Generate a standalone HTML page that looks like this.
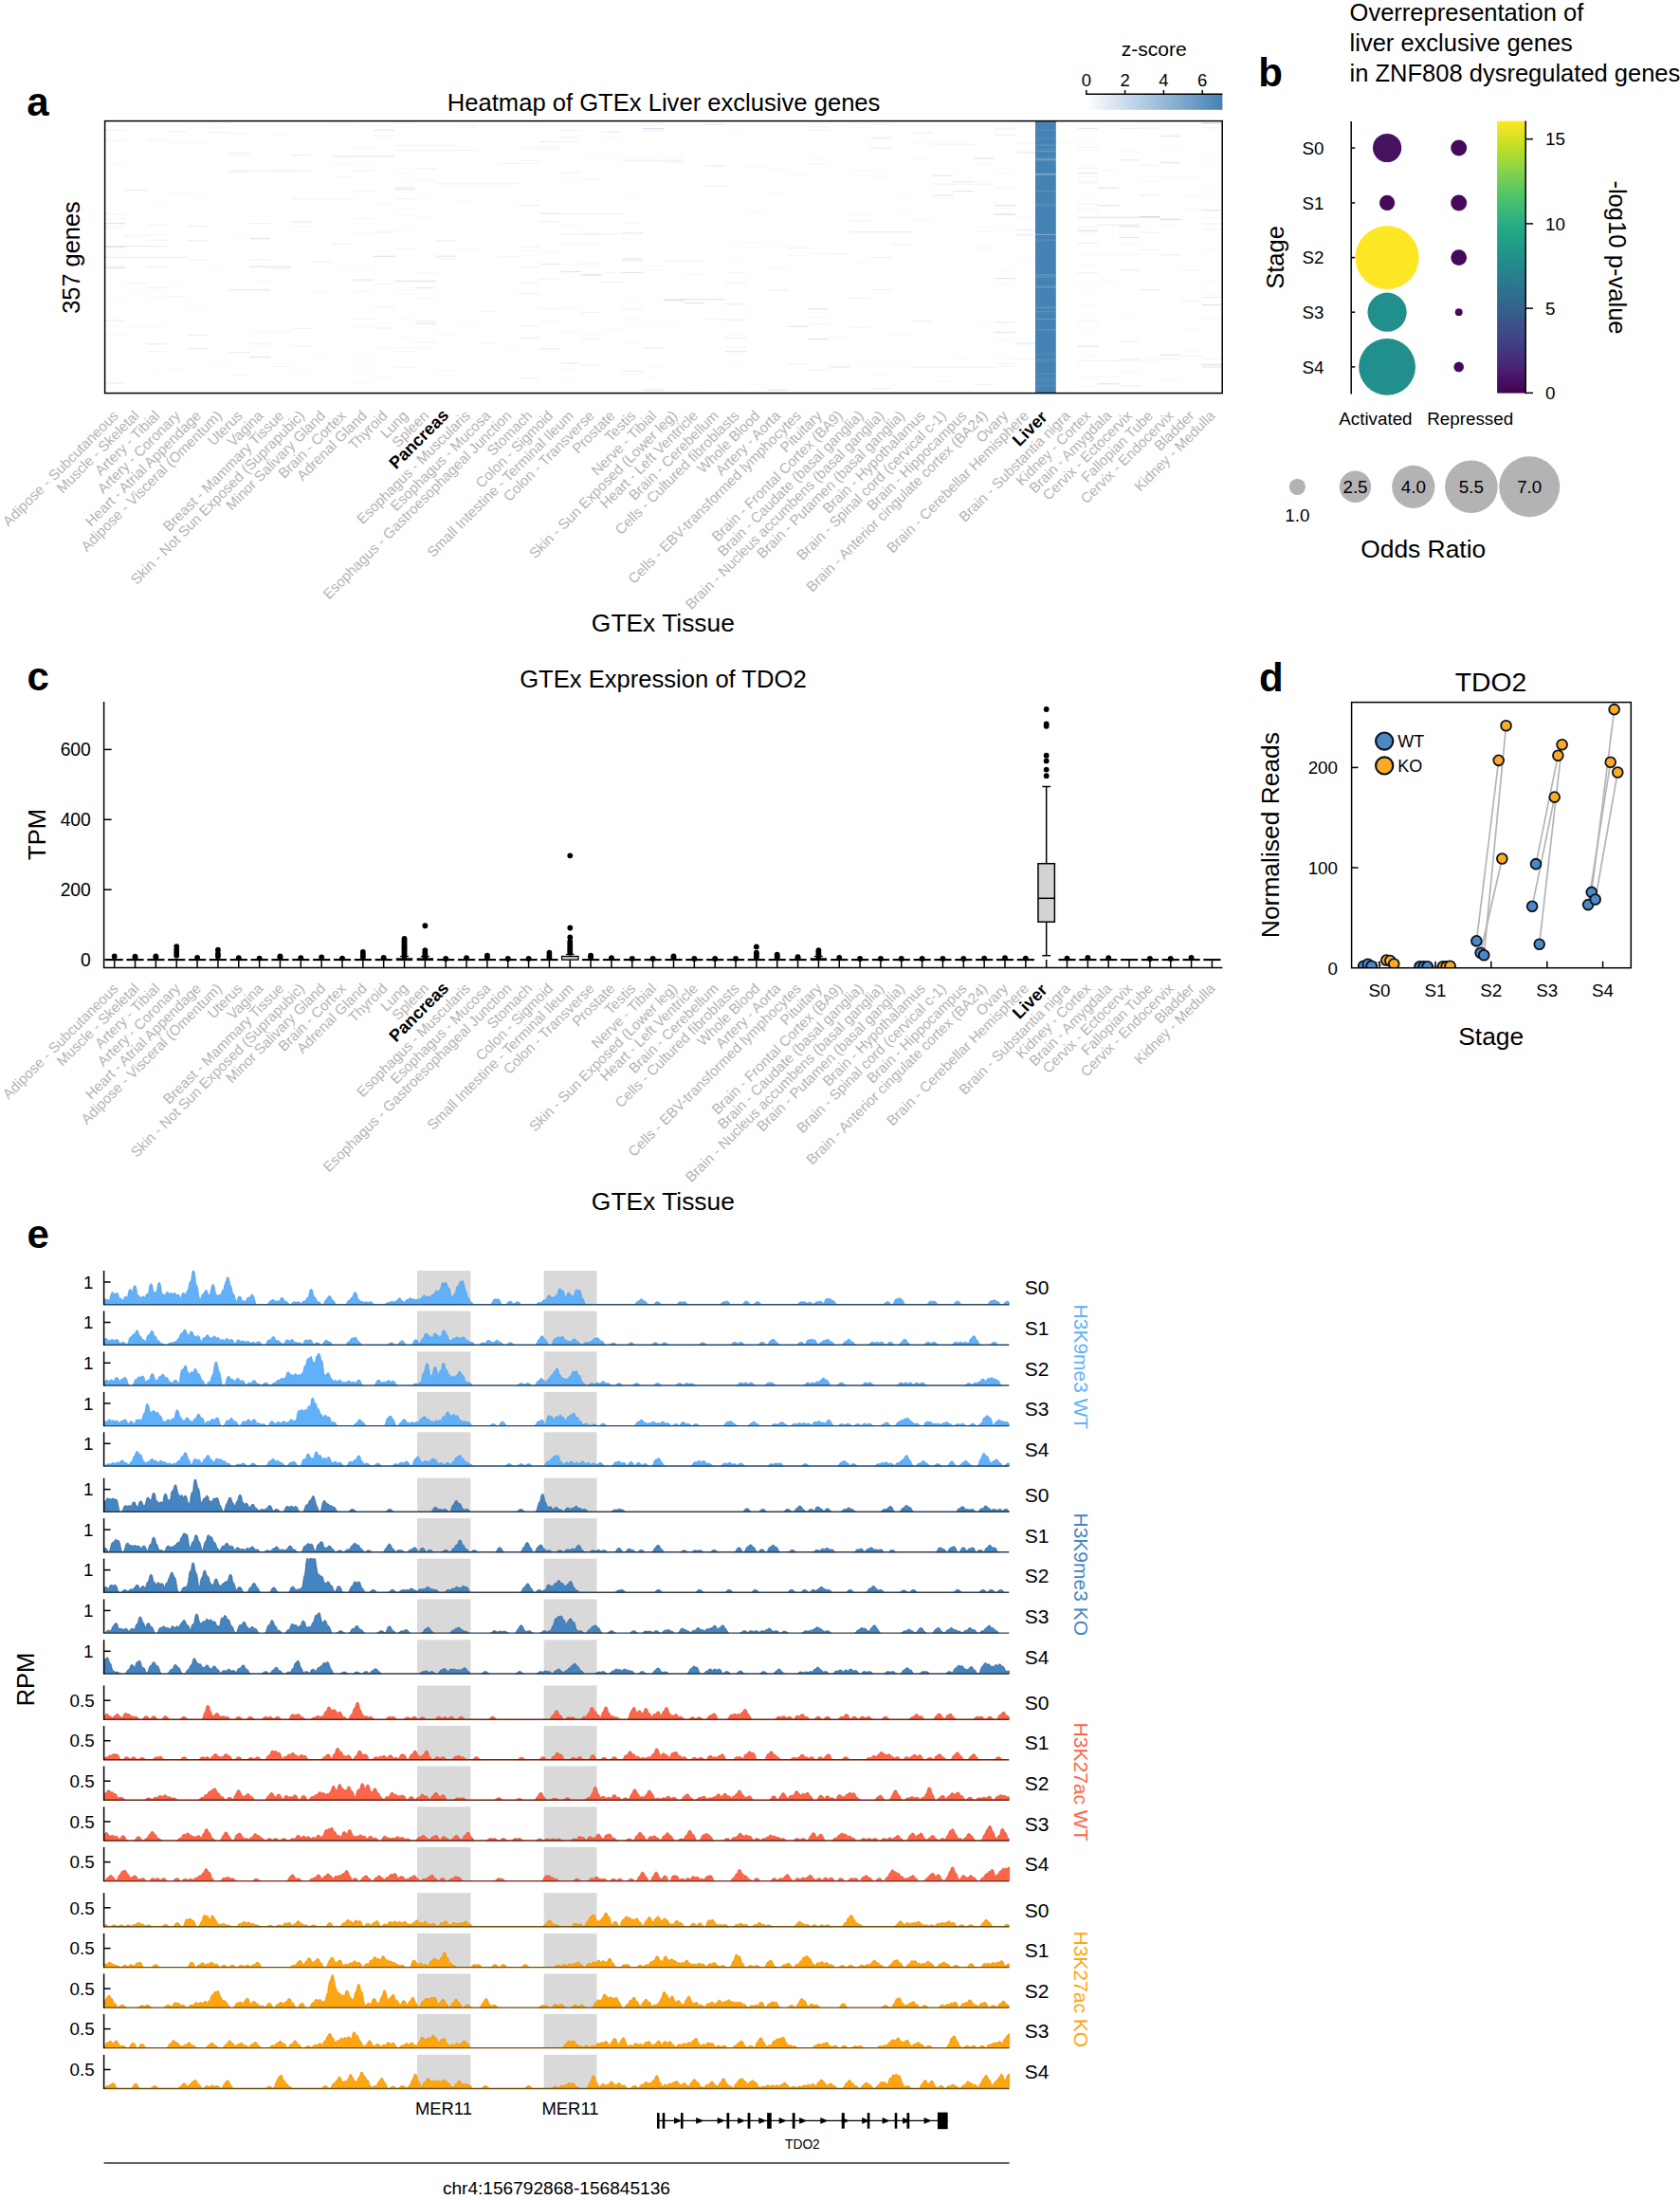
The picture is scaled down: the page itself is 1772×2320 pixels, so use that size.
<!DOCTYPE html>
<html><head><meta charset="utf-8"><title>Figure</title>
<style>html,body{margin:0;padding:0;background:#fff}svg{display:block}text{font-family:"Liberation Sans",Arial,sans-serif}</style>
</head><body>
<svg width="1772" height="2320" viewBox="0 0 1772 2320">
<rect width="1772" height="2320" fill="#fff"/>
<text x="28.20" y="121.60" font-size="42" text-anchor="start" fill="#000" font-weight="bold" >a</text>
<text x="700.10" y="117.30" font-size="25.6" text-anchor="middle" fill="#000" >Heatmap of GTEx Liver exclusive genes</text>
<text x="0" y="0" transform="translate(84.40,271.50) rotate(-90)" font-size="25.4" text-anchor="middle" fill="#000" >357 genes</text>
<path d="M656.2 287.6h21.8M1136.4 182.5h21.8M394.3 137.1h21.8M699.9 316.7h21.8M110.6 260.6h21.8M1005.5 201.6h21.8M1201.9 228.5h21.8M1049.1 293.6h21.8M1049.1 225.9h21.8M721.7 319.5h21.8M983.6 185.2h21.8M1180.1 238.8h21.8M1267.4 384.4h21.8M263.4 251.8h21.8M394.3 270.3h21.8M678.1 135.5h21.8M809.0 411.2h21.8M1180.1 250.6h21.8M241.6 305.9h43.7M612.6 289.9h21.8M852.7 326.0h21.8M1136.4 365.4h21.8M656.2 273.0h21.8M590.8 286.6h21.8M110.6 235.7h21.8M1223.7 231.2h21.8M1136.4 243.1h21.8M1158.2 198.0h21.8M1158.2 404.8h21.8M263.4 281.3h43.7M459.8 270.2h21.8M1136.4 229.2h87.3M1027.3 166.9h21.8M765.4 370.7h21.8M852.7 357.6h21.8M1049.1 350.3h21.8M699.9 315.8h65.5M830.9 344.3h21.8M1267.4 321.5h21.8M983.6 206.1h21.8M1267.4 129.6h21.8M438.0 341.3h21.8M1158.2 216.7h21.8M110.6 282.7h21.8M1223.7 374.1h21.8M1049.1 216.6h21.8M416.2 198.2h21.8M1223.7 171.7h21.8M350.7 165.0h65.5M416.2 296.4h43.7M263.4 376.7h21.8M1267.4 221.8h21.8M1267.4 386.9h21.8" stroke="#6c93bb" stroke-opacity="0.26" stroke-width="1" fill="none"/>
<path d="M1136.4 155.3h21.8M459.8 193.8h87.3M1070.9 242.3h21.8M416.2 153.3h65.5M612.6 189.1h21.8M372.5 202.0h21.8M394.3 299.4h21.8M219.7 139.6h21.8M1201.9 263.4h21.8M1267.4 378.5h21.8M852.7 390.0h21.8M394.3 243.6h21.8M568.9 294.2h21.8M590.8 182.5h21.8M896.3 314.6h21.8M918.2 271.4h21.8M1180.1 407.1h21.8M1136.4 287.6h21.8M285.2 283.3h21.8M394.3 323.7h21.8M263.4 273.6h21.8M961.8 387.4h87.3M350.7 257.5h21.8M372.5 294.6h21.8M590.8 383.2h21.8M1245.5 317.8h21.8M918.2 131.7h21.8M612.6 278.2h21.8M438.0 314.7h21.8M1049.1 142.8h21.8M525.3 172.5h21.8M940.0 258.0h21.8M459.8 272.7h21.8M918.2 409.5h21.8M547.1 156.2h43.7M634.4 297.5h21.8M1136.4 215.2h21.8M1136.4 338.4h21.8M1070.9 378.8h21.8M416.2 158.5h87.3M394.3 346.0h21.8M568.9 224.5h21.8M1201.9 245.2h21.8M568.9 278.9h21.8M438.0 177.6h21.8M1245.5 284.9h21.8M568.9 278.4h21.8M983.6 152.1h43.7M307.0 364.9h21.8M547.1 281.9h21.8M372.5 336.3h21.8M416.2 262.0h21.8M852.7 133.9h21.8M307.0 346.3h21.8M656.2 247.2h21.8M765.4 287.8h21.8M1049.1 383.3h21.8M263.4 362.8h21.8M547.1 344.0h21.8M328.9 276.2h21.8M241.6 161.2h21.8M612.6 385.4h21.8M852.7 342.1h21.8M743.6 196.5h21.8M1223.7 378.4h21.8M983.6 194.1h65.5M438.0 360.8h21.8M132.4 298.9h21.8M1049.1 198.4h21.8M154.3 146.8h21.8M678.1 137.7h21.8M132.4 249.4h21.8M1136.4 177.3h21.8M1223.7 232.0h21.8M918.2 145.2h21.8M568.9 149.3h21.8M547.1 172.2h21.8M852.7 137.6h21.8M656.2 325.7h21.8M1136.4 192.8h21.8M678.1 131.8h21.8M154.3 370.8h21.8M154.3 237.5h21.8M416.2 370.8h21.8M110.6 239.7h21.8M830.9 261.8h21.8M176.1 138.6h21.8M568.9 225.6h87.3M590.8 246.6h65.5M1070.9 151.0h21.8M874.5 267.9h21.8M896.3 233.0h21.8M612.6 329.4h21.8M263.4 235.7h21.8M241.6 140.6h21.8M154.3 253.2h21.8M568.9 325.7h21.8M590.8 137.7h21.8M590.8 145.0h21.8M765.4 320.3h21.8M568.9 233.5h21.8M547.1 309.8h21.8M1136.4 380.7h65.5M154.3 303.7h21.8M110.6 225.8h21.8M1267.4 236.0h21.8M241.6 395.9h21.8M176.1 204.1h21.8M241.6 163.6h21.8M154.3 247.6h21.8M1136.4 238.8h21.8M110.6 137.2h21.8M547.1 260.6h21.8M918.2 305.5h21.8M307.0 233.9h21.8M1180.1 135.5h21.8M197.9 274.1h21.8M438.0 338.6h21.8M743.6 336.8h21.8M1267.4 130.6h21.8M547.1 298.4h21.8M699.9 275.2h43.7M1136.4 221.8h21.8M307.0 209.7h65.5M699.9 171.3h21.8M1267.4 229.9h21.8M830.9 384.0h21.8M547.1 398.7h21.8M110.6 281.2h21.8M438.0 287.9h21.8M416.2 209.6h21.8M765.4 337.0h21.8" stroke="#6c93bb" stroke-opacity="0.12" stroke-width="1" fill="none"/>
<path d="M765.4 381.5h21.8M1136.4 146.5h21.8M590.8 285.2h21.8M1245.5 369.2h21.8M1267.4 296.9h21.8M568.9 371.2h43.7M568.9 265.6h21.8M328.9 333.2h21.8M656.2 314.2h21.8M1201.9 186.5h65.5M743.6 405.0h21.8M1267.4 134.6h21.8M1049.1 219.2h21.8M1136.4 247.1h21.8M110.6 149.1h21.8M765.4 275.9h21.8M197.9 134.9h21.8M263.4 228.2h21.8M1136.4 207.6h21.8M438.0 229.2h21.8M285.2 141.9h21.8M1027.3 343.0h21.8M1136.4 386.0h21.8M918.2 186.8h21.8M1136.4 219.6h21.8M678.1 136.7h21.8M678.1 398.2h21.8M372.5 280.8h21.8M1267.4 163.2h21.8M241.6 247.7h21.8M263.4 349.9h43.7M1005.5 378.2h21.8M874.5 355.5h21.8M1223.7 155.6h21.8M961.8 150.6h21.8M547.1 308.7h21.8M372.5 175.5h21.8M503.5 261.8h21.8M1267.4 385.0h21.8M590.8 180.3h21.8M1267.4 311.0h21.8M1267.4 135.1h21.8M416.2 242.6h21.8M176.1 298.3h21.8M1049.1 141.5h21.8M1049.1 196.3h21.8M918.2 184.3h21.8M110.6 202.3h21.8M219.7 282.4h21.8M699.9 166.5h21.8M940.0 221.5h21.8M765.4 352.4h21.8M678.1 281.2h21.8M896.3 277.4h21.8M154.3 216.2h21.8M307.0 389.8h21.8M110.6 265.2h21.8M590.8 400.0h21.8M154.3 391.1h21.8M1267.4 204.3h21.8M197.9 205.3h21.8M590.8 389.0h21.8M961.8 340.6h21.8M809.0 258.7h21.8M1049.1 286.4h21.8M568.9 157.5h21.8M1136.4 296.9h43.7M481.6 211.9h21.8M110.6 315.9h21.8M350.7 284.2h21.8M1223.7 143.8h21.8M612.6 163.4h43.7M372.5 372.6h21.8M394.3 398.2h21.8M328.9 373.3h21.8M438.0 206.2h21.8M416.2 310.3h21.8M176.1 389.1h21.8M372.5 404.3h21.8M1136.4 137.4h21.8M656.2 327.0h21.8M656.2 340.2h65.5M656.2 394.3h21.8M394.3 367.0h65.5M1070.9 276.1h21.8M852.7 168.4h21.8M416.2 355.7h21.8M1245.5 347.7h21.8M416.2 191.1h21.8M1049.1 377.8h21.8M285.2 178.3h21.8M590.8 220.1h21.8M547.1 202.3h21.8M110.6 344.6h65.5M1223.7 141.9h21.8M372.5 401.0h21.8M1136.4 363.7h21.8M154.3 314.1h21.8M372.5 179.7h21.8M1136.4 344.9h21.8M481.6 342.8h21.8M1136.4 307.1h21.8M765.4 140.7h21.8M656.2 209.3h21.8M918.2 394.9h21.8M721.7 410.8h21.8M1267.4 196.3h21.8M1136.4 347.5h21.8M307.0 232.5h21.8M874.5 384.7h87.3M590.8 258.3h21.8M940.0 204.6h21.8M1136.4 370.1h21.8M219.7 383.2h21.8M1005.5 411.9h21.8M219.7 354.3h21.8M1267.4 263.1h21.8M787.2 405.3h21.8M830.9 176.9h21.8M809.0 177.9h21.8M110.6 172.3h21.8M1027.3 173.1h21.8M678.1 387.6h21.8M438.0 189.6h21.8M1158.2 397.4h21.8M612.6 256.6h21.8M590.8 191.8h21.8M372.5 345.2h21.8M547.1 154.1h43.7M874.5 388.0h21.8M656.2 252.7h21.8M1180.1 335.3h21.8M525.3 364.8h21.8M590.8 324.8h21.8M416.2 336.0h21.8M372.5 386.5h21.8M241.6 181.5h21.8M1136.4 407.5h21.8" stroke="#6c93bb" stroke-opacity="0.05" stroke-width="1" fill="none"/>
<path d="M590.8 257.3h21.8M830.9 184.1h21.8M590.8 149.3h21.8M1070.9 162.1h21.8M787.2 255.7h21.8M568.9 149.7h21.8M263.4 295.4h21.8M350.7 172.4h21.8M416.2 182.5h21.8M634.4 145.8h21.8M1180.1 407.1h21.8M765.4 337.9h21.8M547.1 169.3h21.8M612.6 357.5h21.8M1245.5 207.2h21.8M416.2 226.8h21.8M110.6 280.0h21.8M634.4 287.3h21.8M1245.5 375.7h21.8M1136.4 243.4h21.8M590.8 278.9h21.8M1136.4 280.3h21.8M1136.4 302.3h21.8M1049.1 358.8h21.8M459.8 390.7h21.8M372.5 156.1h21.8M612.6 352.9h21.8M896.3 226.2h21.8M350.7 186.5h21.8M416.2 387.4h21.8M1070.9 243.8h21.8M1223.7 238.2h21.8M1049.1 136.2h21.8M1027.3 261.6h21.8M961.8 232.0h21.8M852.7 334.5h21.8M1049.1 182.5h21.8M1201.9 174.3h21.8M547.1 264.5h21.8M656.2 362.1h21.8M1049.1 239.4h21.8M1070.9 363.2h21.8M1114.6 150.2h21.8M983.6 208.9h21.8M1267.4 335.9h21.8M765.4 366.1h21.8M394.3 145.0h21.8M612.6 248.0h21.8M328.9 309.0h21.8M372.5 230.6h21.8M394.3 142.7h21.8M1180.1 256.4h21.8M852.7 173.3h21.8M285.2 386.5h21.8M1070.9 129.0h21.8M154.3 149.7h65.5M1136.4 332.9h21.8M896.3 179.5h21.8M503.5 362.4h21.8M459.8 352.6h21.8M525.3 270.7h21.8M372.5 393.7h21.8M656.2 335.9h21.8M590.8 350.9h21.8M896.3 345.4h21.8M612.6 357.3h21.8M1049.1 135.4h21.8M1158.2 411.3h21.8M372.5 180.0h21.8M394.3 214.1h21.8M612.6 290.1h21.8M110.6 353.1h21.8M1136.4 322.9h21.8M634.4 348.1h21.8M1158.2 179.7h21.8M809.0 282.9h21.8M1049.1 299.2h21.8M1027.3 405.8h21.8M1201.9 190.6h21.8M1201.9 379.8h21.8M132.4 247.4h21.8M787.2 175.1h21.8M416.2 133.9h21.8M721.7 289.7h21.8M852.7 267.3h21.8M656.2 235.7h21.8M765.4 256.2h21.8M1245.5 375.2h21.8M1070.9 228.2h21.8M1049.1 386.3h21.8M809.0 203.0h21.8M1267.4 171.2h21.8M219.7 134.1h21.8M983.6 402.4h21.8M416.2 220.9h21.8M1136.4 186.8h21.8M350.7 132.5h21.8M961.8 168.0h21.8M1027.3 244.5h21.8M481.6 134.1h21.8M678.1 411.8h21.8M1201.9 135.3h21.8M765.4 321.8h21.8M307.0 234.5h21.8M481.6 263.0h21.8M1245.5 220.1h21.8M590.8 237.8h21.8M416.2 305.5h21.8M1267.4 242.8h21.8M1180.1 160.1h21.8M765.4 374.4h21.8M1136.4 268.0h65.5M1223.7 399.9h21.8M372.5 307.3h21.8M1136.4 397.2h21.8M110.6 148.2h21.8M503.5 328.4h21.8M176.1 312.7h21.8M568.9 339.7h21.8M394.3 245.5h21.8M1136.4 376.6h21.8M918.2 145.9h21.8M1267.4 240.8h21.8M940.0 353.0h21.8M830.9 269.8h21.8M699.9 164.0h21.8M1136.4 158.2h21.8M590.8 383.0h21.8M110.6 230.7h21.8M132.4 306.0h21.8M896.3 134.9h21.8M197.9 323.2h21.8M372.5 246.4h21.8M1180.1 392.9h21.8M678.1 284.7h21.8M481.6 132.8h21.8M830.9 259.9h21.8M787.2 223.2h21.8M1136.4 190.7h21.8M1049.1 226.3h21.8M307.0 239.3h21.8M612.6 350.1h21.8" stroke="#6c93bb" stroke-opacity="0.08" stroke-width="1" fill="none"/>
<path d="M1223.7 143.5h21.8M1070.9 247.7h21.8M809.0 306.1h21.8M656.2 391.5h21.8M874.5 387.0h21.8M197.9 253.8h21.8M110.6 403.9h21.8M154.3 281.6h21.8M197.9 238.8h21.8M656.2 274.9h21.8M197.9 367.7h21.8M1180.1 284.8h21.8M765.4 298.0h21.8M896.3 244.7h65.5M1136.4 135.4h21.8M1267.4 313.5h21.8M918.2 156.3h21.8M634.4 139.2h21.8M307.0 163.8h21.8M1070.9 361.8h21.8M1201.9 305.5h21.8M459.8 253.9h21.8M961.8 338.1h21.8M656.2 169.2h65.5M656.2 245.4h21.8M678.1 411.1h21.8M438.0 303.6h21.8M1180.1 360.2h21.8M110.6 259.7h65.5M1070.9 160.4h21.8M1180.1 168.8h21.8M241.6 371.5h21.8M568.9 368.0h21.8M1136.4 256.4h21.8M1005.5 191.5h21.8M1201.9 205.8h21.8M1158.2 237.1h43.7M961.8 140.1h21.8M132.4 200.7h21.8M416.2 200.2h21.8M765.4 356.3h21.8M1180.1 378.7h21.8M678.1 367.1h21.8M110.6 271.3h87.3M743.6 131.5h21.8M1049.1 339.9h21.8M241.6 180.2h87.3M547.1 216.7h21.8M197.9 353.4h21.8M743.6 175.0h21.8M372.5 296.0h21.8M110.6 337.9h21.8M1223.7 268.8h21.8M547.1 356.6h21.8M154.3 362.9h21.8" stroke="#6c93bb" stroke-opacity="0.18" stroke-width="1" fill="none"/>
<rect x="1091.97" y="127.60" width="21.83" height="287.00" fill="#4682b4" />
<path d="M1092.0 324.2h21.8" stroke="#fff" stroke-opacity="0.2" stroke-width="1"/>
<path d="M1092.0 336.4h21.8" stroke="#fff" stroke-opacity="0.2" stroke-width="1"/>
<path d="M1092.0 289.9h21.8" stroke="#fff" stroke-opacity="0.2" stroke-width="1"/>
<path d="M1092.0 381.0h21.8" stroke="#fff" stroke-opacity="0.1" stroke-width="1"/>
<path d="M1092.0 399.3h21.8" stroke="#fff" stroke-opacity="0.1" stroke-width="1"/>
<path d="M1092.0 292.4h21.8" stroke="#fff" stroke-opacity="0.1" stroke-width="1"/>
<path d="M1092.0 214.8h21.8" stroke="#fff" stroke-opacity="0.1" stroke-width="1"/>
<path d="M1092.0 157.7h21.8" stroke="#fff" stroke-opacity="0.1" stroke-width="1"/>
<path d="M1092.0 184.3h21.8" stroke="#fff" stroke-opacity="0.2" stroke-width="1"/>
<path d="M1092.0 216.8h21.8" stroke="#fff" stroke-opacity="0.15" stroke-width="1"/>
<path d="M1092.0 146.1h21.8" stroke="#fff" stroke-opacity="0.1" stroke-width="1"/>
<path d="M1092.0 168.7h21.8" stroke="#fff" stroke-opacity="0.35" stroke-width="1"/>
<path d="M1092.0 291.3h21.8" stroke="#fff" stroke-opacity="0.1" stroke-width="1"/>
<path d="M1092.0 253.1h21.8" stroke="#fff" stroke-opacity="0.15" stroke-width="1"/>
<path d="M1092.0 153.1h21.8" stroke="#fff" stroke-opacity="0.2" stroke-width="1"/>
<path d="M1092.0 303.2h21.8" stroke="#fff" stroke-opacity="0.15" stroke-width="1"/>
<path d="M1092.0 379.3h21.8" stroke="#fff" stroke-opacity="0.1" stroke-width="1"/>
<path d="M1092.0 247.5h21.8" stroke="#fff" stroke-opacity="0.35" stroke-width="1"/>
<path d="M1092.0 183.6h21.8" stroke="#fff" stroke-opacity="0.35" stroke-width="1"/>
<path d="M1092.0 137.0h21.8" stroke="#fff" stroke-opacity="0.1" stroke-width="1"/>
<path d="M1092.0 167.0h21.8" stroke="#fff" stroke-opacity="0.2" stroke-width="1"/>
<path d="M1092.0 201.6h21.8" stroke="#fff" stroke-opacity="0.15" stroke-width="1"/>
<path d="M1092.0 328.7h21.8" stroke="#fff" stroke-opacity="0.15" stroke-width="1"/>
<path d="M1092.0 406.8h21.8" stroke="#fff" stroke-opacity="0.15" stroke-width="1"/>
<path d="M1092.0 373.3h21.8" stroke="#fff" stroke-opacity="0.1" stroke-width="1"/>
<path d="M1092.0 302.1h21.8" stroke="#fff" stroke-opacity="0.2" stroke-width="1"/>
<path d="M1092.0 394.6h21.8" stroke="#fff" stroke-opacity="0.1" stroke-width="1"/>
<path d="M1092.0 347.8h21.8" stroke="#fff" stroke-opacity="0.15" stroke-width="1"/>
<path d="M1092.0 402.1h21.8" stroke="#fff" stroke-opacity="0.1" stroke-width="1"/>
<path d="M1092.0 159.7h21.8" stroke="#fff" stroke-opacity="0.2" stroke-width="1"/>
<rect x="110.6" y="127.6" width="1178.60" height="287.00" fill="none" stroke="#000" stroke-width="1.5"/>
<text x="0" y="0" transform="translate(125.71,439.30) rotate(-45)" font-size="15.15" text-anchor="end" fill="#b4b4b4" >Adipose - Subcutaneous</text>
<text x="0" y="0" transform="translate(147.54,439.30) rotate(-45)" font-size="15.15" text-anchor="end" fill="#b4b4b4" >Muscle - Skeletal</text>
<text x="0" y="0" transform="translate(169.36,439.30) rotate(-45)" font-size="15.15" text-anchor="end" fill="#b4b4b4" >Artery - Tibial</text>
<text x="0" y="0" transform="translate(191.19,439.30) rotate(-45)" font-size="15.15" text-anchor="end" fill="#b4b4b4" >Artery - Coronary</text>
<text x="0" y="0" transform="translate(213.02,439.30) rotate(-45)" font-size="15.15" text-anchor="end" fill="#b4b4b4" >Heart - Atrial Appendage</text>
<text x="0" y="0" transform="translate(234.84,439.30) rotate(-45)" font-size="15.15" text-anchor="end" fill="#b4b4b4" >Adipose - Visceral (Omentum)</text>
<text x="0" y="0" transform="translate(256.67,439.30) rotate(-45)" font-size="15.15" text-anchor="end" fill="#b4b4b4" >Uterus</text>
<text x="0" y="0" transform="translate(278.49,439.30) rotate(-45)" font-size="15.15" text-anchor="end" fill="#b4b4b4" >Vagina</text>
<text x="0" y="0" transform="translate(300.32,439.30) rotate(-45)" font-size="15.15" text-anchor="end" fill="#b4b4b4" >Breast - Mammary Tissue</text>
<text x="0" y="0" transform="translate(322.15,439.30) rotate(-45)" font-size="15.15" text-anchor="end" fill="#b4b4b4" >Skin - Not Sun Exposed (Suprapubic)</text>
<text x="0" y="0" transform="translate(343.97,439.30) rotate(-45)" font-size="15.15" text-anchor="end" fill="#b4b4b4" >Minor Salivary Gland</text>
<text x="0" y="0" transform="translate(365.80,439.30) rotate(-45)" font-size="15.15" text-anchor="end" fill="#b4b4b4" >Brain - Cortex</text>
<text x="0" y="0" transform="translate(387.62,439.30) rotate(-45)" font-size="15.15" text-anchor="end" fill="#b4b4b4" >Adrenal Gland</text>
<text x="0" y="0" transform="translate(409.45,439.30) rotate(-45)" font-size="15.15" text-anchor="end" fill="#b4b4b4" >Thyroid</text>
<text x="0" y="0" transform="translate(431.28,439.30) rotate(-45)" font-size="15.15" text-anchor="end" fill="#b4b4b4" >Lung</text>
<text x="0" y="0" transform="translate(453.10,439.30) rotate(-45)" font-size="15.15" text-anchor="end" fill="#b4b4b4" >Spleen</text>
<text x="0" y="0" transform="translate(474.33,439.00) rotate(-45)" font-size="18.0" text-anchor="end" fill="#000" font-weight="bold" >Pancreas</text>
<text x="0" y="0" transform="translate(496.75,439.30) rotate(-45)" font-size="15.15" text-anchor="end" fill="#b4b4b4" >Esophagus - Muscularis</text>
<text x="0" y="0" transform="translate(518.58,439.30) rotate(-45)" font-size="15.15" text-anchor="end" fill="#b4b4b4" >Esophagus - Mucosa</text>
<text x="0" y="0" transform="translate(540.41,439.30) rotate(-45)" font-size="15.15" text-anchor="end" fill="#b4b4b4" >Esophagus - Gastroesophageal Junction</text>
<text x="0" y="0" transform="translate(562.23,439.30) rotate(-45)" font-size="15.15" text-anchor="end" fill="#b4b4b4" >Stomach</text>
<text x="0" y="0" transform="translate(584.06,439.30) rotate(-45)" font-size="15.15" text-anchor="end" fill="#b4b4b4" >Colon - Sigmoid</text>
<text x="0" y="0" transform="translate(605.88,439.30) rotate(-45)" font-size="15.15" text-anchor="end" fill="#b4b4b4" >Small Intestine - Terminal Ileum</text>
<text x="0" y="0" transform="translate(627.71,439.30) rotate(-45)" font-size="15.15" text-anchor="end" fill="#b4b4b4" >Colon - Transverse</text>
<text x="0" y="0" transform="translate(649.54,439.30) rotate(-45)" font-size="15.15" text-anchor="end" fill="#b4b4b4" >Prostate</text>
<text x="0" y="0" transform="translate(671.36,439.30) rotate(-45)" font-size="15.15" text-anchor="end" fill="#b4b4b4" >Testis</text>
<text x="0" y="0" transform="translate(693.19,439.30) rotate(-45)" font-size="15.15" text-anchor="end" fill="#b4b4b4" >Nerve - Tibial</text>
<text x="0" y="0" transform="translate(715.01,439.30) rotate(-45)" font-size="15.15" text-anchor="end" fill="#b4b4b4" >Skin - Sun Exposed (Lower leg)</text>
<text x="0" y="0" transform="translate(736.84,439.30) rotate(-45)" font-size="15.15" text-anchor="end" fill="#b4b4b4" >Heart - Left Ventricle</text>
<text x="0" y="0" transform="translate(758.66,439.30) rotate(-45)" font-size="15.15" text-anchor="end" fill="#b4b4b4" >Brain - Cerebellum</text>
<text x="0" y="0" transform="translate(780.49,439.30) rotate(-45)" font-size="15.15" text-anchor="end" fill="#b4b4b4" >Cells - Cultured fibroblasts</text>
<text x="0" y="0" transform="translate(802.32,439.30) rotate(-45)" font-size="15.15" text-anchor="end" fill="#b4b4b4" >Whole Blood</text>
<text x="0" y="0" transform="translate(824.14,439.30) rotate(-45)" font-size="15.15" text-anchor="end" fill="#b4b4b4" >Artery - Aorta</text>
<text x="0" y="0" transform="translate(845.97,439.30) rotate(-45)" font-size="15.15" text-anchor="end" fill="#b4b4b4" >Cells - EBV-transformed lymphocytes</text>
<text x="0" y="0" transform="translate(867.79,439.30) rotate(-45)" font-size="15.15" text-anchor="end" fill="#b4b4b4" >Pituitary</text>
<text x="0" y="0" transform="translate(889.62,439.30) rotate(-45)" font-size="15.15" text-anchor="end" fill="#b4b4b4" >Brain - Frontal Cortex (BA9)</text>
<text x="0" y="0" transform="translate(911.45,439.30) rotate(-45)" font-size="15.15" text-anchor="end" fill="#b4b4b4" >Brain - Caudate (basal ganglia)</text>
<text x="0" y="0" transform="translate(933.27,439.30) rotate(-45)" font-size="15.15" text-anchor="end" fill="#b4b4b4" >Brain - Nucleus accumbens (basal ganglia)</text>
<text x="0" y="0" transform="translate(955.10,439.30) rotate(-45)" font-size="15.15" text-anchor="end" fill="#b4b4b4" >Brain - Putamen (basal ganglia)</text>
<text x="0" y="0" transform="translate(976.92,439.30) rotate(-45)" font-size="15.15" text-anchor="end" fill="#b4b4b4" >Brain - Hypothalamus</text>
<text x="0" y="0" transform="translate(998.75,439.30) rotate(-45)" font-size="15.15" text-anchor="end" fill="#b4b4b4" >Brain - Spinal cord (cervical c-1)</text>
<text x="0" y="0" transform="translate(1020.58,439.30) rotate(-45)" font-size="15.15" text-anchor="end" fill="#b4b4b4" >Brain - Hippocampus</text>
<text x="0" y="0" transform="translate(1042.40,439.30) rotate(-45)" font-size="15.15" text-anchor="end" fill="#b4b4b4" >Brain - Anterior cingulate cortex (BA24)</text>
<text x="0" y="0" transform="translate(1064.23,439.30) rotate(-45)" font-size="15.15" text-anchor="end" fill="#b4b4b4" >Ovary</text>
<text x="0" y="0" transform="translate(1086.05,439.30) rotate(-45)" font-size="15.15" text-anchor="end" fill="#b4b4b4" >Brain - Cerebellar Hemisphere</text>
<text x="0" y="0" transform="translate(1105.68,441.00) rotate(-45)" font-size="18.0" text-anchor="end" fill="#000" font-weight="bold" >Liver</text>
<text x="0" y="0" transform="translate(1129.71,439.30) rotate(-45)" font-size="15.15" text-anchor="end" fill="#b4b4b4" >Brain - Substantia nigra</text>
<text x="0" y="0" transform="translate(1151.53,439.30) rotate(-45)" font-size="15.15" text-anchor="end" fill="#b4b4b4" >Kidney - Cortex</text>
<text x="0" y="0" transform="translate(1173.36,439.30) rotate(-45)" font-size="15.15" text-anchor="end" fill="#b4b4b4" >Brain - Amygdala</text>
<text x="0" y="0" transform="translate(1195.18,439.30) rotate(-45)" font-size="15.15" text-anchor="end" fill="#b4b4b4" >Cervix - Ectocervix</text>
<text x="0" y="0" transform="translate(1217.01,439.30) rotate(-45)" font-size="15.15" text-anchor="end" fill="#b4b4b4" >Fallopian Tube</text>
<text x="0" y="0" transform="translate(1238.84,439.30) rotate(-45)" font-size="15.15" text-anchor="end" fill="#b4b4b4" >Cervix - Endocervix</text>
<text x="0" y="0" transform="translate(1260.66,439.30) rotate(-45)" font-size="15.15" text-anchor="end" fill="#b4b4b4" >Bladder</text>
<text x="0" y="0" transform="translate(1282.49,439.30) rotate(-45)" font-size="15.15" text-anchor="end" fill="#b4b4b4" >Kidney - Medulla</text>
<text x="699.40" y="666.30" font-size="26.4" text-anchor="middle" fill="#000" >GTEx Tissue</text>
<defs><linearGradient id="gb" x1="0" x2="1" y1="0" y2="0"><stop offset="0" stop-color="#ffffff"/><stop offset="0.5" stop-color="#a3c1dd"/><stop offset="1" stop-color="#4682b4"/></linearGradient></defs>
<rect x="1145.80" y="99.20" width="143.60" height="16.60" fill="url(#gb)" />
<line x1="1145.10" y1="99.20" x2="1289.40" y2="99.20" stroke="#000" stroke-width="1.5" />
<line x1="1145.80" y1="99.20" x2="1145.80" y2="95.00" stroke="#000" stroke-width="1.5" />
<text x="1145.80" y="91.00" font-size="18.5" text-anchor="middle" fill="#000" >0</text>
<line x1="1186.60" y1="99.20" x2="1186.60" y2="95.00" stroke="#000" stroke-width="1.5" />
<text x="1186.60" y="91.00" font-size="18.5" text-anchor="middle" fill="#000" >2</text>
<line x1="1227.40" y1="99.20" x2="1227.40" y2="95.00" stroke="#000" stroke-width="1.5" />
<text x="1227.40" y="91.00" font-size="18.5" text-anchor="middle" fill="#000" >4</text>
<line x1="1268.20" y1="99.20" x2="1268.20" y2="95.00" stroke="#000" stroke-width="1.5" />
<text x="1268.20" y="91.00" font-size="18.5" text-anchor="middle" fill="#000" >6</text>
<text x="1217.30" y="59.00" font-size="21" text-anchor="middle" fill="#000" >z-score</text>
<text x="1327.20" y="90.60" font-size="42" text-anchor="start" fill="#000" font-weight="bold" >b</text>
<text x="1423.60" y="21.50" font-size="25.5" text-anchor="start" fill="#000" >Overrepresentation of</text>
<text x="1423.60" y="53.50" font-size="25.5" text-anchor="start" fill="#000" >liver exclusive genes</text>
<text x="1423.60" y="85.50" font-size="25.5" text-anchor="start" fill="#000" >in ZNF808 dysregulated genes</text>
<line x1="1425.20" y1="128.00" x2="1425.20" y2="415.40" stroke="#000" stroke-width="1.5" />
<line x1="1425.20" y1="156.00" x2="1429.20" y2="156.00" stroke="#000" stroke-width="1.5" />
<text x="1396.50" y="162.70" font-size="18.8" text-anchor="end" fill="#000" >S0</text>
<line x1="1425.20" y1="213.90" x2="1429.20" y2="213.90" stroke="#000" stroke-width="1.5" />
<text x="1396.50" y="220.60" font-size="18.8" text-anchor="end" fill="#000" >S1</text>
<line x1="1425.20" y1="271.60" x2="1429.20" y2="271.60" stroke="#000" stroke-width="1.5" />
<text x="1396.50" y="278.30" font-size="18.8" text-anchor="end" fill="#000" >S2</text>
<line x1="1425.20" y1="329.20" x2="1429.20" y2="329.20" stroke="#000" stroke-width="1.5" />
<text x="1396.50" y="335.90" font-size="18.8" text-anchor="end" fill="#000" >S3</text>
<line x1="1425.20" y1="386.90" x2="1429.20" y2="386.90" stroke="#000" stroke-width="1.5" />
<text x="1396.50" y="393.60" font-size="18.8" text-anchor="end" fill="#000" >S4</text>
<text x="0" y="0" transform="translate(1354.00,271.50) rotate(-90)" font-size="25.5" text-anchor="middle" fill="#000" >Stage</text>
<defs><linearGradient id="gv" x1="0" x2="0" y1="1" y2="0"><stop offset="0.0" stop-color="#440154"/><stop offset="0.1" stop-color="#482475"/><stop offset="0.2" stop-color="#414487"/><stop offset="0.3" stop-color="#355f8d"/><stop offset="0.4" stop-color="#2a788e"/><stop offset="0.5" stop-color="#21918c"/><stop offset="0.6" stop-color="#22a884"/><stop offset="0.7" stop-color="#44bf70"/><stop offset="0.8" stop-color="#7ad151"/><stop offset="0.9" stop-color="#bddf26"/><stop offset="1.0" stop-color="#fde725"/></linearGradient></defs>
<rect x="1579.10" y="127.60" width="30.10" height="287.00" fill="url(#gv)" />
<line x1="1609.20" y1="127.60" x2="1609.20" y2="415.20" stroke="#000" stroke-width="1.5" />
<line x1="1609.20" y1="414.40" x2="1617.00" y2="414.40" stroke="#000" stroke-width="1.5" />
<text x="1630.00" y="421.10" font-size="18.8" text-anchor="start" fill="#000" >0</text>
<line x1="1609.20" y1="325.15" x2="1617.00" y2="325.15" stroke="#000" stroke-width="1.5" />
<text x="1630.00" y="331.85" font-size="18.8" text-anchor="start" fill="#000" >5</text>
<line x1="1609.20" y1="235.90" x2="1617.00" y2="235.90" stroke="#000" stroke-width="1.5" />
<text x="1630.00" y="242.60" font-size="18.8" text-anchor="start" fill="#000" >10</text>
<line x1="1609.20" y1="146.65" x2="1617.00" y2="146.65" stroke="#000" stroke-width="1.5" />
<text x="1630.00" y="153.35" font-size="18.8" text-anchor="start" fill="#000" >15</text>
<text x="0" y="0" transform="translate(1697.30,271.50) rotate(90)" font-size="25.6" text-anchor="middle" fill="#000" >-log10 p-value</text>
<circle cx="1463.10" cy="156.00" r="15.10" fill="#46125f" />
<circle cx="1463.10" cy="213.90" r="8.10" fill="#450a5b" />
<circle cx="1463.10" cy="271.60" r="33.50" fill="#fde725" />
<circle cx="1463.10" cy="329.20" r="20.60" fill="#21908c" />
<circle cx="1463.10" cy="386.90" r="29.90" fill="#21908c" />
<circle cx="1538.70" cy="156.00" r="8.50" fill="#450a5b" />
<circle cx="1538.70" cy="213.90" r="8.50" fill="#450a5b" />
<circle cx="1538.70" cy="271.60" r="8.40" fill="#450a5b" />
<circle cx="1538.70" cy="329.20" r="3.90" fill="#450a5b" />
<circle cx="1538.70" cy="386.90" r="5.30" fill="#450a5b" />
<text x="1450.90" y="448.20" font-size="18.8" text-anchor="middle" fill="#000" >Activated</text>
<text x="1550.70" y="448.20" font-size="18.8" text-anchor="middle" fill="#000" >Repressed</text>
<circle cx="1368.40" cy="513.30" r="8.60" fill="#b3b3b3" />
<text x="1368.40" y="549.60" font-size="18.8" text-anchor="middle" fill="#000" >1.0</text>
<circle cx="1429.50" cy="513.30" r="16.70" fill="#b3b3b3" />
<text x="1429.50" y="520.00" font-size="18.8" text-anchor="middle" fill="#000" >2.5</text>
<circle cx="1490.80" cy="513.30" r="22.60" fill="#b3b3b3" />
<text x="1490.80" y="520.00" font-size="18.8" text-anchor="middle" fill="#000" >4.0</text>
<circle cx="1551.90" cy="513.30" r="27.80" fill="#b3b3b3" />
<text x="1551.90" y="520.00" font-size="18.8" text-anchor="middle" fill="#000" >5.5</text>
<circle cx="1613.20" cy="513.30" r="32.00" fill="#b3b3b3" />
<text x="1613.20" y="520.00" font-size="18.8" text-anchor="middle" fill="#000" >7.0</text>
<text x="1501.20" y="588.40" font-size="26.4" text-anchor="middle" fill="#000" >Odds Ratio</text>
<text x="28.60" y="728.40" font-size="42" text-anchor="start" fill="#000" font-weight="bold" >c</text>
<text x="699.40" y="724.80" font-size="25.6" text-anchor="middle" fill="#000" >GTEx Expression of TDO2</text>
<line x1="109.60" y1="740.00" x2="109.60" y2="1021.10" stroke="#000" stroke-width="1.5" />
<line x1="108.90" y1="1020.40" x2="1289.40" y2="1020.40" stroke="#000" stroke-width="1.5" />
<line x1="109.60" y1="1012.10" x2="117.70" y2="1012.10" stroke="#000" stroke-width="1.5" />
<text x="95.80" y="1019.00" font-size="19.3" text-anchor="end" fill="#000" >0</text>
<line x1="109.60" y1="938.20" x2="117.70" y2="938.20" stroke="#000" stroke-width="1.5" />
<text x="95.80" y="945.10" font-size="19.3" text-anchor="end" fill="#000" >200</text>
<line x1="109.60" y1="864.30" x2="117.70" y2="864.30" stroke="#000" stroke-width="1.5" />
<text x="95.80" y="871.20" font-size="19.3" text-anchor="end" fill="#000" >400</text>
<line x1="109.60" y1="790.40" x2="117.70" y2="790.40" stroke="#000" stroke-width="1.5" />
<text x="95.80" y="797.30" font-size="19.3" text-anchor="end" fill="#000" >600</text>
<text x="0" y="0" transform="translate(48.40,880.00) rotate(-90)" font-size="25.5" text-anchor="middle" fill="#000" >TPM</text>
<line x1="120.70" y1="1020.40" x2="120.70" y2="1012.00" stroke="#000" stroke-width="1.5" />
<line x1="111.60" y1="1012.10" x2="129.80" y2="1012.10" stroke="#000" stroke-width="2.1" />
<circle cx="120.70" cy="1008.40" r="2.90" fill="#000" />
<line x1="142.54" y1="1020.40" x2="142.54" y2="1012.00" stroke="#000" stroke-width="1.5" />
<line x1="133.44" y1="1012.10" x2="151.64" y2="1012.10" stroke="#000" stroke-width="2.1" />
<circle cx="142.54" cy="1009.88" r="2.90" fill="#000" />
<circle cx="142.54" cy="1008.77" r="2.90" fill="#000" />
<line x1="164.39" y1="1020.40" x2="164.39" y2="1012.00" stroke="#000" stroke-width="1.5" />
<line x1="155.29" y1="1012.10" x2="173.49" y2="1012.10" stroke="#000" stroke-width="2.1" />
<circle cx="164.39" cy="1009.51" r="2.90" fill="#000" />
<circle cx="164.39" cy="1008.40" r="2.90" fill="#000" />
<line x1="186.23" y1="1020.40" x2="186.23" y2="1012.00" stroke="#000" stroke-width="1.5" />
<line x1="177.13" y1="1012.10" x2="195.33" y2="1012.10" stroke="#000" stroke-width="2.1" />
<circle cx="186.23" cy="1007.67" r="2.90" fill="#000" />
<circle cx="186.23" cy="1004.71" r="2.90" fill="#000" />
<circle cx="186.23" cy="1001.75" r="2.90" fill="#000" />
<circle cx="186.23" cy="998.06" r="2.90" fill="#000" />
<line x1="208.08" y1="1020.40" x2="208.08" y2="1012.00" stroke="#000" stroke-width="1.5" />
<line x1="198.98" y1="1012.10" x2="217.18" y2="1012.10" stroke="#000" stroke-width="2.1" />
<circle cx="208.08" cy="1009.88" r="2.90" fill="#000" />
<line x1="229.92" y1="1020.40" x2="229.92" y2="1012.00" stroke="#000" stroke-width="1.5" />
<line x1="220.82" y1="1012.10" x2="239.02" y2="1012.10" stroke="#000" stroke-width="2.1" />
<circle cx="229.92" cy="1008.40" r="2.90" fill="#000" />
<circle cx="229.92" cy="1005.82" r="2.90" fill="#000" />
<circle cx="229.92" cy="1001.75" r="2.90" fill="#000" />
<line x1="251.76" y1="1020.40" x2="251.76" y2="1012.00" stroke="#000" stroke-width="1.5" />
<line x1="242.66" y1="1012.10" x2="260.86" y2="1012.10" stroke="#000" stroke-width="2.1" />
<circle cx="251.76" cy="1010.25" r="2.90" fill="#000" />
<line x1="273.61" y1="1020.40" x2="273.61" y2="1012.00" stroke="#000" stroke-width="1.5" />
<line x1="264.51" y1="1012.10" x2="282.71" y2="1012.10" stroke="#000" stroke-width="2.1" />
<circle cx="273.61" cy="1010.62" r="2.90" fill="#000" />
<line x1="295.45" y1="1020.40" x2="295.45" y2="1012.00" stroke="#000" stroke-width="1.5" />
<line x1="286.35" y1="1012.10" x2="304.55" y2="1012.10" stroke="#000" stroke-width="2.1" />
<circle cx="295.45" cy="1009.51" r="2.90" fill="#000" />
<circle cx="295.45" cy="1008.40" r="2.90" fill="#000" />
<line x1="317.30" y1="1020.40" x2="317.30" y2="1012.00" stroke="#000" stroke-width="1.5" />
<line x1="308.20" y1="1012.10" x2="326.40" y2="1012.10" stroke="#000" stroke-width="2.1" />
<circle cx="317.30" cy="1010.25" r="2.90" fill="#000" />
<line x1="339.14" y1="1020.40" x2="339.14" y2="1012.00" stroke="#000" stroke-width="1.5" />
<line x1="330.04" y1="1012.10" x2="348.24" y2="1012.10" stroke="#000" stroke-width="2.1" />
<circle cx="339.14" cy="1009.51" r="2.90" fill="#000" />
<line x1="360.98" y1="1020.40" x2="360.98" y2="1012.00" stroke="#000" stroke-width="1.5" />
<line x1="351.88" y1="1012.10" x2="370.08" y2="1012.10" stroke="#000" stroke-width="2.1" />
<circle cx="360.98" cy="1010.62" r="2.90" fill="#000" />
<line x1="382.83" y1="1020.40" x2="382.83" y2="1012.00" stroke="#000" stroke-width="1.5" />
<line x1="373.73" y1="1012.10" x2="391.93" y2="1012.10" stroke="#000" stroke-width="2.1" />
<circle cx="382.83" cy="1009.14" r="2.90" fill="#000" />
<circle cx="382.83" cy="1006.93" r="2.90" fill="#000" />
<circle cx="382.83" cy="1003.97" r="2.90" fill="#000" />
<line x1="404.67" y1="1020.40" x2="404.67" y2="1012.00" stroke="#000" stroke-width="1.5" />
<line x1="395.57" y1="1012.10" x2="413.77" y2="1012.10" stroke="#000" stroke-width="2.1" />
<circle cx="404.67" cy="1009.88" r="2.90" fill="#000" />
<line x1="426.52" y1="1020.40" x2="426.52" y2="1012.00" stroke="#000" stroke-width="1.5" />
<line x1="417.82" y1="1011.70" x2="435.22" y2="1011.70" stroke="#000" stroke-width="2.8" />
<line x1="422.12" y1="1008.50" x2="430.92" y2="1008.50" stroke="#000" stroke-width="1.3" />
<circle cx="426.52" cy="1008.40" r="2.90" fill="#000" />
<circle cx="426.52" cy="1006.56" r="2.90" fill="#000" />
<circle cx="426.52" cy="1004.71" r="2.90" fill="#000" />
<circle cx="426.52" cy="1002.86" r="2.90" fill="#000" />
<circle cx="426.52" cy="1001.01" r="2.90" fill="#000" />
<circle cx="426.52" cy="999.17" r="2.90" fill="#000" />
<circle cx="426.52" cy="997.32" r="2.90" fill="#000" />
<circle cx="426.52" cy="995.47" r="2.90" fill="#000" />
<circle cx="426.52" cy="993.62" r="2.90" fill="#000" />
<circle cx="426.52" cy="991.78" r="2.90" fill="#000" />
<circle cx="426.52" cy="989.93" r="2.90" fill="#000" />
<line x1="448.36" y1="1020.40" x2="448.36" y2="1012.00" stroke="#000" stroke-width="1.5" />
<line x1="439.66" y1="1011.70" x2="457.06" y2="1011.70" stroke="#000" stroke-width="2.8" />
<line x1="443.96" y1="1008.50" x2="452.76" y2="1008.50" stroke="#000" stroke-width="1.3" />
<circle cx="448.36" cy="1009.14" r="2.90" fill="#000" />
<circle cx="448.36" cy="1006.93" r="2.90" fill="#000" />
<circle cx="448.36" cy="1004.71" r="2.90" fill="#000" />
<circle cx="448.36" cy="1002.12" r="2.90" fill="#000" />
<circle cx="448.36" cy="976.26" r="2.90" fill="#000" />
<line x1="470.20" y1="1020.40" x2="470.20" y2="1012.00" stroke="#000" stroke-width="1.5" />
<line x1="461.10" y1="1012.10" x2="479.30" y2="1012.10" stroke="#000" stroke-width="2.1" />
<circle cx="470.20" cy="1010.99" r="2.90" fill="#000" />
<line x1="492.05" y1="1020.40" x2="492.05" y2="1012.00" stroke="#000" stroke-width="1.5" />
<line x1="482.95" y1="1012.10" x2="501.15" y2="1012.10" stroke="#000" stroke-width="2.1" />
<circle cx="492.05" cy="1010.25" r="2.90" fill="#000" />
<line x1="513.89" y1="1020.40" x2="513.89" y2="1012.00" stroke="#000" stroke-width="1.5" />
<line x1="504.79" y1="1012.10" x2="522.99" y2="1012.10" stroke="#000" stroke-width="2.1" />
<circle cx="513.89" cy="1009.88" r="2.90" fill="#000" />
<circle cx="513.89" cy="1007.67" r="2.90" fill="#000" />
<line x1="535.74" y1="1020.40" x2="535.74" y2="1012.00" stroke="#000" stroke-width="1.5" />
<line x1="526.64" y1="1012.10" x2="544.84" y2="1012.10" stroke="#000" stroke-width="2.1" />
<circle cx="535.74" cy="1010.99" r="2.90" fill="#000" />
<line x1="557.58" y1="1020.40" x2="557.58" y2="1012.00" stroke="#000" stroke-width="1.5" />
<line x1="548.48" y1="1012.10" x2="566.68" y2="1012.10" stroke="#000" stroke-width="2.1" />
<circle cx="557.58" cy="1010.99" r="2.90" fill="#000" />
<line x1="579.42" y1="1020.40" x2="579.42" y2="1012.00" stroke="#000" stroke-width="1.5" />
<line x1="570.32" y1="1012.10" x2="588.52" y2="1012.10" stroke="#000" stroke-width="2.1" />
<circle cx="579.42" cy="1009.88" r="2.90" fill="#000" />
<circle cx="579.42" cy="1007.67" r="2.90" fill="#000" />
<circle cx="579.42" cy="1004.71" r="2.90" fill="#000" />
<line x1="601.27" y1="1020.40" x2="601.27" y2="1012.00" stroke="#000" stroke-width="1.5" />
<rect x="592.57" y="1008.50" width="17.40" height="3.60" fill="#d3d3d3" stroke="#000" stroke-width="1.3"/>
<line x1="596.87" y1="1006.50" x2="605.67" y2="1006.50" stroke="#000" stroke-width="1.3" />
<circle cx="601.27" cy="1004.71" r="2.90" fill="#000" />
<circle cx="601.27" cy="1002.49" r="2.90" fill="#000" />
<circle cx="601.27" cy="1000.28" r="2.90" fill="#000" />
<circle cx="601.27" cy="998.06" r="2.90" fill="#000" />
<circle cx="601.27" cy="995.47" r="2.90" fill="#000" />
<circle cx="601.27" cy="992.89" r="2.90" fill="#000" />
<circle cx="601.27" cy="988.45" r="2.90" fill="#000" />
<circle cx="601.27" cy="978.48" r="2.90" fill="#000" />
<circle cx="601.27" cy="902.36" r="2.90" fill="#000" />
<line x1="623.11" y1="1020.40" x2="623.11" y2="1012.00" stroke="#000" stroke-width="1.5" />
<line x1="614.01" y1="1012.10" x2="632.21" y2="1012.10" stroke="#000" stroke-width="2.1" />
<circle cx="623.11" cy="1009.14" r="2.90" fill="#000" />
<circle cx="623.11" cy="1007.67" r="2.90" fill="#000" />
<line x1="644.96" y1="1020.40" x2="644.96" y2="1012.00" stroke="#000" stroke-width="1.5" />
<line x1="635.86" y1="1012.10" x2="654.06" y2="1012.10" stroke="#000" stroke-width="2.1" />
<circle cx="644.96" cy="1010.25" r="2.90" fill="#000" />
<line x1="666.80" y1="1020.40" x2="666.80" y2="1012.00" stroke="#000" stroke-width="1.5" />
<line x1="657.70" y1="1012.10" x2="675.90" y2="1012.10" stroke="#000" stroke-width="2.1" />
<circle cx="666.80" cy="1010.99" r="2.90" fill="#000" />
<line x1="688.64" y1="1020.40" x2="688.64" y2="1012.00" stroke="#000" stroke-width="1.5" />
<line x1="679.54" y1="1012.10" x2="697.74" y2="1012.10" stroke="#000" stroke-width="2.1" />
<circle cx="688.64" cy="1010.99" r="2.90" fill="#000" />
<line x1="710.49" y1="1020.40" x2="710.49" y2="1012.00" stroke="#000" stroke-width="1.5" />
<line x1="701.39" y1="1012.10" x2="719.59" y2="1012.10" stroke="#000" stroke-width="2.1" />
<circle cx="710.49" cy="1009.88" r="2.90" fill="#000" />
<circle cx="710.49" cy="1008.40" r="2.90" fill="#000" />
<line x1="732.33" y1="1020.40" x2="732.33" y2="1012.00" stroke="#000" stroke-width="1.5" />
<line x1="723.23" y1="1012.10" x2="741.43" y2="1012.10" stroke="#000" stroke-width="2.1" />
<circle cx="732.33" cy="1010.99" r="2.90" fill="#000" />
<line x1="754.18" y1="1020.40" x2="754.18" y2="1012.00" stroke="#000" stroke-width="1.5" />
<line x1="745.08" y1="1012.10" x2="763.28" y2="1012.10" stroke="#000" stroke-width="2.1" />
<circle cx="754.18" cy="1010.99" r="2.90" fill="#000" />
<line x1="776.02" y1="1020.40" x2="776.02" y2="1012.00" stroke="#000" stroke-width="1.5" />
<line x1="766.92" y1="1012.10" x2="785.12" y2="1012.10" stroke="#000" stroke-width="2.1" />
<circle cx="776.02" cy="1010.99" r="2.90" fill="#000" />
<line x1="797.86" y1="1020.40" x2="797.86" y2="1012.00" stroke="#000" stroke-width="1.5" />
<line x1="788.76" y1="1012.10" x2="806.96" y2="1012.10" stroke="#000" stroke-width="2.1" />
<circle cx="797.86" cy="1009.14" r="2.90" fill="#000" />
<circle cx="797.86" cy="1006.93" r="2.90" fill="#000" />
<circle cx="797.86" cy="1004.71" r="2.90" fill="#000" />
<circle cx="797.86" cy="998.43" r="2.90" fill="#000" />
<line x1="819.71" y1="1020.40" x2="819.71" y2="1012.00" stroke="#000" stroke-width="1.5" />
<line x1="810.61" y1="1012.10" x2="828.81" y2="1012.10" stroke="#000" stroke-width="2.1" />
<circle cx="819.71" cy="1009.88" r="2.90" fill="#000" />
<circle cx="819.71" cy="1008.40" r="2.90" fill="#000" />
<circle cx="819.71" cy="1006.56" r="2.90" fill="#000" />
<line x1="841.55" y1="1020.40" x2="841.55" y2="1012.00" stroke="#000" stroke-width="1.5" />
<line x1="832.45" y1="1012.10" x2="850.65" y2="1012.10" stroke="#000" stroke-width="2.1" />
<circle cx="841.55" cy="1010.25" r="2.90" fill="#000" />
<circle cx="841.55" cy="1009.14" r="2.90" fill="#000" />
<line x1="863.40" y1="1020.40" x2="863.40" y2="1012.00" stroke="#000" stroke-width="1.5" />
<line x1="854.70" y1="1011.70" x2="872.10" y2="1011.70" stroke="#000" stroke-width="2.8" />
<line x1="859.00" y1="1008.50" x2="867.80" y2="1008.50" stroke="#000" stroke-width="1.3" />
<circle cx="863.40" cy="1008.40" r="2.90" fill="#000" />
<circle cx="863.40" cy="1006.19" r="2.90" fill="#000" />
<circle cx="863.40" cy="1003.97" r="2.90" fill="#000" />
<circle cx="863.40" cy="1002.12" r="2.90" fill="#000" />
<line x1="885.24" y1="1020.40" x2="885.24" y2="1012.00" stroke="#000" stroke-width="1.5" />
<line x1="876.14" y1="1012.10" x2="894.34" y2="1012.10" stroke="#000" stroke-width="2.1" />
<circle cx="885.24" cy="1009.88" r="2.90" fill="#000" />
<line x1="907.08" y1="1020.40" x2="907.08" y2="1012.00" stroke="#000" stroke-width="1.5" />
<line x1="897.98" y1="1012.10" x2="916.18" y2="1012.10" stroke="#000" stroke-width="2.1" />
<circle cx="907.08" cy="1010.99" r="2.90" fill="#000" />
<line x1="928.93" y1="1020.40" x2="928.93" y2="1012.00" stroke="#000" stroke-width="1.5" />
<line x1="919.83" y1="1012.10" x2="938.03" y2="1012.10" stroke="#000" stroke-width="2.1" />
<circle cx="928.93" cy="1010.99" r="2.90" fill="#000" />
<line x1="950.77" y1="1020.40" x2="950.77" y2="1012.00" stroke="#000" stroke-width="1.5" />
<line x1="941.67" y1="1012.10" x2="959.87" y2="1012.10" stroke="#000" stroke-width="2.1" />
<circle cx="950.77" cy="1010.99" r="2.90" fill="#000" />
<line x1="972.62" y1="1020.40" x2="972.62" y2="1012.00" stroke="#000" stroke-width="1.5" />
<line x1="963.52" y1="1012.10" x2="981.72" y2="1012.10" stroke="#000" stroke-width="2.1" />
<circle cx="972.62" cy="1010.99" r="2.90" fill="#000" />
<line x1="994.46" y1="1020.40" x2="994.46" y2="1012.00" stroke="#000" stroke-width="1.5" />
<line x1="985.36" y1="1012.10" x2="1003.56" y2="1012.10" stroke="#000" stroke-width="2.1" />
<circle cx="994.46" cy="1010.99" r="2.90" fill="#000" />
<line x1="1016.30" y1="1020.40" x2="1016.30" y2="1012.00" stroke="#000" stroke-width="1.5" />
<line x1="1007.20" y1="1012.10" x2="1025.40" y2="1012.10" stroke="#000" stroke-width="2.1" />
<circle cx="1016.30" cy="1010.99" r="2.90" fill="#000" />
<line x1="1038.15" y1="1020.40" x2="1038.15" y2="1012.00" stroke="#000" stroke-width="1.5" />
<line x1="1029.05" y1="1012.10" x2="1047.25" y2="1012.10" stroke="#000" stroke-width="2.1" />
<circle cx="1038.15" cy="1010.62" r="2.90" fill="#000" />
<line x1="1059.99" y1="1020.40" x2="1059.99" y2="1012.00" stroke="#000" stroke-width="1.5" />
<line x1="1050.89" y1="1012.10" x2="1069.09" y2="1012.10" stroke="#000" stroke-width="2.1" />
<circle cx="1059.99" cy="1010.25" r="2.90" fill="#000" />
<line x1="1081.84" y1="1020.40" x2="1081.84" y2="1012.00" stroke="#000" stroke-width="1.5" />
<line x1="1072.74" y1="1012.10" x2="1090.94" y2="1012.10" stroke="#000" stroke-width="2.1" />
<circle cx="1081.84" cy="1010.62" r="2.90" fill="#000" />
<line x1="1103.68" y1="1020.40" x2="1103.68" y2="1012.00" stroke="#000" stroke-width="1.5" />
<line x1="1125.52" y1="1020.40" x2="1125.52" y2="1012.00" stroke="#000" stroke-width="1.5" />
<line x1="1116.42" y1="1012.10" x2="1134.62" y2="1012.10" stroke="#000" stroke-width="2.1" />
<circle cx="1125.52" cy="1010.62" r="2.90" fill="#000" />
<line x1="1147.37" y1="1020.40" x2="1147.37" y2="1012.00" stroke="#000" stroke-width="1.5" />
<line x1="1138.27" y1="1012.10" x2="1156.47" y2="1012.10" stroke="#000" stroke-width="2.1" />
<circle cx="1147.37" cy="1009.88" r="2.90" fill="#000" />
<line x1="1169.21" y1="1020.40" x2="1169.21" y2="1012.00" stroke="#000" stroke-width="1.5" />
<line x1="1160.11" y1="1012.10" x2="1178.31" y2="1012.10" stroke="#000" stroke-width="2.1" />
<circle cx="1169.21" cy="1010.25" r="2.90" fill="#000" />
<line x1="1191.06" y1="1020.40" x2="1191.06" y2="1012.00" stroke="#000" stroke-width="1.5" />
<line x1="1181.96" y1="1012.10" x2="1200.16" y2="1012.10" stroke="#000" stroke-width="2.1" />
<line x1="1212.90" y1="1020.40" x2="1212.90" y2="1012.00" stroke="#000" stroke-width="1.5" />
<line x1="1203.80" y1="1012.10" x2="1222.00" y2="1012.10" stroke="#000" stroke-width="2.1" />
<circle cx="1212.90" cy="1010.99" r="2.90" fill="#000" />
<line x1="1234.74" y1="1020.40" x2="1234.74" y2="1012.00" stroke="#000" stroke-width="1.5" />
<line x1="1225.64" y1="1012.10" x2="1243.84" y2="1012.10" stroke="#000" stroke-width="2.1" />
<circle cx="1234.74" cy="1010.99" r="2.90" fill="#000" />
<line x1="1256.59" y1="1020.40" x2="1256.59" y2="1012.00" stroke="#000" stroke-width="1.5" />
<line x1="1247.49" y1="1012.10" x2="1265.69" y2="1012.10" stroke="#000" stroke-width="2.1" />
<circle cx="1256.59" cy="1009.88" r="2.90" fill="#000" />
<line x1="1278.43" y1="1020.40" x2="1278.43" y2="1012.00" stroke="#000" stroke-width="1.5" />
<line x1="1269.33" y1="1012.10" x2="1287.53" y2="1012.10" stroke="#000" stroke-width="2.1" />
<line x1="1103.68" y1="829.50" x2="1103.68" y2="910.70" stroke="#000" stroke-width="1.5" />
<line x1="1103.68" y1="972.20" x2="1103.68" y2="1007.70" stroke="#000" stroke-width="1.5" />
<line x1="1099.28" y1="829.50" x2="1108.08" y2="829.50" stroke="#000" stroke-width="1.5" />
<line x1="1099.28" y1="1007.70" x2="1108.08" y2="1007.70" stroke="#000" stroke-width="1.5" />
<rect x="1094.98" y="910.70" width="17.40" height="61.50" fill="#d3d3d3" stroke="#000" stroke-width="1.5"/>
<line x1="1094.98" y1="947.30" x2="1112.38" y2="947.30" stroke="#000" stroke-width="1.5" />
<circle cx="1103.68" cy="748.00" r="2.90" fill="#000" />
<circle cx="1103.68" cy="763.40" r="2.90" fill="#000" />
<circle cx="1103.68" cy="765.80" r="2.90" fill="#000" />
<circle cx="1103.68" cy="796.70" r="2.90" fill="#000" />
<circle cx="1103.68" cy="802.40" r="2.90" fill="#000" />
<circle cx="1103.68" cy="811.60" r="2.90" fill="#000" />
<circle cx="1103.68" cy="818.20" r="2.90" fill="#000" />
<text x="0" y="0" transform="translate(125.71,1043.40) rotate(-45)" font-size="15.15" text-anchor="end" fill="#b4b4b4" >Adipose - Subcutaneous</text>
<text x="0" y="0" transform="translate(147.54,1043.40) rotate(-45)" font-size="15.15" text-anchor="end" fill="#b4b4b4" >Muscle - Skeletal</text>
<text x="0" y="0" transform="translate(169.36,1043.40) rotate(-45)" font-size="15.15" text-anchor="end" fill="#b4b4b4" >Artery - Tibial</text>
<text x="0" y="0" transform="translate(191.19,1043.40) rotate(-45)" font-size="15.15" text-anchor="end" fill="#b4b4b4" >Artery - Coronary</text>
<text x="0" y="0" transform="translate(213.02,1043.40) rotate(-45)" font-size="15.15" text-anchor="end" fill="#b4b4b4" >Heart - Atrial Appendage</text>
<text x="0" y="0" transform="translate(234.84,1043.40) rotate(-45)" font-size="15.15" text-anchor="end" fill="#b4b4b4" >Adipose - Visceral (Omentum)</text>
<text x="0" y="0" transform="translate(256.67,1043.40) rotate(-45)" font-size="15.15" text-anchor="end" fill="#b4b4b4" >Uterus</text>
<text x="0" y="0" transform="translate(278.49,1043.40) rotate(-45)" font-size="15.15" text-anchor="end" fill="#b4b4b4" >Vagina</text>
<text x="0" y="0" transform="translate(300.32,1043.40) rotate(-45)" font-size="15.15" text-anchor="end" fill="#b4b4b4" >Breast - Mammary Tissue</text>
<text x="0" y="0" transform="translate(322.15,1043.40) rotate(-45)" font-size="15.15" text-anchor="end" fill="#b4b4b4" >Skin - Not Sun Exposed (Suprapubic)</text>
<text x="0" y="0" transform="translate(343.97,1043.40) rotate(-45)" font-size="15.15" text-anchor="end" fill="#b4b4b4" >Minor Salivary Gland</text>
<text x="0" y="0" transform="translate(365.80,1043.40) rotate(-45)" font-size="15.15" text-anchor="end" fill="#b4b4b4" >Brain - Cortex</text>
<text x="0" y="0" transform="translate(387.62,1043.40) rotate(-45)" font-size="15.15" text-anchor="end" fill="#b4b4b4" >Adrenal Gland</text>
<text x="0" y="0" transform="translate(409.45,1043.40) rotate(-45)" font-size="15.15" text-anchor="end" fill="#b4b4b4" >Thyroid</text>
<text x="0" y="0" transform="translate(431.28,1043.40) rotate(-45)" font-size="15.15" text-anchor="end" fill="#b4b4b4" >Lung</text>
<text x="0" y="0" transform="translate(453.10,1043.40) rotate(-45)" font-size="15.15" text-anchor="end" fill="#b4b4b4" >Spleen</text>
<text x="0" y="0" transform="translate(474.33,1043.10) rotate(-45)" font-size="18.0" text-anchor="end" fill="#000" font-weight="bold" >Pancreas</text>
<text x="0" y="0" transform="translate(496.75,1043.40) rotate(-45)" font-size="15.15" text-anchor="end" fill="#b4b4b4" >Esophagus - Muscularis</text>
<text x="0" y="0" transform="translate(518.58,1043.40) rotate(-45)" font-size="15.15" text-anchor="end" fill="#b4b4b4" >Esophagus - Mucosa</text>
<text x="0" y="0" transform="translate(540.41,1043.40) rotate(-45)" font-size="15.15" text-anchor="end" fill="#b4b4b4" >Esophagus - Gastroesophageal Junction</text>
<text x="0" y="0" transform="translate(562.23,1043.40) rotate(-45)" font-size="15.15" text-anchor="end" fill="#b4b4b4" >Stomach</text>
<text x="0" y="0" transform="translate(584.06,1043.40) rotate(-45)" font-size="15.15" text-anchor="end" fill="#b4b4b4" >Colon - Sigmoid</text>
<text x="0" y="0" transform="translate(605.88,1043.40) rotate(-45)" font-size="15.15" text-anchor="end" fill="#b4b4b4" >Small Intestine - Terminal Ileum</text>
<text x="0" y="0" transform="translate(627.71,1043.40) rotate(-45)" font-size="15.15" text-anchor="end" fill="#b4b4b4" >Colon - Transverse</text>
<text x="0" y="0" transform="translate(649.54,1043.40) rotate(-45)" font-size="15.15" text-anchor="end" fill="#b4b4b4" >Prostate</text>
<text x="0" y="0" transform="translate(671.36,1043.40) rotate(-45)" font-size="15.15" text-anchor="end" fill="#b4b4b4" >Testis</text>
<text x="0" y="0" transform="translate(693.19,1043.40) rotate(-45)" font-size="15.15" text-anchor="end" fill="#b4b4b4" >Nerve - Tibial</text>
<text x="0" y="0" transform="translate(715.01,1043.40) rotate(-45)" font-size="15.15" text-anchor="end" fill="#b4b4b4" >Skin - Sun Exposed (Lower leg)</text>
<text x="0" y="0" transform="translate(736.84,1043.40) rotate(-45)" font-size="15.15" text-anchor="end" fill="#b4b4b4" >Heart - Left Ventricle</text>
<text x="0" y="0" transform="translate(758.66,1043.40) rotate(-45)" font-size="15.15" text-anchor="end" fill="#b4b4b4" >Brain - Cerebellum</text>
<text x="0" y="0" transform="translate(780.49,1043.40) rotate(-45)" font-size="15.15" text-anchor="end" fill="#b4b4b4" >Cells - Cultured fibroblasts</text>
<text x="0" y="0" transform="translate(802.32,1043.40) rotate(-45)" font-size="15.15" text-anchor="end" fill="#b4b4b4" >Whole Blood</text>
<text x="0" y="0" transform="translate(824.14,1043.40) rotate(-45)" font-size="15.15" text-anchor="end" fill="#b4b4b4" >Artery - Aorta</text>
<text x="0" y="0" transform="translate(845.97,1043.40) rotate(-45)" font-size="15.15" text-anchor="end" fill="#b4b4b4" >Cells - EBV-transformed lymphocytes</text>
<text x="0" y="0" transform="translate(867.79,1043.40) rotate(-45)" font-size="15.15" text-anchor="end" fill="#b4b4b4" >Pituitary</text>
<text x="0" y="0" transform="translate(889.62,1043.40) rotate(-45)" font-size="15.15" text-anchor="end" fill="#b4b4b4" >Brain - Frontal Cortex (BA9)</text>
<text x="0" y="0" transform="translate(911.45,1043.40) rotate(-45)" font-size="15.15" text-anchor="end" fill="#b4b4b4" >Brain - Caudate (basal ganglia)</text>
<text x="0" y="0" transform="translate(933.27,1043.40) rotate(-45)" font-size="15.15" text-anchor="end" fill="#b4b4b4" >Brain - Nucleus accumbens (basal ganglia)</text>
<text x="0" y="0" transform="translate(955.10,1043.40) rotate(-45)" font-size="15.15" text-anchor="end" fill="#b4b4b4" >Brain - Putamen (basal ganglia)</text>
<text x="0" y="0" transform="translate(976.92,1043.40) rotate(-45)" font-size="15.15" text-anchor="end" fill="#b4b4b4" >Brain - Hypothalamus</text>
<text x="0" y="0" transform="translate(998.75,1043.40) rotate(-45)" font-size="15.15" text-anchor="end" fill="#b4b4b4" >Brain - Spinal cord (cervical c-1)</text>
<text x="0" y="0" transform="translate(1020.58,1043.40) rotate(-45)" font-size="15.15" text-anchor="end" fill="#b4b4b4" >Brain - Hippocampus</text>
<text x="0" y="0" transform="translate(1042.40,1043.40) rotate(-45)" font-size="15.15" text-anchor="end" fill="#b4b4b4" >Brain - Anterior cingulate cortex (BA24)</text>
<text x="0" y="0" transform="translate(1064.23,1043.40) rotate(-45)" font-size="15.15" text-anchor="end" fill="#b4b4b4" >Ovary</text>
<text x="0" y="0" transform="translate(1086.05,1043.40) rotate(-45)" font-size="15.15" text-anchor="end" fill="#b4b4b4" >Brain - Cerebellar Hemisphere</text>
<text x="0" y="0" transform="translate(1105.68,1045.10) rotate(-45)" font-size="18.0" text-anchor="end" fill="#000" font-weight="bold" >Liver</text>
<text x="0" y="0" transform="translate(1129.71,1043.40) rotate(-45)" font-size="15.15" text-anchor="end" fill="#b4b4b4" >Brain - Substantia nigra</text>
<text x="0" y="0" transform="translate(1151.53,1043.40) rotate(-45)" font-size="15.15" text-anchor="end" fill="#b4b4b4" >Kidney - Cortex</text>
<text x="0" y="0" transform="translate(1173.36,1043.40) rotate(-45)" font-size="15.15" text-anchor="end" fill="#b4b4b4" >Brain - Amygdala</text>
<text x="0" y="0" transform="translate(1195.18,1043.40) rotate(-45)" font-size="15.15" text-anchor="end" fill="#b4b4b4" >Cervix - Ectocervix</text>
<text x="0" y="0" transform="translate(1217.01,1043.40) rotate(-45)" font-size="15.15" text-anchor="end" fill="#b4b4b4" >Fallopian Tube</text>
<text x="0" y="0" transform="translate(1238.84,1043.40) rotate(-45)" font-size="15.15" text-anchor="end" fill="#b4b4b4" >Cervix - Endocervix</text>
<text x="0" y="0" transform="translate(1260.66,1043.40) rotate(-45)" font-size="15.15" text-anchor="end" fill="#b4b4b4" >Bladder</text>
<text x="0" y="0" transform="translate(1282.49,1043.40) rotate(-45)" font-size="15.15" text-anchor="end" fill="#b4b4b4" >Kidney - Medulla</text>
<text x="699.40" y="1276.40" font-size="26.4" text-anchor="middle" fill="#000" >GTEx Tissue</text>
<text x="1328.00" y="728.50" font-size="42" text-anchor="start" fill="#000" font-weight="bold" >d</text>
<text x="1572.40" y="728.90" font-size="28.3" text-anchor="middle" fill="#000" >TDO2</text>
<clipPath id="cd"><rect x="1425.6" y="740.6" width="294.70" height="280.10"/></clipPath>
<g clip-path="url(#cd)">
<line x1="1438.24" y1="1018.74" x2="1462.41" y2="1012.56" stroke="#b4b4b4" stroke-width="1.7" />
<line x1="1442.74" y1="1016.78" x2="1466.34" y2="1013.12" stroke="#b4b4b4" stroke-width="1.7" />
<line x1="1446.67" y1="1018.74" x2="1470.27" y2="1016.50" stroke="#b4b4b4" stroke-width="1.7" />
<line x1="1497.53" y1="1019.31" x2="1521.97" y2="1019.31" stroke="#b4b4b4" stroke-width="1.7" />
<line x1="1501.74" y1="1019.31" x2="1525.63" y2="1019.31" stroke="#b4b4b4" stroke-width="1.7" />
<line x1="1505.68" y1="1019.31" x2="1529.56" y2="1018.74" stroke="#b4b4b4" stroke-width="1.7" />
<line x1="1557.38" y1="992.33" x2="1580.70" y2="801.83" stroke="#b4b4b4" stroke-width="1.7" />
<line x1="1561.59" y1="1004.70" x2="1584.35" y2="905.51" stroke="#b4b4b4" stroke-width="1.7" />
<line x1="1565.24" y1="1007.22" x2="1588.56" y2="765.30" stroke="#b4b4b4" stroke-width="1.7" />
<line x1="1620.03" y1="911.13" x2="1643.35" y2="796.77" stroke="#b4b4b4" stroke-width="1.7" />
<line x1="1616.10" y1="955.81" x2="1639.70" y2="840.60" stroke="#b4b4b4" stroke-width="1.7" />
<line x1="1623.69" y1="995.70" x2="1647.57" y2="785.25" stroke="#b4b4b4" stroke-width="1.7" />
<line x1="1678.76" y1="940.91" x2="1702.64" y2="748.16" stroke="#b4b4b4" stroke-width="1.7" />
<line x1="1675.11" y1="954.12" x2="1698.71" y2="803.80" stroke="#b4b4b4" stroke-width="1.7" />
<line x1="1682.69" y1="948.50" x2="1706.29" y2="814.47" stroke="#b4b4b4" stroke-width="1.7" />
<circle cx="1438.24" cy="1018.74" r="5.40" fill="#4c88c2" stroke="#0a1220" stroke-width="1.8"/>
<circle cx="1442.74" cy="1016.78" r="5.40" fill="#4c88c2" stroke="#0a1220" stroke-width="1.8"/>
<circle cx="1446.67" cy="1018.74" r="5.40" fill="#4c88c2" stroke="#0a1220" stroke-width="1.8"/>
<circle cx="1497.53" cy="1019.31" r="5.40" fill="#4c88c2" stroke="#0a1220" stroke-width="1.8"/>
<circle cx="1501.74" cy="1019.31" r="5.40" fill="#4c88c2" stroke="#0a1220" stroke-width="1.8"/>
<circle cx="1505.68" cy="1019.31" r="5.40" fill="#4c88c2" stroke="#0a1220" stroke-width="1.8"/>
<circle cx="1557.38" cy="992.33" r="5.40" fill="#4c88c2" stroke="#0a1220" stroke-width="1.8"/>
<circle cx="1561.59" cy="1004.70" r="5.40" fill="#4c88c2" stroke="#0a1220" stroke-width="1.8"/>
<circle cx="1565.24" cy="1007.22" r="5.40" fill="#4c88c2" stroke="#0a1220" stroke-width="1.8"/>
<circle cx="1620.03" cy="911.13" r="5.40" fill="#4c88c2" stroke="#0a1220" stroke-width="1.8"/>
<circle cx="1616.10" cy="955.81" r="5.40" fill="#4c88c2" stroke="#0a1220" stroke-width="1.8"/>
<circle cx="1623.69" cy="995.70" r="5.40" fill="#4c88c2" stroke="#0a1220" stroke-width="1.8"/>
<circle cx="1678.76" cy="940.91" r="5.40" fill="#4c88c2" stroke="#0a1220" stroke-width="1.8"/>
<circle cx="1675.11" cy="954.12" r="5.40" fill="#4c88c2" stroke="#0a1220" stroke-width="1.8"/>
<circle cx="1682.69" cy="948.50" r="5.40" fill="#4c88c2" stroke="#0a1220" stroke-width="1.8"/>
<circle cx="1462.41" cy="1012.56" r="5.40" fill="#fcaa25" stroke="#0a1220" stroke-width="1.8"/>
<circle cx="1466.34" cy="1013.12" r="5.40" fill="#fcaa25" stroke="#0a1220" stroke-width="1.8"/>
<circle cx="1470.27" cy="1016.50" r="5.40" fill="#fcaa25" stroke="#0a1220" stroke-width="1.8"/>
<circle cx="1521.97" cy="1019.31" r="5.40" fill="#fcaa25" stroke="#0a1220" stroke-width="1.8"/>
<circle cx="1525.63" cy="1019.31" r="5.40" fill="#fcaa25" stroke="#0a1220" stroke-width="1.8"/>
<circle cx="1529.56" cy="1018.74" r="5.40" fill="#fcaa25" stroke="#0a1220" stroke-width="1.8"/>
<circle cx="1580.70" cy="801.83" r="5.40" fill="#fcaa25" stroke="#0a1220" stroke-width="1.8"/>
<circle cx="1584.35" cy="905.51" r="5.40" fill="#fcaa25" stroke="#0a1220" stroke-width="1.8"/>
<circle cx="1588.56" cy="765.30" r="5.40" fill="#fcaa25" stroke="#0a1220" stroke-width="1.8"/>
<circle cx="1643.35" cy="796.77" r="5.40" fill="#fcaa25" stroke="#0a1220" stroke-width="1.8"/>
<circle cx="1639.70" cy="840.60" r="5.40" fill="#fcaa25" stroke="#0a1220" stroke-width="1.8"/>
<circle cx="1647.57" cy="785.25" r="5.40" fill="#fcaa25" stroke="#0a1220" stroke-width="1.8"/>
<circle cx="1702.64" cy="748.16" r="5.40" fill="#fcaa25" stroke="#0a1220" stroke-width="1.8"/>
<circle cx="1698.71" cy="803.80" r="5.40" fill="#fcaa25" stroke="#0a1220" stroke-width="1.8"/>
<circle cx="1706.29" cy="814.47" r="5.40" fill="#fcaa25" stroke="#0a1220" stroke-width="1.8"/>
</g>
<rect x="1425.6" y="740.6" width="294.70" height="280.10" fill="none" stroke="#000" stroke-width="1.5"/>
<line x1="1455.10" y1="1020.70" x2="1455.10" y2="1013.70" stroke="#000" stroke-width="1.5" />
<text x="1455.10" y="1050.50" font-size="18.8" text-anchor="middle" fill="#000" >S0</text>
<line x1="1514.10" y1="1020.70" x2="1514.10" y2="1013.70" stroke="#000" stroke-width="1.5" />
<text x="1514.10" y="1050.50" font-size="18.8" text-anchor="middle" fill="#000" >S1</text>
<line x1="1572.80" y1="1020.70" x2="1572.80" y2="1013.70" stroke="#000" stroke-width="1.5" />
<text x="1572.80" y="1050.50" font-size="18.8" text-anchor="middle" fill="#000" >S2</text>
<line x1="1631.80" y1="1020.70" x2="1631.80" y2="1013.70" stroke="#000" stroke-width="1.5" />
<text x="1631.80" y="1050.50" font-size="18.8" text-anchor="middle" fill="#000" >S3</text>
<line x1="1690.60" y1="1020.70" x2="1690.60" y2="1013.70" stroke="#000" stroke-width="1.5" />
<text x="1690.60" y="1050.50" font-size="18.8" text-anchor="middle" fill="#000" >S4</text>
<text x="1411.00" y="1027.60" font-size="18.8" text-anchor="end" fill="#000" >0</text>
<line x1="1425.60" y1="915.00" x2="1432.60" y2="915.00" stroke="#000" stroke-width="1.5" />
<text x="1411.00" y="921.90" font-size="18.8" text-anchor="end" fill="#000" >100</text>
<line x1="1425.60" y1="809.40" x2="1432.60" y2="809.40" stroke="#000" stroke-width="1.5" />
<text x="1411.00" y="816.30" font-size="18.8" text-anchor="end" fill="#000" >200</text>
<text x="1572.70" y="1102.00" font-size="26.4" text-anchor="middle" fill="#000" >Stage</text>
<text x="0" y="0" transform="translate(1349.00,880.60) rotate(-90)" font-size="26.4" text-anchor="middle" fill="#000" >Normalised Reads</text>
<circle cx="1460.20" cy="781.60" r="9.10" fill="#4c88c2" stroke="#0a1220" stroke-width="2.2"/>
<circle cx="1460.20" cy="807.40" r="9.10" fill="#fcaa25" stroke="#0a1220" stroke-width="2.2"/>
<text x="1474.20" y="787.90" font-size="18" text-anchor="start" fill="#000" >WT</text>
<text x="1474.20" y="813.80" font-size="18" text-anchor="start" fill="#000" >KO</text>
<text x="28.60" y="1315.90" font-size="42" text-anchor="start" fill="#000" font-weight="bold" >e</text>
<rect x="440.00" y="1340.00" width="56.40" height="35.70" fill="#d9d9d9" />
<rect x="573.60" y="1340.00" width="55.90" height="35.70" fill="#d9d9d9" />
<rect x="440.00" y="1382.50" width="56.40" height="35.70" fill="#d9d9d9" />
<rect x="573.60" y="1382.50" width="55.90" height="35.70" fill="#d9d9d9" />
<rect x="440.00" y="1425.30" width="56.40" height="35.70" fill="#d9d9d9" />
<rect x="573.60" y="1425.30" width="55.90" height="35.70" fill="#d9d9d9" />
<rect x="440.00" y="1467.90" width="56.40" height="35.70" fill="#d9d9d9" />
<rect x="573.60" y="1467.90" width="55.90" height="35.70" fill="#d9d9d9" />
<rect x="440.00" y="1510.30" width="56.40" height="35.70" fill="#d9d9d9" />
<rect x="573.60" y="1510.30" width="55.90" height="35.70" fill="#d9d9d9" />
<rect x="440.00" y="1558.60" width="56.40" height="35.70" fill="#d9d9d9" />
<rect x="573.60" y="1558.60" width="55.90" height="35.70" fill="#d9d9d9" />
<rect x="440.00" y="1601.10" width="56.40" height="35.70" fill="#d9d9d9" />
<rect x="573.60" y="1601.10" width="55.90" height="35.70" fill="#d9d9d9" />
<rect x="440.00" y="1643.60" width="56.40" height="35.70" fill="#d9d9d9" />
<rect x="573.60" y="1643.60" width="55.90" height="35.70" fill="#d9d9d9" />
<rect x="440.00" y="1686.40" width="56.40" height="35.70" fill="#d9d9d9" />
<rect x="573.60" y="1686.40" width="55.90" height="35.70" fill="#d9d9d9" />
<rect x="440.00" y="1729.30" width="56.40" height="35.70" fill="#d9d9d9" />
<rect x="573.60" y="1729.30" width="55.90" height="35.70" fill="#d9d9d9" />
<rect x="440.00" y="1777.50" width="56.40" height="35.70" fill="#d9d9d9" />
<rect x="573.60" y="1777.50" width="55.90" height="35.70" fill="#d9d9d9" />
<rect x="440.00" y="1820.00" width="56.40" height="35.70" fill="#d9d9d9" />
<rect x="573.60" y="1820.00" width="55.90" height="35.70" fill="#d9d9d9" />
<rect x="440.00" y="1862.50" width="56.40" height="35.70" fill="#d9d9d9" />
<rect x="573.60" y="1862.50" width="55.90" height="35.70" fill="#d9d9d9" />
<rect x="440.00" y="1905.30" width="56.40" height="35.70" fill="#d9d9d9" />
<rect x="573.60" y="1905.30" width="55.90" height="35.70" fill="#d9d9d9" />
<rect x="440.00" y="1947.90" width="56.40" height="35.70" fill="#d9d9d9" />
<rect x="573.60" y="1947.90" width="55.90" height="35.70" fill="#d9d9d9" />
<rect x="440.00" y="1996.10" width="56.40" height="35.70" fill="#d9d9d9" />
<rect x="573.60" y="1996.10" width="55.90" height="35.70" fill="#d9d9d9" />
<rect x="440.00" y="2038.90" width="56.40" height="35.70" fill="#d9d9d9" />
<rect x="573.60" y="2038.90" width="55.90" height="35.70" fill="#d9d9d9" />
<rect x="440.00" y="2081.40" width="56.40" height="35.70" fill="#d9d9d9" />
<rect x="573.60" y="2081.40" width="55.90" height="35.70" fill="#d9d9d9" />
<rect x="440.00" y="2123.90" width="56.40" height="35.70" fill="#d9d9d9" />
<rect x="573.60" y="2123.90" width="55.90" height="35.70" fill="#d9d9d9" />
<rect x="440.00" y="2166.80" width="56.40" height="35.70" fill="#d9d9d9" />
<rect x="573.60" y="2166.80" width="55.90" height="35.70" fill="#d9d9d9" />
<path transform="translate(109.6,1375.7)" d="M0 0L0 -5.5L1 -5.7L2 -5.6L3 -5.2L4 -5.3L5 -5.2L6 -4.0L7 -9.4L8 -12.5L9 -13.0L10 -12.7L11 -10.4L12 -11.2L13 -12.4L14 -12.4L15 -11.2L16 -7.0L17 -6.7L18 -6.6L19 -5.7L20 -3.2L21 -6.5L22 -8.3L23 -8.6L24 -8.4L25 -7.1L26 -13.5L27 -16.0L28 -16.2L29 -15.4L30 -11.1L31 -17.9L32 -19.9L33 -20.0L34 -18.3L35 -11.7L36 -9.5L37 -9.5L38 -8.3L39 -6.2L40 -8.3L41 -8.6L42 -8.4L43 -6.9L44 -9.2L45 -11.2L46 -11.4L47 -11.0L48 -18.9L49 -21.8L50 -21.9L51 -20.5L52 -14.1L53 -13.3L54 -13.3L55 -12.0L56 -15.5L57 -22.0L58 -23.2L59 -23.0L60 -19.7L61 -11.1L62 -11.4L63 -11.2L64 -9.0L65 -11.0L66 -13.2L67 -13.3L68 -12.8L69 -10.8L70 -12.3L71 -12.4L72 -11.5L73 -11.3L74 -12.4L75 -12.3L76 -11.1L77 -9.9L78 -10.5L79 -10.4L80 -8.9L81 -4.8L82 -9.6L83 -12.1L84 -12.4L85 -12.0L86 -9.4L87 -12.9L88 -15.1L89 -15.2L90 -21.9L91 -24.7L92 -24.7L93 -33.1L94 -35.7L95 -35.7L96 -32.3L97 -20.9L98 -20.8L99 -18.0L100 -10.0L101 -5.5L102 -5.7L103 -9.0L104 -11.2L105 -11.4L106 -12.7L107 -15.1L108 -15.2L109 -14.5L110 -10.4L111 -10.4L112 -10.5L113 -16.2L114 -20.8L115 -21.3L116 -20.8L117 -16.5L118 -10.5L119 -10.4L120 -8.9L121 -10.2L122 -10.5L123 -10.3L124 -12.3L125 -15.0L126 -15.2L127 -19.4L128 -22.7L129 -25.3L130 -28.8L131 -28.9L132 -26.9L133 -21.0L134 -20.3L135 -15.5L136 -11.4L137 -11.1L138 -8.6L139 -3.8L140 -2.9L141 -6.5L142 -8.3L143 -8.6L144 -8.4L145 -6.6L146 -3.2L147 -3.8L148 -3.8L149 -3.6L150 -4.2L151 -6.8L152 -7.6L153 -7.6L154 -7.0L155 -9.8L156 -10.5L157 -10.4L158 -9.1L159 -5.2L160 -1.3L161 0ZM172 0L173 -0.8L174 -2.4L175 -3.6L176 -3.8L177 -5.0L178 -5.3L179 -5.3L180 -4.5L181 -2.9L182 -3.7L183 -3.8L184 -3.7L185 -3.2L186 -6.0L187 -7.2L188 -7.2L189 -6.9L190 -5.0L191 -3.4L192 -3.4L193 -3.2L194 -2.1L195 -0.7L196 0ZM197 0L198 -0.9L199 -2.1L200 -2.8L201 -2.9L202 -2.8L203 -2.3L204 -2.8L205 -2.9L206 -2.8L207 -2.1L208 -0.9L209 -2.0L210 -3.4L211 -3.8L212 -3.8L213 -4.6L214 -7.0L215 -7.6L216 -8.2L217 -14.1L218 -16.1L219 -16.2L220 -15.1L221 -10.1L222 -7.6L223 -7.5L224 -6.0L225 -2.9L226 -2.9L227 -2.8L228 -2.1L229 -0.8L230 0ZM231 0L232 -1.1L233 -3.5L234 -5.3L235 -5.7L236 -7.4L237 -9.0L238 -9.1L239 -8.8L240 -6.6L241 -4.8L242 -4.5L243 -3.2L244 -1.2L245 0ZM255 0L256 -1.3L257 -3.3L258 -4.5L259 -4.8L260 -5.7L261 -7.4L262 -7.6L263 -10.3L264 -12.7L265 -13.0L266 -12.5L267 -9.6L268 -5.7L269 -5.4L270 -3.9L271 -3.4L272 -3.4L273 -3.2L274 -2.1L275 -2.7L276 -2.9L277 -2.8L278 -2.5L279 -2.1L280 -2.8L281 -2.9L282 -2.8L283 -2.3L284 -1.1L285 0ZM296 0L297 -0.6L298 -1.6L299 -2.2L300 -2.3L301 -2.3L302 -2.7L303 -3.4L304 -3.4L305 -3.3L306 -2.6L307 -3.2L308 -3.8L309 -3.8L310 -5.9L311 -6.6L312 -6.7L313 -6.1L314 -4.0L315 -3.8L316 -3.4L317 -2.1L318 -3.8L319 -5.2L320 -5.5L321 -5.4L322 -6.6L323 -6.9L324 -6.8L325 -5.6L326 -5.7L327 -5.9L328 -5.8L329 -4.7L330 -5.4L331 -5.5L332 -5.4L333 -5.4L334 -6.7L335 -6.9L336 -7.8L337 -9.6L338 -9.8L339 -9.5L340 -7.2L341 -8.7L342 -8.8L343 -8.5L344 -6.2L345 -9.1L346 -10.7L347 -10.8L348 -10.2L349 -12.7L350 -14.6L351 -14.7L352 -13.8L353 -13.9L354 -15.6L355 -15.7L356 -20.7L357 -23.1L358 -23.1L359 -21.2L360 -23.1L361 -23.1L362 -21.0L363 -17.7L364 -17.6L365 -15.8L366 -9.6L367 -7.9L368 -7.8L369 -11.0L370 -11.8L371 -13.0L372 -18.6L373 -19.6L374 -19.5L375 -23.4L376 -24.6L377 -24.3L378 -25.1L379 -24.8L380 -20.7L381 -15.7L382 -14.9L383 -10.5L384 -7.8L385 -7.1L386 -4.4L387 -2.9L388 -2.3L389 -1.1L390 0ZM408 0L409 -0.9L410 -3.2L411 -5.3L412 -5.9L413 -5.9L414 -5.4L415 -5.9L416 -5.9L417 -5.3L418 -3.4L419 -1.0L420 0ZM424 0L425 -0.8L426 -2.3L427 -3.3L428 -3.5L429 -3.5L430 -3.0L431 -1.7L432 -0.4L433 -0.9L434 -2.1L435 -2.8L436 -2.9L437 -2.9L438 -2.4L439 -1.2L440 0ZM455 0L456 -0.3L457 -1.1L458 -2.0L459 -2.3L460 -2.4L461 -2.2L462 -2.5L463 -4.3L464 -4.9L465 -4.9L466 -4.6L467 -5.4L468 -8.8L469 -9.8L470 -9.8L471 -9.0L472 -7.2L473 -7.8L474 -7.8L475 -7.1L476 -9.1L477 -9.8L478 -9.8L479 -13.2L480 -16.4L481 -16.7L482 -16.2L483 -14.6L484 -14.7L485 -13.8L486 -9.5L487 -7.9L488 -9.0L489 -12.2L490 -12.8L491 -12.6L492 -10.5L493 -9.8L494 -9.7L495 -8.6L496 -8.8L497 -13.8L498 -15.6L499 -15.7L500 -14.6L501 -15.3L502 -15.2L503 -13.4L504 -7.7L505 -6.7L506 -5.1L507 -2.2L508 -0.3L509 0ZM559 0L560 -0.3L561 -1.5L562 -2.9L563 -3.5L564 -3.5L565 -4.9L566 -5.8L567 -5.9L568 -5.6L569 -4.0L570 -3.9L571 -3.7L572 -2.6L573 -1.0L574 0ZM580 0L581 -1.2L582 -2.4L583 -2.9L584 -2.9L585 -2.8L586 -2.1L587 -0.9L588 0ZM604 0L605 -1.0L606 -2.2L607 -2.9L608 -2.9L609 -2.9L610 -2.3L611 -2.9L612 -2.9L613 -2.9L614 -2.2L615 -1.0L616 0ZM650 0L651 -0.9L652 -2.2L653 -2.9L654 -2.9L655 -2.9L656 -3.4L657 -3.5L658 -3.5L659 -2.7L660 -1.2L661 0ZM673 0L674 -0.5L675 -1.8L676 -3.1L677 -3.5L678 -3.5L679 -3.3L680 -2.2L681 -0.7L682 0ZM685 0L686 -0.6L687 -1.8L688 -2.7L689 -2.9L690 -2.9L691 -2.6L692 -1.6L693 -0.4L694 0ZM731 0L732 -0.4L733 -1.5L734 -2.6L735 -2.9L736 -2.9L737 -2.7L738 -2.9L739 -2.9L740 -2.7L741 -1.7L742 -1.4L743 -2.2L744 -2.4L745 -2.3L746 -2.1L747 -1.3L748 -0.4L749 -0.7L750 -1.9L751 -2.8L752 -2.9L753 -2.9L754 -3.4L755 -3.5L756 -3.5L757 -3.0L758 -1.6L759 -0.7L760 -3.0L761 -5.4L762 -6.2L763 -6.3L764 -5.9L765 -6.3L766 -6.3L767 -5.6L768 -4.3L769 -4.3L770 -4.0L771 -2.6L772 -0.9L773 0ZM822 0L823 -0.6L824 -1.8L825 -2.7L826 -2.9L827 -2.9L828 -2.6L829 -1.5L830 -0.4L831 0ZM832 0L833 -1.6L834 -4.1L835 -5.6L836 -5.9L837 -5.8L838 -6.8L839 -6.9L840 -6.5L841 -5.9L842 -5.5L843 -3.8L844 -1.4L845 0ZM868 0L869 -1.0L870 -2.5L871 -3.4L872 -3.5L873 -3.5L874 -3.2L875 -3.5L876 -3.5L877 -3.2L878 -2.0L879 -0.6L880 0ZM896 0L897 -0.9L898 -2.4L899 -3.4L900 -3.5L901 -3.5L902 -3.0L903 -1.6L904 -0.4L905 0ZM932 0L933 -1.4L934 -3.0L935 -3.8L936 -3.9L937 -3.9L938 -4.8L939 -4.9L940 -4.8L941 -3.7L942 -3.5L943 -3.4L944 -2.6L945 -1.1L946 0ZM948 0L949 -0.4L950 -1.7L951 -3.0L952 -3.5L953 -3.5L954 -3.3L955 -2.3L955 0Z" fill="#60b1fa" stroke="#4d9de6" stroke-width="0.7" stroke-linejoin="round"/>
<line x1="109.60" y1="1375.70" x2="1064.30" y2="1375.70" stroke="#274a6b" stroke-width="1.4" />
<line x1="109.60" y1="1340.00" x2="109.60" y2="1376.30" stroke="#000" stroke-width="1.5" />
<line x1="109.60" y1="1352.00" x2="116.60" y2="1352.00" stroke="#000" stroke-width="1.5" />
<text x="98.40" y="1358.70" font-size="18.8" text-anchor="end" fill="#000" >1</text>
<text x="1080.70" y="1365.40" font-size="21" text-anchor="start" fill="#000" >S0</text>
<path transform="translate(109.6,1418.2)" d="M0 0L0 -4.9L1 -6.5L2 -6.7L3 -6.5L4 -5.3L5 -4.8L6 -4.6L7 -4.9L8 -5.7L9 -5.7L10 -5.4L11 -3.8L12 -5.2L13 -5.7L14 -5.7L15 -5.2L16 -3.2L17 -0.9L18 -2.0L19 -2.7L20 -2.9L21 -2.8L22 -2.3L23 -1.2L24 0ZM24 0L25 -0.9L26 -4.0L27 -7.3L28 -8.5L29 -8.6L30 -10.1L31 -11.4L32 -11.4L33 -12.5L34 -15.0L35 -15.2L36 -14.6L37 -10.7L38 -9.5L39 -8.9L40 -6.1L41 -5.7L42 -5.6L43 -4.6L44 -2.8L45 -7.2L46 -10.0L47 -10.5L48 -10.4L49 -13.0L50 -14.8L51 -14.8L52 -13.8L53 -9.5L54 -9.5L55 -8.6L56 -5.4L57 -4.8L58 -4.5L59 -3.2L60 -1.5L61 -1.5L62 -1.2L63 -0.6L64 0ZM66 0L67 -0.3L68 -1.2L69 -2.0L70 -2.3L71 -2.3L72 -2.1L73 -2.1L74 -3.2L75 -3.4L76 -3.4L77 -4.6L78 -6.4L79 -6.7L80 -9.2L81 -12.0L82 -12.4L83 -12.1L84 -15.2L85 -16.2L86 -16.1L87 -13.9L88 -10.4L89 -10.5L90 -10.1L91 -13.7L92 -14.3L93 -14.1L94 -11.7L95 -9.5L96 -9.5L97 -8.4L98 -9.1L99 -9.5L100 -9.4L101 -7.9L102 -4.2L103 -3.0L104 -6.1L105 -7.5L106 -7.6L107 -7.6L108 -10.1L109 -10.5L110 -10.3L111 -8.4L112 -7.6L113 -7.6L114 -7.0L115 -8.5L116 -9.1L117 -9.1L118 -8.0L119 -7.3L120 -7.6L121 -7.5L122 -6.2L123 -4.5L124 -5.6L125 -5.7L126 -5.5L127 -4.2L128 -5.7L129 -6.6L130 -6.7L131 -6.3L132 -4.3L133 -5.2L134 -5.7L135 -5.7L136 -5.1L137 -3.1L138 -0.9L139 -1.7L140 -4.0L141 -5.2L142 -5.3L143 -5.2L144 -4.2L145 -3.4L146 -4.1L147 -4.2L148 -4.0L149 -2.9L150 -3.4L151 -3.8L152 -3.8L153 -3.5L154 -2.3L155 -1.9L156 -2.7L157 -2.9L158 -2.8L159 -2.5L160 -1.4L161 -2.6L162 -3.3L163 -3.4L164 -3.3L165 -2.6L166 -1.2L167 0ZM170 0L171 -1.0L172 -3.1L173 -4.9L174 -5.3L175 -5.3L176 -4.8L177 -7.5L178 -8.5L179 -8.6L180 -8.0L181 -5.4L182 -4.6L183 -4.8L184 -4.7L185 -3.7L186 -2.3L187 -2.2L188 -1.6L189 -0.7L190 -0.9L191 -3.0L192 -4.8L193 -5.3L194 -5.3L195 -4.8L196 -3.8L197 -5.4L198 -5.7L199 -5.7L200 -4.8L201 -2.8L202 -2.9L203 -2.8L204 -2.3L205 -2.2L206 -2.3L207 -2.2L208 -1.6L209 -0.7L210 -0.9L211 -3.0L212 -4.8L213 -5.3L214 -5.3L215 -4.8L216 -5.0L217 -5.3L218 -5.3L219 -4.6L220 -2.6L221 -0.6L222 -0.9L223 -1.8L224 -2.2L225 -2.3L226 -2.2L227 -1.7L228 -0.7L229 0ZM230 0L231 -0.9L232 -2.8L233 -4.4L234 -4.8L235 -4.7L236 -4.3L237 -3.4L238 -3.4L239 -2.9L240 -1.6L241 -0.4L242 0ZM255 0L256 -1.0L257 -2.6L258 -3.6L259 -3.8L260 -5.4L261 -7.0L262 -7.2L263 -7.1L264 -7.8L265 -8.0L266 -7.7L267 -5.9L268 -3.8L269 -3.6L270 -2.6L271 -1.0L272 0ZM299 0L300 -0.8L301 -1.7L302 -2.2L303 -2.3L304 -2.2L305 -1.8L306 -0.8L307 0ZM309 0L310 -0.5L311 -1.6L312 -2.8L313 -4.0L314 -4.3L315 -4.3L316 -3.7L317 -2.1L318 -0.5L319 0ZM324 0L325 -0.3L326 -1.8L327 -4.1L328 -5.3L329 -5.5L330 -5.4L331 -4.3L332 -2.1L333 -0.5L334 -2.6L335 -5.4L336 -6.7L337 -6.9L338 -9.9L339 -12.0L340 -12.2L341 -11.7L342 -9.7L343 -9.8L344 -9.4L345 -7.8L346 -7.9L347 -7.9L348 -11.5L349 -12.2L350 -12.1L351 -10.4L352 -9.8L353 -9.6L354 -7.8L355 -8.8L356 -8.8L357 -13.8L358 -15.3L359 -15.3L360 -14.0L361 -10.8L362 -10.6L363 -8.6L364 -4.9L365 -4.9L366 -4.4L367 -4.4L368 -6.4L369 -6.9L370 -6.8L371 -7.8L372 -8.2L373 -8.2L374 -7.0L375 -7.1L376 -7.5L377 -7.4L378 -7.9L379 -8.3L380 -8.1L381 -6.8L382 -4.7L383 -4.9L384 -4.8L385 -3.9L386 -2.7L387 -2.9L388 -2.9L389 -2.6L390 -1.6L391 -0.4L392 0ZM396 0L397 -1.0L398 -2.0L399 -2.3L400 -2.4L401 -2.2L402 -1.6L403 -2.4L404 -4.2L405 -4.9L406 -4.9L407 -4.6L408 -3.2L409 -2.9L410 -2.9L411 -2.7L412 -2.7L413 -4.4L414 -4.9L415 -4.9L416 -4.5L417 -2.9L418 -2.9L419 -2.6L420 -1.6L421 -0.5L422 0ZM424 0L425 -0.3L426 -1.2L427 -2.0L428 -2.3L429 -2.4L430 -2.2L431 -1.5L432 -0.5L433 0ZM455 0L456 -0.7L457 -2.8L458 -5.0L459 -5.8L460 -7.0L461 -9.1L462 -9.4L463 -9.2L464 -7.4L465 -5.9L466 -5.5L467 -3.7L468 -1.2L469 0ZM472 0L473 -1.3L474 -4.2L475 -6.3L476 -6.9L477 -6.8L478 -7.7L479 -8.2L480 -8.2L481 -7.2L482 -8.3L483 -8.8L484 -8.8L485 -7.6L486 -4.7L487 -4.9L488 -4.9L489 -4.1L490 -3.8L491 -3.9L492 -3.9L493 -3.2L494 -4.7L495 -6.1L496 -6.3L497 -6.2L498 -4.9L499 -3.9L500 -3.8L501 -3.0L502 -1.4L503 0ZM504 0L505 -0.3L506 -1.2L507 -2.4L508 -2.9L509 -2.9L510 -2.8L511 -2.1L512 -3.3L513 -3.9L514 -3.9L515 -3.7L516 -6.0L517 -6.8L518 -6.9L519 -6.6L520 -7.4L521 -7.5L522 -6.9L523 -4.6L524 -4.3L525 -4.3L526 -3.9L527 -2.5L528 -0.8L529 0ZM533 0L534 -0.4L535 -1.3L536 -1.8L537 -2.0L538 -2.0L539 -1.7L540 -1.0L541 0ZM552 0L553 -0.8L554 -1.8L555 -2.3L556 -2.4L557 -2.3L558 -1.8L559 -0.8L560 0ZM577 0L578 -0.4L579 -1.3L580 -2.1L581 -2.4L582 -2.4L583 -2.1L584 -1.4L585 -0.4L586 0ZM587 0L588 -0.5L589 -1.5L590 -2.2L591 -2.4L592 -2.3L593 -2.0L594 -1.2L595 -0.3L596 0ZM627 0L628 -0.3L629 -1.2L630 -2.1L631 -2.3L632 -2.4L633 -2.2L634 -1.5L635 -0.5L636 0ZM661 0L662 -0.7L663 -2.0L664 -2.8L665 -2.9L666 -2.9L667 -2.5L668 -1.4L669 -1.3L670 -2.5L671 -2.9L672 -2.9L673 -2.8L674 -2.0L675 -0.7L676 0ZM690 0L691 -0.6L692 -1.9L693 -2.8L694 -2.9L695 -2.9L696 -2.6L697 -1.5L698 -0.4L699 0ZM700 0L701 -1.4L702 -3.5L703 -4.7L704 -4.9L705 -5.7L706 -5.9L707 -5.8L708 -4.8L709 -2.9L710 -2.7L711 -1.6L712 -0.5L713 0ZM731 0L732 -0.8L733 -2.0L734 -2.8L735 -2.9L736 -2.9L737 -2.4L738 -1.3L739 -0.3L740 -1.0L741 -3.2L742 -5.0L743 -5.5L744 -5.5L745 -5.4L746 -5.9L747 -5.9L748 -5.4L749 -5.5L750 -5.3L751 -4.1L752 -1.8L753 -0.3L754 -0.8L755 -2.0L756 -2.8L757 -2.9L758 -3.5L759 -4.7L760 -4.9L761 -4.8L762 -5.3L763 -5.9L764 -5.9L765 -5.3L766 -3.5L767 -3.5L768 -3.3L769 -2.2L770 -0.7L771 0ZM778 0L779 -0.4L780 -1.8L781 -3.3L782 -3.9L783 -3.9L784 -5.1L785 -5.9L786 -5.9L787 -5.5L788 -3.8L789 -3.5L790 -3.3L791 -2.2L792 -0.7L793 0ZM806 0L807 -0.4L808 -1.5L809 -2.6L810 -2.9L811 -2.9L812 -2.7L813 -2.1L814 -2.8L815 -2.9L816 -2.9L817 -2.4L818 -2.2L819 -2.9L820 -2.9L821 -2.9L822 -2.3L823 -1.1L824 0ZM825 0L826 -0.5L827 -1.7L828 -2.7L829 -2.9L830 -2.9L831 -2.7L832 -1.7L833 -0.5L834 0ZM838 0L839 -0.4L840 -1.7L841 -3.1L842 -3.5L843 -5.2L844 -5.9L845 -5.9L846 -5.5L847 -3.7L848 -2.7L849 -1.8L850 -0.6L851 0ZM865 0L866 -0.8L867 -2.0L868 -2.8L869 -2.9L870 -2.9L871 -2.4L872 -1.3L873 -1.7L874 -2.7L875 -2.9L876 -2.9L877 -2.7L878 -1.6L879 -0.5L880 0ZM894 0L895 -0.4L896 -1.5L897 -2.6L898 -2.9L899 -2.9L900 -2.8L901 -1.9L902 -2.6L903 -2.9L904 -2.9L905 -2.7L906 -1.8L907 -2.7L908 -2.9L909 -2.9L910 -2.7L911 -1.6L912 -1.4L913 -4.3L914 -6.4L915 -6.9L916 -8.5L917 -9.4L918 -9.4L919 -8.6L920 -5.5L921 -5.3L922 -4.0L923 -1.6L924 0ZM935 0L936 -1.1L937 -2.3L938 -2.9L939 -2.9L940 -2.9L941 -2.2L942 -0.9L943 0Z" fill="#60b1fa" stroke="#4d9de6" stroke-width="0.7" stroke-linejoin="round"/>
<line x1="109.60" y1="1418.20" x2="1064.30" y2="1418.20" stroke="#274a6b" stroke-width="1.4" />
<line x1="109.60" y1="1382.50" x2="109.60" y2="1418.80" stroke="#000" stroke-width="1.5" />
<line x1="109.60" y1="1394.50" x2="116.60" y2="1394.50" stroke="#000" stroke-width="1.5" />
<text x="98.40" y="1401.20" font-size="18.8" text-anchor="end" fill="#000" >1</text>
<text x="1080.70" y="1407.90" font-size="21" text-anchor="start" fill="#000" >S1</text>
<path transform="translate(109.6,1461.0)" d="M0 0L0 -1.9L1 -4.3L2 -5.6L3 -5.7L4 -5.6L5 -4.4L6 -5.1L7 -6.0L8 -6.1L9 -5.8L10 -4.2L11 -4.9L12 -7.8L13 -8.6L14 -8.6L15 -7.7L16 -4.8L17 -4.6L18 -6.4L19 -6.7L20 -6.6L21 -8.3L22 -8.6L23 -8.4L24 -6.8L25 -3.2L26 -0.6L27 0ZM30 0L31 -1.2L32 -3.9L33 -6.1L34 -6.7L35 -6.6L36 -8.6L37 -9.1L38 -9.1L39 -8.4L40 -9.8L41 -9.9L42 -9.4L43 -6.6L44 -2.4L45 -4.7L46 -5.6L47 -5.7L48 -5.5L49 -9.4L50 -12.1L51 -12.4L52 -12.1L53 -9.6L54 -5.7L55 -5.7L56 -5.1L57 -6.6L58 -9.1L59 -9.5L60 -9.4L61 -11.4L62 -11.8L63 -11.6L64 -9.3L65 -8.4L66 -8.6L67 -8.3L68 -6.2L69 -3.8L70 -3.8L71 -3.6L72 -2.5L73 -3.5L74 -5.3L75 -5.7L76 -5.7L77 -5.0L78 -3.0L79 -1.0L80 -5.8L81 -13.0L82 -16.7L83 -17.1L84 -16.9L85 -20.6L86 -21.0L87 -20.2L88 -15.1L89 -13.3L90 -12.6L91 -12.8L92 -14.2L93 -14.3L94 -13.0L95 -16.3L96 -17.5L97 -17.4L98 -15.3L99 -12.2L100 -12.4L101 -11.8L102 -8.5L103 -5.7L104 -5.6L105 -4.4L106 -2.0L107 -0.4L108 -0.5L109 -2.0L110 -3.4L111 -3.8L112 -3.8L113 -7.0L114 -10.6L115 -11.4L116 -16.6L117 -23.4L118 -24.8L119 -24.5L120 -21.0L121 -15.2L122 -14.4L123 -10.1L124 -3.7L125 -0.5L126 0ZM127 0L128 -1.4L129 -5.0L130 -8.4L131 -9.5L132 -9.5L133 -8.8L134 -6.2L135 -6.7L136 -6.6L137 -5.9L138 -3.5L139 -5.5L140 -7.3L141 -7.6L142 -7.5L143 -6.1L144 -4.3L145 -5.2L146 -5.3L147 -5.1L148 -3.8L149 -1.6L150 -0.5L151 -1.6L152 -2.6L153 -2.9L154 -2.9L155 -2.6L156 -3.6L157 -5.0L158 -5.3L159 -5.3L160 -4.5L161 -2.4L162 -1.9L163 -1.9L164 -1.5L165 -0.7L166 0ZM166 0L167 -0.4L168 -1.4L169 -2.5L170 -2.8L171 -2.9L172 -2.7L173 -1.8L174 -0.6L175 0ZM176 0L177 -0.8L178 -2.0L179 -2.7L180 -2.9L181 -2.8L182 -4.4L183 -5.6L184 -5.7L185 -5.6L186 -6.4L187 -7.5L188 -7.6L189 -7.3L190 -7.6L191 -8.5L192 -8.6L193 -13.1L194 -14.3L195 -14.2L196 -12.8L197 -10.8L198 -11.4L199 -11.3L200 -9.7L201 -12.0L202 -12.4L203 -12.1L204 -9.8L205 -11.2L206 -11.4L207 -11.0L208 -11.5L209 -13.2L210 -13.3L211 -18.8L212 -20.9L213 -20.9L214 -26.4L215 -28.5L216 -28.4L217 -28.8L218 -30.5L219 -30.2L220 -25.8L221 -24.0L222 -24.8L223 -24.9L224 -30.8L225 -31.4L226 -33.5L227 -33.9L228 -32.5L229 -26.7L230 -26.5L231 -22.9L232 -12.8L233 -11.4L234 -10.4L235 -12.4L236 -13.3L237 -13.3L238 -11.6L239 -7.6L240 -7.5L241 -6.3L242 -4.1L243 -5.2L244 -5.3L245 -5.2L246 -4.0L247 -4.9L248 -5.7L249 -5.7L250 -5.4L251 -3.8L252 -3.1L253 -3.4L254 -3.4L255 -3.1L256 -3.2L257 -4.5L258 -4.8L259 -4.7L260 -4.0L261 -2.9L262 -3.7L263 -3.8L264 -3.7L265 -2.9L266 -2.6L267 -4.9L268 -5.7L269 -5.7L270 -5.4L271 -3.8L272 -1.4L273 0ZM285 0L286 -0.7L287 -2.8L288 -4.9L289 -5.7L290 -5.7L291 -5.4L292 -3.7L293 -2.3L294 -3.5L295 -3.8L296 -3.8L297 -3.4L298 -3.8L299 -5.1L300 -5.3L301 -5.3L302 -4.4L303 -3.8L304 -4.7L305 -4.8L306 -4.6L307 -3.5L308 -1.5L309 0ZM325 0L326 -0.6L327 -1.5L328 -1.9L329 -2.0L330 -1.9L331 -1.5L332 -2.3L333 -2.9L334 -2.9L335 -5.3L336 -11.0L337 -13.5L338 -13.8L339 -18.9L340 -22.8L341 -23.2L342 -22.3L343 -16.5L344 -11.7L345 -10.4L346 -9.7L347 -12.8L348 -18.5L349 -19.6L350 -19.5L351 -16.8L352 -11.8L353 -11.0L354 -15.0L355 -15.7L356 -16.8L357 -22.7L358 -23.6L359 -23.2L360 -19.1L361 -16.7L362 -16.4L363 -13.3L364 -10.8L365 -10.8L366 -9.6L367 -8.8L368 -9.4L369 -9.4L370 -8.2L371 -10.2L372 -10.8L373 -10.7L374 -14.0L375 -14.7L376 -14.6L377 -12.4L378 -10.8L379 -10.7L380 -8.9L381 -4.6L382 -3.9L383 -3.2L384 -2.9L385 -2.9L386 -2.9L387 -2.3L388 -1.1L389 0ZM436 0L437 -0.8L438 -1.8L439 -2.3L440 -2.4L441 -2.3L442 -1.9L443 -0.9L444 -0.9L445 -1.9L446 -2.3L447 -2.4L448 -2.3L449 -1.8L450 -0.8L451 0ZM454 0L455 -0.5L456 -2.3L457 -4.2L458 -4.9L459 -4.9L460 -7.0L461 -7.5L462 -7.4L463 -6.4L464 -4.9L465 -4.8L466 -3.8L467 -3.8L468 -6.2L469 -6.9L470 -6.9L471 -9.8L472 -10.8L473 -10.8L474 -13.5L475 -14.7L476 -15.1L477 -17.9L478 -18.1L479 -17.2L480 -12.4L481 -11.7L482 -10.2L483 -7.4L484 -7.9L485 -7.8L486 -6.7L487 -6.6L488 -6.9L489 -6.8L490 -7.1L491 -9.5L492 -9.8L493 -10.9L494 -14.3L495 -14.7L496 -14.5L497 -14.9L498 -15.3L499 -15.0L500 -11.9L501 -10.8L502 -10.5L503 -8.2L504 -3.9L505 -3.8L506 -2.9L507 -1.2L508 0ZM510 0L511 -0.3L512 -1.1L513 -2.0L514 -2.3L515 -2.4L516 -2.2L517 -1.6L518 -1.5L519 -2.6L520 -2.9L521 -2.9L522 -2.7L523 -1.8L524 -2.4L525 -3.9L526 -4.3L527 -4.3L528 -3.9L529 -2.5L530 -2.2L531 -2.4L532 -2.3L533 -2.1L534 -1.3L535 -0.3L536 0ZM539 0L540 -0.6L541 -1.6L542 -2.2L543 -2.4L544 -2.3L545 -2.0L546 -1.0L547 0ZM558 0L559 -0.9L560 -1.9L561 -2.3L562 -2.4L563 -2.3L564 -1.7L565 -0.7L566 0ZM580 0L581 -0.9L582 -1.9L583 -2.3L584 -2.4L585 -2.3L586 -1.7L587 -0.7L588 0ZM603 0L604 -0.8L605 -1.8L606 -2.3L607 -2.4L608 -2.3L609 -1.9L610 -0.9L611 0ZM611 0L612 -0.9L613 -1.9L614 -2.3L615 -2.4L616 -2.3L617 -1.7L618 -1.6L619 -1.9L620 -2.0L621 -1.9L622 -1.4L623 -0.5L624 0ZM667 0L668 -0.3L669 -1.3L670 -2.5L671 -2.9L672 -2.9L673 -2.8L674 -2.0L675 -2.6L676 -2.9L677 -2.9L678 -2.8L679 -1.9L680 -1.6L681 -2.6L682 -2.9L683 -2.9L684 -2.7L685 -1.7L686 -0.5L687 0ZM697 0L698 -0.8L699 -2.0L700 -2.8L701 -2.9L702 -2.9L703 -2.8L704 -2.9L705 -2.9L706 -2.4L707 -1.2L708 -0.3L709 0ZM738 0L739 -0.5L740 -1.7L741 -2.7L742 -2.9L743 -2.9L744 -2.6L745 -1.8L746 -2.7L747 -2.9L748 -2.9L749 -2.6L750 -2.6L751 -3.7L752 -3.9L753 -3.9L754 -3.7L755 -5.2L756 -5.5L757 -6.6L758 -7.8L759 -7.9L760 -7.5L761 -5.7L762 -5.9L763 -5.8L764 -4.7L765 -2.3L766 -0.5L767 0ZM773 0L774 -0.3L775 -1.2L776 -2.4L777 -2.9L778 -2.9L779 -2.8L780 -2.1L781 -0.8L782 0ZM799 0L800 -0.6L801 -1.8L802 -2.7L803 -2.9L804 -2.9L805 -2.6L806 -2.4L807 -2.9L808 -2.9L809 -2.8L810 -2.1L811 -0.9L812 0ZM836 0L837 -0.3L838 -1.4L839 -2.5L840 -2.9L841 -2.9L842 -2.8L843 -1.9L844 -2.6L845 -2.9L846 -2.9L847 -2.7L848 -1.8L849 -2.6L850 -2.9L851 -2.9L852 -2.7L853 -1.7L854 -0.6L855 -1.8L856 -2.7L857 -2.9L858 -2.9L859 -2.6L860 -1.5L861 -1.9L862 -2.8L863 -2.9L864 -2.9L865 -2.5L866 -1.4L867 -0.3L868 0ZM908 0L909 -0.5L910 -1.4L911 -2.2L912 -2.4L913 -2.3L914 -2.1L915 -1.2L916 -0.7L917 -1.9L918 -2.8L919 -2.9L920 -2.9L921 -2.5L922 -3.0L923 -4.1L924 -4.3L925 -4.9L926 -6.6L927 -6.9L928 -6.8L929 -5.6L930 -4.3L931 -5.6L932 -7.3L933 -7.5L934 -7.3L935 -7.6L936 -8.2L937 -8.2L938 -7.2L939 -6.9L940 -6.9L941 -6.3L942 -5.5L943 -5.5L944 -4.7L945 -2.6L946 -0.6L947 0Z" fill="#60b1fa" stroke="#4d9de6" stroke-width="0.7" stroke-linejoin="round"/>
<line x1="109.60" y1="1461.00" x2="1064.30" y2="1461.00" stroke="#274a6b" stroke-width="1.4" />
<line x1="109.60" y1="1425.30" x2="109.60" y2="1461.60" stroke="#000" stroke-width="1.5" />
<line x1="109.60" y1="1437.30" x2="116.60" y2="1437.30" stroke="#000" stroke-width="1.5" />
<text x="98.40" y="1444.00" font-size="18.8" text-anchor="end" fill="#000" >1</text>
<text x="1080.70" y="1450.70" font-size="21" text-anchor="start" fill="#000" >S2</text>
<path transform="translate(109.6,1503.6)" d="M0 0L0 -3.5L1 -4.6L2 -4.8L3 -4.7L4 -5.4L5 -6.6L6 -6.7L7 -6.4L8 -4.9L9 -5.7L10 -5.7L11 -5.4L12 -4.8L13 -5.3L14 -5.3L15 -4.8L16 -3.0L17 -3.7L18 -5.1L19 -5.3L20 -5.3L21 -6.5L22 -6.7L23 -6.5L24 -5.3L25 -2.5L26 -2.2L27 -4.0L28 -4.7L29 -4.8L30 -4.5L31 -3.2L32 -1.3L33 -4.1L34 -6.2L35 -6.7L36 -6.6L37 -6.3L38 -6.7L39 -6.6L40 -5.6L41 -10.1L42 -13.0L43 -13.3L44 -18.7L45 -22.9L46 -23.2L47 -22.4L48 -16.8L49 -15.2L50 -14.4L51 -14.5L52 -16.1L53 -16.2L54 -14.8L55 -13.3L56 -14.3L57 -14.2L58 -12.4L59 -10.5L60 -10.4L61 -8.7L62 -4.6L63 -4.8L64 -4.7L65 -3.7L66 -5.6L67 -6.6L68 -6.7L69 -6.3L70 -4.6L71 -6.8L72 -7.6L73 -7.6L74 -7.0L75 -10.9L76 -15.7L77 -16.8L78 -16.6L79 -14.4L80 -9.5L81 -9.4L82 -7.8L83 -5.6L84 -5.7L85 -5.6L86 -7.2L87 -8.5L88 -8.6L89 -8.2L90 -5.9L91 -5.7L92 -5.3L93 -3.6L94 -4.8L95 -7.1L96 -7.6L97 -7.6L98 -10.3L99 -12.2L100 -12.4L101 -11.8L102 -8.5L103 -8.6L104 -8.4L105 -6.6L106 -3.0L107 -2.3L108 -4.1L109 -4.7L110 -4.8L111 -4.5L112 -4.3L113 -6.6L114 -7.2L115 -7.2L116 -6.5L117 -5.9L118 -8.2L119 -8.6L120 -8.5L121 -7.1L122 -3.7L123 -0.8L124 0ZM126 0L127 -0.7L128 -2.9L129 -5.0L130 -5.7L131 -5.7L132 -5.3L133 -7.3L134 -8.0L135 -8.0L136 -7.1L137 -4.5L138 -4.8L139 -4.7L140 -4.0L141 -2.2L142 -0.5L143 0ZM143 0L144 -0.5L145 -2.1L146 -4.0L147 -4.7L148 -4.8L149 -4.5L150 -3.6L151 -6.0L152 -6.6L153 -6.7L154 -6.1L155 -3.9L156 -4.5L157 -6.3L158 -6.7L159 -6.6L160 -5.6L161 -3.1L162 -2.8L163 -2.9L164 -2.8L165 -2.2L166 -1.6L167 -1.9L168 -1.9L169 -1.8L170 -1.3L171 -0.5L172 0ZM173 0L174 -1.1L175 -3.1L176 -4.5L177 -4.8L178 -4.7L179 -4.1L180 -2.3L181 -1.5L182 -3.3L183 -4.1L184 -4.2L185 -4.1L186 -3.2L187 -2.3L188 -4.1L189 -4.7L190 -4.8L191 -4.5L192 -3.1L193 -3.5L194 -3.8L195 -3.8L196 -5.7L197 -6.6L198 -6.7L199 -6.3L200 -4.3L201 -5.5L202 -5.7L203 -6.5L204 -13.1L205 -15.9L206 -16.2L207 -15.6L208 -17.0L209 -17.1L210 -16.2L211 -15.4L212 -17.1L213 -17.1L214 -15.7L215 -19.5L216 -20.9L217 -20.8L218 -20.9L219 -28.3L220 -29.5L221 -29.1L222 -24.2L223 -23.8L224 -23.3L225 -18.4L226 -18.1L227 -17.4L228 -13.0L229 -12.4L230 -11.7L231 -8.2L232 -10.3L233 -11.4L234 -11.4L235 -10.3L236 -9.3L237 -9.5L238 -9.2L239 -7.0L240 -3.1L241 -4.1L242 -4.2L243 -4.1L244 -3.3L245 -1.6L246 -0.3L247 0ZM262 0L263 -0.3L264 -1.2L265 -2.3L266 -2.8L267 -3.2L268 -5.7L269 -6.6L270 -6.7L271 -6.3L272 -4.3L273 -3.8L274 -3.5L275 -2.2L276 -0.7L277 0ZM295 0L296 -0.3L297 -2.4L298 -6.1L299 -8.2L300 -8.6L301 -10.2L302 -10.5L303 -10.3L304 -8.3L305 -7.4L306 -5.8L307 -2.6L308 -0.4L309 0ZM310 0L311 -0.9L312 -2.5L313 -3.7L314 -3.9L315 -5.9L316 -6.8L317 -6.9L318 -6.5L319 -4.4L320 -3.5L321 -3.5L322 -3.0L323 -2.8L324 -3.8L325 -3.9L326 -3.9L327 -3.2L328 -3.2L329 -4.2L330 -4.3L331 -4.2L332 -3.4L333 -6.1L334 -7.7L335 -7.9L336 -7.8L337 -9.6L338 -9.8L339 -9.5L340 -7.2L341 -7.5L342 -7.4L343 -6.7L344 -4.1L345 -4.9L346 -4.9L347 -4.7L348 -3.3L349 -4.8L350 -5.5L351 -5.5L352 -5.2L353 -5.2L354 -5.9L355 -5.9L356 -5.4L357 -8.8L358 -9.8L359 -9.8L360 -9.0L361 -13.4L362 -14.7L363 -14.7L364 -13.2L365 -10.8L366 -10.8L367 -9.6L368 -11.9L369 -12.2L370 -11.8L371 -10.2L372 -10.8L373 -10.7L374 -9.2L375 -5.6L376 -5.9L377 -5.8L378 -4.9L379 -4.7L380 -4.9L381 -4.8L382 -4.0L383 -4.2L384 -4.3L385 -4.2L386 -3.4L387 -1.6L388 -0.3L389 0ZM406 0L407 -0.3L408 -1.0L409 -1.7L410 -2.0L411 -2.0L412 -1.8L413 -1.2L414 -0.4L415 0ZM416 0L417 -0.8L418 -2.6L419 -4.0L420 -4.3L421 -4.3L422 -3.8L423 -2.3L424 -0.6L425 0ZM454 0L455 -0.5L456 -2.3L457 -4.2L458 -4.9L459 -4.9L460 -5.4L461 -6.2L462 -6.3L463 -5.9L464 -4.0L465 -1.4L466 -1.7L467 -5.9L468 -9.7L469 -10.8L470 -10.8L471 -9.9L472 -9.8L473 -9.5L474 -7.1L475 -6.0L476 -9.1L477 -9.8L478 -9.8L479 -8.7L480 -10.7L481 -11.4L482 -11.3L483 -9.8L484 -8.8L485 -8.8L486 -7.5L487 -4.1L488 -6.9L489 -9.4L490 -9.8L491 -9.7L492 -11.7L493 -12.2L494 -12.2L495 -13.3L496 -13.3L497 -12.0L498 -8.6L499 -8.8L500 -8.6L501 -6.8L502 -4.9L503 -4.8L504 -3.7L505 -1.6L506 -1.0L507 -1.9L508 -2.3L509 -2.4L510 -2.3L511 -1.7L512 -0.7L513 0ZM513 0L514 -0.8L515 -1.4L516 -1.6L517 -1.6L518 -1.5L519 -1.0L520 -0.4L521 0ZM522 0L523 -0.4L524 -1.3L525 -2.1L526 -2.4L527 -2.4L528 -2.1L529 -1.3L530 -0.4L531 0ZM559 0L560 -0.4L561 -1.8L562 -3.5L563 -4.3L564 -4.3L565 -5.2L566 -6.2L567 -6.3L568 -6.0L569 -4.3L570 -3.5L571 -3.5L572 -3.3L573 -2.3L574 -2.6L575 -2.9L576 -2.9L577 -2.7L578 -3.9L579 -4.3L580 -4.3L581 -4.0L582 -2.5L583 -2.7L584 -2.9L585 -2.9L586 -2.6L587 -2.7L588 -4.0L589 -4.3L590 -4.3L591 -3.8L592 -2.2L593 -2.8L594 -2.9L595 -2.9L596 -2.5L597 -1.4L598 -0.3L599 0ZM599 0L600 -0.6L601 -1.4L602 -1.9L603 -2.0L604 -1.9L605 -1.6L606 -0.8L607 0ZM607 0L608 -1.4L609 -3.0L610 -3.8L611 -3.9L612 -3.8L613 -3.0L614 -1.9L615 -2.3L616 -2.4L617 -2.3L618 -1.7L619 -0.7L620 0ZM620 0L621 -0.4L622 -1.2L623 -1.8L624 -2.0L625 -2.0L626 -1.7L627 -1.0L628 0ZM653 0L654 -0.3L655 -1.5L656 -3.3L657 -4.2L658 -4.3L659 -4.2L660 -4.8L661 -4.9L662 -4.8L663 -3.7L664 -2.4L665 -2.3L666 -1.7L667 -0.7L668 0ZM679 0L680 -0.5L681 -1.6L682 -2.6L683 -2.9L684 -3.9L685 -4.3L686 -4.3L687 -3.9L688 -2.4L689 -2.3L690 -1.8L691 -0.9L692 0ZM704 0L705 -0.9L706 -1.7L707 -2.0L708 -2.0L709 -1.8L710 -1.3L711 -1.8L712 -2.3L713 -3.1L714 -3.8L715 -3.9L716 -3.8L717 -3.0L718 -2.0L719 -1.8L720 -1.1L721 -0.3L722 0ZM724 0L725 -0.3L726 -1.1L727 -2.0L728 -2.3L729 -2.4L730 -2.2L731 -1.6L732 -2.6L733 -2.9L734 -2.9L735 -2.7L736 -1.8L737 -2.6L738 -2.9L739 -2.9L740 -2.7L741 -1.8L742 -2.3L743 -2.4L744 -2.3L745 -1.9L746 -0.9L747 -1.0L748 -2.8L749 -4.0L750 -4.3L751 -4.3L752 -3.7L753 -4.6L754 -4.9L755 -4.9L756 -4.2L757 -3.4L758 -3.5L759 -3.5L760 -2.9L761 -3.0L762 -3.6L763 -5.7L764 -6.3L765 -6.3L766 -5.7L767 -3.5L768 -2.3L769 -1.1L770 0ZM774 0L775 -0.4L776 -1.2L777 -1.8L778 -2.0L779 -2.0L780 -1.7L781 -1.0L782 -1.1L783 -2.0L784 -2.3L785 -2.4L786 -2.2L787 -1.5L788 -0.6L789 0ZM791 0L792 -0.7L793 -1.6L794 -1.9L795 -2.0L796 -1.9L797 -1.5L798 -0.6L799 -0.5L800 -1.4L801 -2.2L802 -2.4L803 -2.3L804 -2.1L805 -1.5L806 -2.2L807 -2.4L808 -2.3L809 -2.0L810 -1.1L811 -0.3L812 0ZM819 0L820 -0.7L821 -1.5L822 -1.9L823 -2.0L824 -3.1L825 -3.5L826 -3.5L827 -3.3L828 -2.1L829 -0.7L830 0ZM834 0L835 -0.5L836 -2.0L837 -3.7L838 -4.3L839 -4.3L840 -5.5L841 -5.9L842 -5.8L843 -6.5L844 -7.4L845 -7.5L846 -7.3L847 -8.2L848 -8.2L849 -7.6L850 -5.9L851 -5.7L852 -4.4L853 -3.5L854 -3.2L855 -2.0L856 -2.2L857 -2.4L858 -2.3L859 -2.1L860 -1.2L861 -0.3L862 0ZM864 0L865 -1.1L866 -3.0L867 -4.1L868 -4.3L869 -4.3L870 -4.1L871 -4.3L872 -4.3L873 -3.5L874 -1.8L875 -2.3L876 -2.4L877 -2.3L878 -1.9L879 -2.3L880 -2.4L881 -2.3L882 -1.8L883 -1.2L884 -2.4L885 -2.9L886 -2.9L887 -3.2L888 -3.9L889 -3.9L890 -3.8L891 -2.8L892 -2.0L893 -1.9L894 -1.3L895 -0.5L896 0ZM896 0L897 -0.3L898 -1.0L899 -1.7L900 -2.0L901 -2.0L902 -1.8L903 -1.3L904 -2.1L905 -2.4L906 -2.4L907 -2.2L908 -1.4L909 -0.4L910 0ZM912 0L913 -0.5L914 -1.5L915 -2.2L916 -2.4L917 -2.3L918 -2.0L919 -1.2L920 -0.3L921 0ZM922 0L923 -0.8L924 -2.1L925 -2.8L926 -2.9L927 -6.4L928 -8.5L929 -8.8L930 -9.4L931 -10.7L932 -10.8L933 -10.1L934 -8.8L935 -8.6L936 -6.8L937 -3.2L938 -0.6L939 -1.2L940 -3.2L941 -4.6L942 -4.9L943 -6.0L944 -6.3L945 -6.2L946 -5.3L947 -4.9L948 -4.9L949 -4.7L950 -3.7L951 -4.3L952 -4.3L953 -4.1L954 -2.8L955 -1.0L955 0Z" fill="#60b1fa" stroke="#4d9de6" stroke-width="0.7" stroke-linejoin="round"/>
<line x1="109.60" y1="1503.60" x2="1064.30" y2="1503.60" stroke="#274a6b" stroke-width="1.4" />
<line x1="109.60" y1="1467.90" x2="109.60" y2="1504.20" stroke="#000" stroke-width="1.5" />
<line x1="109.60" y1="1479.90" x2="116.60" y2="1479.90" stroke="#000" stroke-width="1.5" />
<text x="98.40" y="1486.60" font-size="18.8" text-anchor="end" fill="#000" >1</text>
<text x="1080.70" y="1493.30" font-size="21" text-anchor="start" fill="#000" >S3</text>
<path transform="translate(109.6,1546.0)" d="M1 0L2 -0.9L3 -1.8L4 -2.2L5 -2.3L6 -2.2L7 -1.7L8 -3.0L9 -3.4L10 -3.4L11 -3.2L12 -2.2L13 -3.5L14 -3.8L15 -3.8L16 -3.4L17 -4.2L18 -5.8L19 -6.1L20 -6.0L21 -5.1L22 -3.3L23 -3.4L24 -3.3L25 -2.6L26 -1.2L27 -2.3L28 -4.1L29 -4.7L30 -5.7L31 -9.4L32 -10.4L33 -11.9L34 -15.2L35 -15.6L36 -15.3L37 -12.1L38 -12.4L39 -12.3L40 -10.5L41 -5.7L42 -5.6L43 -4.6L44 -2.3L45 -3.9L46 -4.7L47 -4.8L48 -4.6L49 -6.7L50 -7.6L51 -7.6L52 -7.1L53 -5.2L54 -5.7L55 -5.7L56 -5.1L57 -3.1L58 -4.0L59 -5.5L60 -5.7L61 -5.6L62 -4.7L63 -4.1L64 -4.2L65 -4.1L66 -3.2L67 -2.4L68 -2.8L69 -2.9L70 -2.7L71 -1.9L72 -1.7L73 -2.6L74 -2.9L75 -2.8L76 -2.6L77 -3.9L78 -5.4L79 -5.7L80 -5.6L81 -8.0L82 -10.2L83 -10.5L84 -11.5L85 -14.1L86 -14.3L87 -13.8L88 -10.3L89 -7.6L90 -6.6L91 -3.8L92 -1.0L93 -1.6L94 -4.8L95 -7.1L96 -7.6L97 -7.6L98 -6.6L99 -6.6L100 -6.7L101 -6.3L102 -4.6L103 -3.4L104 -3.3L105 -6.3L106 -7.5L107 -7.6L108 -9.8L109 -11.3L110 -11.4L111 -10.7L112 -7.4L113 -6.7L114 -6.6L115 -5.4L116 -2.6L117 -5.5L118 -7.6L119 -8.0L120 -7.9L121 -6.7L122 -7.0L123 -7.2L124 -7.1L125 -5.6L126 -5.3L127 -5.3L128 -5.1L129 -3.7L130 -2.8L131 -2.9L132 -2.7L133 -1.8L134 -0.6L135 0ZM138 0L139 -0.6L140 -1.4L141 -1.8L142 -1.9L143 -1.9L144 -1.5L145 -2.3L146 -2.8L147 -2.9L148 -2.7L149 -2.0L150 -0.8L151 0ZM153 0L154 -0.7L155 -1.9L156 -2.7L157 -2.9L158 -2.8L159 -2.5L160 -1.4L161 -0.3L162 0ZM171 0L172 -1.1L173 -3.2L174 -4.9L175 -5.3L176 -5.3L177 -7.2L178 -7.6L179 -7.5L180 -6.4L181 -4.3L182 -5.6L183 -5.7L184 -5.6L185 -4.4L186 -3.8L187 -3.8L188 -3.6L189 -2.7L190 -1.1L191 0ZM193 0L194 -0.9L195 -2.5L196 -3.6L197 -3.8L198 -3.8L199 -4.6L200 -4.8L201 -4.7L202 -3.9L203 -2.0L204 -0.4L205 0ZM207 0L208 -1.1L209 -4.0L210 -6.7L211 -7.6L212 -7.6L213 -7.9L214 -12.0L215 -12.9L216 -12.9L217 -11.4L218 -8.2L219 -8.6L220 -8.5L221 -7.1L222 -11.5L223 -14.5L224 -14.9L225 -14.4L226 -11.2L227 -11.3L228 -11.4L229 -10.9L230 -7.8L231 -7.7L232 -8.5L233 -8.6L234 -7.8L235 -7.5L236 -9.3L237 -9.5L238 -9.2L239 -7.0L240 -3.8L241 -3.8L242 -3.7L243 -4.7L244 -4.8L245 -4.6L246 -3.6L247 -3.2L248 -3.8L249 -3.8L250 -3.6L251 -2.5L252 -0.9L253 0ZM256 0L257 -1.3L258 -3.4L259 -4.6L260 -4.8L261 -4.7L262 -3.9L263 -5.3L264 -6.5L265 -6.7L266 -6.5L267 -9.4L268 -11.0L269 -11.0L270 -10.4L271 -7.3L272 -4.8L273 -4.4L274 -2.9L275 -1.9L276 -2.7L277 -2.9L278 -2.8L279 -2.5L280 -1.4L281 -0.3L282 0ZM284 0L285 -0.3L286 -1.3L287 -2.4L288 -2.8L289 -2.9L290 -2.7L291 -1.9L292 -0.7L293 0ZM304 0L305 -1.0L306 -1.9L307 -2.3L308 -2.3L309 -2.2L310 -1.6L311 -2.2L312 -3.4L313 -3.8L314 -3.8L315 -3.4L316 -3.5L317 -3.5L318 -4.7L319 -4.9L320 -4.9L321 -4.1L322 -2.2L323 -0.5L324 0ZM324 0L325 -0.4L326 -2.5L327 -5.8L328 -7.6L329 -7.9L330 -9.6L331 -9.8L332 -9.6L333 -7.6L334 -4.9L335 -4.5L336 -3.0L337 -4.4L338 -5.4L339 -5.5L340 -5.3L341 -4.1L342 -4.8L343 -4.9L344 -4.7L345 -6.6L346 -7.8L347 -7.9L348 -7.4L349 -6.9L350 -6.8L351 -5.9L352 -3.3L353 -1.9L354 -3.1L355 -3.5L356 -3.5L357 -3.3L358 -2.1L359 -0.7L360 -2.1L361 -3.2L362 -3.5L363 -3.5L364 -3.2L365 -1.9L366 -1.1L367 -3.1L368 -4.6L369 -4.9L370 -6.2L371 -8.9L372 -9.4L373 -9.4L374 -10.8L375 -11.4L376 -11.3L377 -9.6L378 -7.9L379 -7.8L380 -6.5L381 -4.2L382 -4.3L383 -4.2L384 -3.5L385 -2.4L386 -2.3L387 -1.9L388 -0.9L389 0ZM423 0L424 -0.5L425 -1.5L426 -2.2L427 -2.4L428 -2.3L429 -2.0L430 -1.1L431 -0.3L432 0ZM436 0L437 -0.8L438 -1.8L439 -2.3L440 -2.4L441 -2.3L442 -1.9L443 -0.9L444 0ZM444 0L445 -0.9L446 -1.9L447 -2.3L448 -2.4L449 -2.3L450 -1.7L451 -0.7L452 0ZM464 0L465 -0.7L466 -2.7L467 -4.4L468 -4.9L469 -4.9L470 -4.5L471 -7.1L472 -7.8L473 -7.8L474 -9.9L475 -10.8L476 -10.8L477 -10.6L478 -11.4L479 -11.3L480 -10.0L481 -5.8L482 -4.9L483 -4.2L484 -2.4L485 -1.1L486 -2.7L487 -3.7L488 -3.9L489 -3.9L490 -3.3L491 -3.6L492 -4.7L493 -4.9L494 -4.8L495 -3.9L496 -1.9L497 -3.0L498 -3.8L499 -3.9L500 -3.8L501 -3.0L502 -1.9L503 -3.9L504 -4.8L505 -4.9L506 -4.7L507 -3.6L508 -1.5L509 -2.9L510 -3.5L511 -3.5L512 -3.4L513 -2.4L514 -1.4L515 -2.5L516 -2.9L517 -2.9L518 -2.8L519 -1.9L520 -0.7L521 -1.9L522 -3.2L523 -3.5L524 -3.5L525 -3.2L526 -2.1L527 -0.7L528 0ZM536 0L537 -1.1L538 -2.9L539 -4.1L540 -4.3L541 -4.3L542 -4.7L543 -4.9L544 -4.9L545 -4.1L546 -2.6L547 -3.4L548 -3.5L549 -3.5L550 -2.9L551 -1.4L552 -0.3L553 -1.5L554 -3.3L555 -4.2L556 -4.3L557 -4.2L558 -3.3L559 -1.5L560 -0.3L561 -1.5L562 -2.9L563 -3.5L564 -3.5L565 -3.4L566 -2.5L567 -1.0L568 -1.1L569 -2.0L570 -2.3L571 -2.4L572 -2.2L573 -1.5L574 -0.6L575 0ZM578 0L579 -1.1L580 -3.9L581 -6.2L582 -6.9L583 -6.9L584 -8.1L585 -8.3L586 -7.9L587 -5.9L588 -4.8L589 -3.8L590 -1.7L591 -0.3L592 0ZM619 0L620 -0.4L621 -1.9L622 -3.6L623 -4.3L624 -4.3L625 -4.1L626 -4.7L627 -5.5L628 -5.5L629 -5.2L630 -3.6L631 -4.9L632 -5.5L633 -5.5L634 -5.1L635 -3.4L636 -2.7L637 -2.9L638 -2.9L639 -2.7L640 -2.1L641 -1.2L642 -0.3L643 0ZM651 0L652 -1.0L653 -2.2L654 -2.9L655 -2.9L656 -2.9L657 -2.3L658 -2.8L659 -3.5L660 -3.5L661 -3.4L662 -2.7L663 -1.9L664 -2.3L665 -2.4L666 -2.3L667 -1.7L668 -0.7L669 -1.3L670 -2.5L671 -2.9L672 -2.9L673 -2.8L674 -2.0L675 -0.7L676 0ZM700 0L701 -0.7L702 -1.7L703 -2.3L704 -2.4L705 -2.3L706 -1.9L707 -2.2L708 -2.9L709 -2.9L710 -2.9L711 -2.3L712 -2.9L713 -2.9L714 -2.9L715 -2.3L716 -1.0L717 0ZM736 0L737 -0.9L738 -1.9L739 -2.3L740 -2.4L741 -2.3L742 -1.7L743 -0.7L744 0ZM774 0L775 -0.8L776 -2.6L777 -4.0L778 -4.3L779 -4.6L780 -5.4L781 -5.5L782 -5.2L783 -3.8L784 -3.5L785 -2.9L786 -1.4L787 -0.3L788 -1.2L789 -2.1L790 -2.3L791 -2.4L792 -2.2L793 -1.4L794 -0.5L795 0ZM813 0L814 -0.7L815 -1.7L816 -2.3L817 -2.4L818 -2.3L819 -2.6L820 -3.4L821 -3.5L822 -3.5L823 -3.0L824 -3.8L825 -3.9L826 -3.8L827 -3.0L828 -2.4L829 -2.9L830 -2.9L831 -2.8L832 -2.1L833 -0.9L834 -0.4L835 -1.6L836 -3.0L837 -3.5L838 -3.5L839 -3.4L840 -5.1L841 -5.9L842 -5.9L843 -7.2L844 -8.2L845 -10.1L846 -11.3L847 -11.4L848 -10.5L849 -6.9L850 -6.8L851 -5.6L852 -2.8L853 -0.6L854 0ZM856 0L857 -0.6L858 -1.9L859 -2.7L860 -2.9L861 -2.9L862 -3.6L863 -5.2L864 -5.5L865 -5.5L866 -4.7L867 -2.9L868 -2.9L869 -2.5L870 -1.3L871 -0.3L872 0ZM875 0L876 -0.5L877 -1.4L878 -2.2L879 -2.4L880 -2.3L881 -2.1L882 -1.2L883 -0.3L884 0ZM890 0L891 -1.1L892 -3.1L893 -4.6L894 -4.9L895 -4.9L896 -4.3L897 -2.4L898 -0.6L899 0ZM902 0L903 -0.6L904 -2.0L905 -3.2L906 -3.5L907 -4.4L908 -5.4L909 -5.5L910 -5.3L911 -4.0L912 -2.9L913 -2.6L914 -1.6L915 -0.4L916 0ZM921 0L922 -0.8L923 -3.5L924 -6.6L925 -7.8L926 -9.6L927 -12.9L928 -13.4L929 -13.2L930 -10.8L931 -10.8L932 -10.6L933 -8.6L934 -4.9L935 -4.6L936 -3.1L937 -4.3L938 -5.4L939 -5.5L940 -6.2L941 -6.9L942 -6.9L943 -6.2L944 -3.9L945 -3.5L946 -3.0L947 -1.6L948 -0.4L949 0ZM949 0L950 -0.4L951 -1.4L952 -2.5L953 -2.9L954 -2.9L955 -2.8L955 0Z" fill="#60b1fa" stroke="#4d9de6" stroke-width="0.7" stroke-linejoin="round"/>
<line x1="109.60" y1="1546.00" x2="1064.30" y2="1546.00" stroke="#274a6b" stroke-width="1.4" />
<line x1="109.60" y1="1510.30" x2="109.60" y2="1546.60" stroke="#000" stroke-width="1.5" />
<line x1="109.60" y1="1522.30" x2="116.60" y2="1522.30" stroke="#000" stroke-width="1.5" />
<text x="98.40" y="1529.00" font-size="18.8" text-anchor="end" fill="#000" >1</text>
<text x="1080.70" y="1535.70" font-size="21" text-anchor="start" fill="#000" >S4</text>
<path transform="translate(109.6,1594.3)" d="M0 0L0 -11.0L1 -11.4L2 -11.2L3 -14.0L4 -14.3L5 -13.9L6 -13.5L7 -13.7L8 -13.1L9 -14.2L10 -14.3L11 -13.4L12 -13.3L13 -13.3L14 -12.2L15 -7.8L16 -2.4L17 0ZM18 0L19 -0.4L20 -2.3L21 -5.1L22 -6.5L23 -6.7L24 -6.5L25 -5.5L26 -6.6L27 -6.7L28 -6.4L29 -5.5L30 -9.3L31 -10.4L32 -10.5L33 -9.7L34 -6.3L35 -5.7L36 -5.7L37 -9.4L38 -11.3L39 -11.4L40 -10.9L41 -8.0L42 -6.7L43 -6.5L44 -9.0L45 -13.9L46 -15.2L47 -15.2L48 -13.6L49 -12.3L50 -12.4L51 -17.9L52 -19.9L53 -20.0L54 -18.3L55 -11.7L56 -11.4L57 -11.1L58 -8.6L59 -10.0L60 -10.5L61 -10.3L62 -8.6L63 -15.1L64 -18.7L65 -19.0L66 -18.4L67 -14.1L68 -12.3L69 -12.4L70 -12.3L71 -20.1L72 -22.4L73 -22.4L74 -26.4L75 -28.5L76 -28.4L77 -25.2L78 -19.0L79 -18.9L80 -16.1L81 -17.0L82 -17.5L83 -17.2L84 -13.8L85 -16.9L86 -17.1L87 -16.5L88 -12.4L89 -8.6L90 -8.1L91 -11.9L92 -19.0L93 -20.9L94 -21.6L95 -32.0L96 -34.3L97 -34.1L98 -29.9L99 -24.8L100 -24.5L101 -20.6L102 -10.8L103 -9.3L104 -11.5L105 -14.1L106 -14.3L107 -14.6L108 -17.0L109 -17.1L110 -16.2L111 -11.4L112 -11.4L113 -11.4L114 -10.4L115 -13.3L116 -14.3L117 -14.2L118 -14.2L119 -14.9L120 -14.7L121 -12.4L122 -7.6L123 -6.9L124 -4.3L125 -1.3L126 0ZM126 0L127 -1.2L128 -4.8L129 -8.3L130 -9.5L131 -12.1L132 -14.9L133 -15.2L134 -14.8L135 -11.3L136 -9.5L137 -8.4L138 -5.0L139 -8.3L140 -11.0L141 -11.4L142 -16.0L143 -18.0L144 -18.1L145 -16.7L146 -10.9L147 -10.1L148 -7.6L149 -8.9L150 -9.1L151 -9.0L152 -7.2L153 -4.8L154 -4.8L155 -6.3L156 -7.8L157 -8.0L158 -7.7L159 -5.9L160 -3.8L161 -3.8L162 -3.1L163 -1.6L164 -1.2L165 -2.3L166 -2.8L167 -2.9L168 -2.7L169 -2.0L170 -3.0L171 -3.4L172 -3.4L173 -5.5L174 -6.6L175 -6.7L176 -6.4L177 -4.7L178 -1.9L179 -0.9L180 -2.1L181 -2.8L182 -2.9L183 -2.8L184 -2.3L185 -1.1L186 0ZM189 0L190 -1.0L191 -3.2L192 -5.2L193 -5.7L194 -5.7L195 -5.2L196 -5.3L197 -6.1L198 -6.1L199 -5.7L200 -4.2L201 -5.5L202 -5.7L203 -5.6L204 -4.5L205 -2.1L206 -0.4L207 0ZM210 0L211 -1.4L212 -4.5L213 -7.0L214 -7.6L215 -7.6L216 -10.0L217 -12.2L218 -12.4L219 -14.2L220 -16.6L221 -16.8L222 -15.8L223 -11.1L224 -7.4L225 -5.9L226 -2.7L227 -0.5L228 0ZM228 0L229 -1.8L230 -6.5L231 -10.6L232 -11.8L233 -11.8L234 -10.8L235 -8.5L236 -8.6L237 -8.2L238 -6.4L239 -6.7L240 -6.6L241 -5.6L242 -5.3L243 -5.2L244 -4.2L245 -2.0L246 -0.4L247 0ZM258 0L259 -0.9L260 -2.1L261 -2.8L262 -2.9L263 -2.8L264 -2.3L265 -1.1L266 0ZM297 0L298 -0.5L299 -1.6L300 -2.6L301 -2.9L302 -2.9L303 -2.6L304 -1.6L305 -0.5L306 0ZM345 0L346 -0.6L347 -2.4L348 -4.2L349 -4.9L350 -4.9L351 -4.6L352 -3.2L353 -2.6L354 -2.9L355 -2.9L356 -2.7L357 -1.8L358 -2.7L359 -2.9L360 -2.9L361 -2.7L362 -1.7L363 -0.5L364 0ZM365 0L366 -1.7L367 -5.0L368 -7.3L369 -7.9L370 -10.1L371 -11.7L372 -11.8L373 -11.1L374 -8.7L375 -8.8L376 -8.5L377 -6.3L378 -3.9L379 -3.3L380 -1.7L381 -2.5L382 -2.9L383 -2.9L384 -2.8L385 -1.9L386 -0.7L387 0ZM435 0L436 -0.4L437 -1.4L438 -2.5L439 -2.9L440 -2.9L441 -2.8L442 -1.9L443 -0.7L444 0ZM455 0L456 -0.5L457 -3.3L458 -7.9L459 -10.4L460 -10.8L461 -16.2L462 -18.5L463 -18.7L464 -17.4L465 -11.8L466 -9.7L467 -8.2L468 -4.3L469 -5.0L470 -5.5L471 -5.5L472 -5.0L473 -3.2L474 -1.7L475 -3.8L476 -4.8L477 -4.9L478 -4.8L479 -3.8L480 -2.2L481 -2.4L482 -2.3L483 -2.0L484 -1.1L485 -0.3L486 -1.2L487 -3.0L488 -4.1L489 -4.3L490 -4.3L491 -3.6L492 -2.9L493 -3.8L494 -3.9L495 -3.9L496 -4.5L497 -5.7L498 -5.9L499 -5.8L500 -4.6L501 -3.8L502 -3.9L503 -3.8L504 -2.9L505 -2.4L506 -2.9L507 -2.9L508 -2.8L509 -2.1L510 -0.9L511 0ZM535 0L536 -0.6L537 -1.6L538 -2.2L539 -2.4L540 -2.3L541 -2.0L542 -2.8L543 -2.9L544 -2.9L545 -2.5L546 -2.4L547 -2.3L548 -1.9L549 -1.0L550 0ZM674 0L675 -0.9L676 -2.4L677 -3.4L678 -3.5L679 -3.5L680 -3.0L681 -1.6L682 -0.4L683 0ZM691 0L692 -1.1L693 -2.3L694 -2.9L695 -2.9L696 -2.9L697 -2.2L698 -0.9L699 0ZM717 0L718 -0.7L719 -2.0L720 -2.8L721 -2.9L722 -2.9L723 -2.5L724 -1.3L725 -0.3L726 0ZM727 0L728 -0.5L729 -1.9L730 -3.4L731 -3.9L732 -4.8L733 -6.1L734 -6.3L735 -6.1L736 -4.9L737 -2.9L738 -2.7L739 -1.8L740 -0.6L741 0ZM741 0L742 -0.3L743 -1.3L744 -2.4L745 -2.9L746 -2.9L747 -2.8L748 -2.1L749 -0.8L750 -2.2L751 -4.4L752 -5.4L753 -5.5L754 -5.3L755 -4.0L756 -3.5L757 -3.3L758 -2.2L759 -0.7L760 -1.1L761 -2.6L762 -3.4L763 -3.5L764 -3.5L765 -2.8L766 -1.4L767 -0.3L768 0ZM777 0L778 -0.3L779 -1.3L780 -2.5L781 -2.9L782 -2.9L783 -2.8L784 -3.7L785 -4.3L786 -4.3L787 -4.1L788 -2.9L789 -2.9L790 -2.7L791 -1.8L792 -0.6L793 0ZM819 0L820 -0.4L821 -1.5L822 -2.6L823 -2.9L824 -2.9L825 -2.8L826 -3.5L827 -3.5L828 -5.3L829 -5.9L830 -5.9L831 -5.3L832 -3.4L833 -1.0L834 0ZM839 0L840 -0.5L841 -2.2L842 -3.8L843 -4.3L844 -4.3L845 -6.1L846 -6.8L847 -6.9L848 -6.3L849 -4.9L850 -4.9L851 -4.5L852 -2.9L853 -0.9L854 0ZM899 0L900 -1.4L901 -3.0L902 -3.8L903 -3.9L904 -4.9L905 -5.5L906 -5.5L907 -5.0L908 -3.2L909 -2.7L910 -2.9L911 -2.9L912 -2.6L913 -1.8L914 -2.7L915 -2.9L916 -2.9L917 -2.6L918 -1.5L919 -0.4L920 0ZM922 0L923 -1.0L924 -2.5L925 -3.4L926 -3.5L927 -3.5L928 -4.6L929 -6.1L930 -6.3L931 -6.2L932 -5.0L933 -3.9L934 -3.8L935 -3.1L936 -1.4L937 -2.3L938 -2.9L939 -2.9L940 -2.9L941 -2.2L942 -1.2L943 -2.4L944 -2.9L945 -2.9L946 -2.8L947 -2.1L948 -0.8L949 -1.9L950 -2.8L951 -2.9L952 -2.9L953 -2.5L954 -1.4L955 -0.3L955 0Z" fill="#4484c0" stroke="#345f8c" stroke-width="0.7" stroke-linejoin="round"/>
<line x1="109.60" y1="1594.30" x2="1064.30" y2="1594.30" stroke="#333f4c" stroke-width="1.4" />
<line x1="109.60" y1="1558.60" x2="109.60" y2="1594.90" stroke="#000" stroke-width="1.5" />
<line x1="109.60" y1="1570.60" x2="116.60" y2="1570.60" stroke="#000" stroke-width="1.5" />
<text x="98.40" y="1577.30" font-size="18.8" text-anchor="end" fill="#000" >1</text>
<text x="1080.70" y="1584.00" font-size="21" text-anchor="start" fill="#000" >S0</text>
<path transform="translate(109.6,1636.8)" d="M0 0L0 -4.0L1 -4.2L2 -4.1L3 -3.4L4 -1.7L5 -0.3L6 -1.2L7 -5.1L8 -9.0L9 -10.4L10 -10.5L11 -11.9L12 -13.3L13 -13.3L14 -12.2L15 -12.4L16 -11.9L17 -8.7L18 -3.4L19 -0.5L20 0ZM20 0L21 -0.7L22 -3.6L23 -7.5L24 -9.3L25 -9.5L26 -9.2L27 -7.0L28 -7.2L29 -7.2L30 -6.8L31 -6.5L32 -7.2L33 -7.2L34 -6.6L35 -6.2L36 -6.7L37 -6.6L38 -5.8L39 -3.3L40 -4.9L41 -6.5L42 -6.7L43 -6.5L44 -5.3L45 -2.5L46 -1.0L47 -4.1L48 -7.4L49 -8.5L50 -8.6L51 -14.0L52 -15.6L53 -15.6L54 -14.3L55 -9.1L56 -8.2L57 -6.0L58 -2.4L59 -2.2L60 -2.3L61 -2.3L62 -1.9L63 -1.0L64 -0.7L65 -2.9L66 -5.6L67 -6.6L68 -6.7L69 -6.3L70 -5.1L71 -5.7L72 -5.7L73 -5.3L74 -7.0L75 -7.6L76 -7.6L77 -9.9L78 -10.5L79 -10.4L80 -11.3L81 -14.8L82 -15.2L83 -17.9L84 -19.9L85 -20.0L86 -18.8L87 -19.0L88 -18.2L89 -13.4L90 -5.7L91 -5.4L92 -6.7L93 -10.5L94 -11.4L95 -11.7L96 -17.0L97 -18.1L98 -18.0L99 -15.5L100 -11.4L101 -10.9L102 -7.8L103 -3.0L104 -1.1L105 -5.0L106 -9.5L107 -11.3L108 -12.1L109 -17.1L110 -18.1L111 -17.9L112 -15.6L113 -16.2L114 -15.9L115 -13.0L116 -10.5L117 -10.4L118 -9.1L119 -5.2L120 -3.8L121 -3.2L122 -1.7L123 -2.7L124 -5.4L125 -6.6L126 -6.7L127 -6.4L128 -8.2L129 -9.5L130 -9.5L131 -8.9L132 -6.1L133 -6.1L134 -6.7L135 -6.6L136 -6.0L137 -3.6L138 -1.4L139 -3.5L140 -4.6L141 -4.8L142 -4.7L143 -3.8L144 -2.8L145 -3.4L146 -3.4L147 -3.3L148 -2.5L149 -2.2L150 -3.7L151 -4.2L152 -4.2L153 -3.9L154 -3.6L155 -5.3L156 -5.7L157 -5.7L158 -5.0L159 -2.9L160 -2.8L161 -2.9L162 -2.8L163 -2.3L164 -1.1L165 0ZM168 0L169 -0.3L170 -1.0L171 -1.7L172 -1.9L173 -1.9L174 -1.7L175 -1.1L176 -1.0L177 -2.6L178 -3.6L179 -3.8L180 -4.2L181 -5.5L182 -5.7L183 -5.6L184 -4.5L185 -2.1L186 -2.4L187 -2.8L188 -2.9L189 -2.7L190 -2.0L191 -1.9L192 -3.1L193 -3.4L194 -4.2L195 -6.2L196 -6.7L197 -6.6L198 -5.8L199 -3.3L200 -2.9L201 -2.8L202 -2.3L203 -1.2L204 0ZM208 0L209 -1.0L210 -3.6L211 -6.0L212 -6.6L213 -6.7L214 -8.4L215 -9.1L216 -9.1L217 -8.1L218 -8.5L219 -8.6L220 -8.0L221 -5.4L222 -1.8L223 -0.8L224 -3.6L225 -7.0L226 -8.5L227 -8.6L228 -10.4L229 -11.0L230 -11.0L231 -9.5L232 -5.3L233 -4.8L234 -4.8L235 -4.3L236 -5.7L237 -6.6L238 -6.7L239 -6.3L240 -4.3L241 -3.8L242 -3.1L243 -1.6L244 -0.3L245 0ZM245 0L246 -0.9L247 -1.6L248 -1.9L249 -1.9L250 -1.8L251 -1.3L252 -0.5L253 0ZM253 0L254 -0.7L255 -1.9L256 -2.7L257 -2.9L258 -2.8L259 -2.5L260 -4.9L261 -6.5L262 -6.7L263 -8.5L264 -9.5L265 -9.5L266 -8.7L267 -7.5L268 -7.6L269 -7.3L270 -5.2L271 -3.8L272 -3.5L273 -2.4L274 -0.8L275 0ZM275 0L276 -0.5L277 -1.3L278 -1.8L279 -1.9L280 -1.9L281 -1.6L282 -0.8L283 0ZM294 0L295 -0.4L296 -2.0L297 -3.9L298 -4.7L299 -6.2L300 -8.3L301 -8.6L302 -8.4L303 -6.9L304 -3.8L305 -3.7L306 -2.9L307 -1.3L308 -0.3L309 -1.2L310 -2.0L311 -2.3L312 -2.3L313 -2.1L314 -2.0L315 -1.7L316 -1.0L317 0ZM320 0L321 -0.8L322 -2.1L323 -2.8L324 -2.9L325 -2.9L326 -4.2L327 -4.9L328 -4.9L329 -4.6L330 -3.2L331 -1.1L332 -0.3L333 -1.6L334 -3.4L335 -4.2L336 -4.3L337 -4.2L338 -3.2L339 -1.4L340 0ZM340 0L341 -1.0L342 -2.0L343 -2.3L344 -2.4L345 -2.2L346 -1.6L347 -0.6L348 0ZM356 0L357 -0.4L358 -1.3L359 -2.1L360 -2.4L361 -2.4L362 -2.1L363 -1.3L364 -0.4L365 0ZM365 0L366 -0.9L367 -2.5L368 -3.7L369 -3.9L370 -5.2L371 -7.4L372 -7.9L373 -7.8L374 -11.2L375 -12.7L376 -12.8L377 -11.9L378 -7.9L379 -7.8L380 -6.5L381 -3.5L382 -3.5L383 -3.2L384 -2.0L385 -0.6L386 0ZM386 0L387 -0.3L388 -1.1L389 -1.8L390 -2.0L391 -2.0L392 -1.8L393 -1.2L394 -0.4L395 0ZM413 0L414 -0.9L415 -2.8L416 -4.5L417 -4.9L418 -4.9L419 -4.4L420 -2.7L421 -0.8L422 0ZM439 0L440 -0.4L441 -2.1L442 -4.5L443 -5.7L444 -6.4L445 -9.5L446 -10.2L447 -10.2L448 -8.9L449 -5.9L450 -5.3L451 -3.4L452 -1.0L453 0ZM454 0L455 -0.6L456 -2.7L457 -5.0L458 -5.8L459 -6.8L460 -7.8L461 -7.9L462 -7.4L463 -5.1L464 -3.5L465 -3.3L466 -2.2L467 -1.4L468 -1.9L469 -2.0L470 -1.9L471 -1.6L472 -0.8L473 0ZM477 0L478 -0.7L479 -1.6L480 -1.9L481 -2.0L482 -1.9L483 -1.5L484 -0.6L485 0ZM485 0L486 -0.8L487 -2.1L488 -2.8L489 -2.9L490 -2.9L491 -2.4L492 -2.6L493 -3.4L494 -3.5L495 -3.5L496 -3.0L497 -3.8L498 -4.0L499 -6.6L500 -7.4L501 -7.5L502 -6.9L503 -4.5L504 -2.9L505 -2.2L506 -0.9L507 0ZM512 0L513 -0.9L514 -1.7L515 -1.9L516 -2.0L517 -1.8L518 -1.3L519 -1.2L520 -2.1L521 -2.3L522 -2.4L523 -2.2L524 -1.4L525 -1.1L526 -1.8L527 -2.0L528 -2.0L529 -1.8L530 -1.1L531 -0.3L532 0ZM539 0L540 -1.1L541 -3.0L542 -4.1L543 -4.3L544 -4.3L545 -3.6L546 -1.9L547 -0.4L548 0ZM550 0L551 -1.2L552 -2.7L553 -3.4L554 -3.5L555 -3.5L556 -2.7L557 -2.4L558 -2.3L559 -1.8L560 -0.8L561 0ZM563 0L564 -1.0L565 -2.0L566 -2.3L567 -2.4L568 -2.2L569 -1.6L570 -0.6L571 0ZM578 0L579 -0.8L580 -2.8L581 -4.4L582 -4.9L583 -6.8L584 -7.5L585 -7.4L586 -6.7L587 -4.1L588 -3.5L589 -2.7L590 -1.3L591 0ZM608 0L609 -0.7L610 -1.5L611 -1.9L612 -2.0L613 -1.9L614 -1.5L615 -0.7L616 0ZM620 0L621 -0.9L622 -1.7L623 -1.9L624 -2.0L625 -1.9L626 -1.3L627 -1.7L628 -2.0L629 -2.0L630 -1.8L631 -1.3L632 -0.4L633 0ZM639 0L640 -0.3L641 -1.2L642 -2.1L643 -2.3L644 -2.4L645 -2.2L646 -1.5L647 -0.5L648 0ZM665 0L666 -0.5L667 -2.2L668 -4.1L669 -4.9L670 -4.9L671 -4.7L672 -3.4L673 -1.3L674 0ZM675 0L676 -0.8L677 -3.1L678 -5.2L679 -5.9L680 -5.9L681 -7.5L682 -7.9L683 -7.7L684 -6.4L685 -5.5L686 -5.0L687 -3.2L688 -0.9L689 0ZM690 0L691 -1.1L692 -2.3L693 -2.9L694 -2.9L695 -2.9L696 -2.2L697 -1.0L698 0ZM699 0L700 -1.5L701 -3.8L702 -5.3L703 -5.5L704 -6.3L705 -7.4L706 -7.5L707 -7.1L708 -5.5L709 -5.5L710 -5.0L711 -3.1L712 -0.9L713 0ZM722 0L723 -0.7L724 -1.7L725 -2.3L726 -2.4L727 -2.3L728 -1.9L729 -1.0L730 0ZM748 0L749 -0.5L750 -1.5L751 -2.2L752 -2.4L753 -2.3L754 -2.0L755 -1.1L756 -2.5L757 -3.4L758 -3.5L759 -3.5L760 -2.9L761 -3.7L762 -4.3L763 -4.3L764 -4.1L765 -2.8L766 -2.7L767 -2.9L768 -2.9L769 -2.6L770 -1.6L771 -0.4L772 0ZM791 0L792 -0.5L793 -1.6L794 -2.7L795 -2.9L796 -2.9L797 -3.2L798 -3.5L799 -3.5L800 -3.2L801 -1.9L802 -0.6L803 -0.8L804 -2.3L805 -3.3L806 -3.5L807 -3.5L808 -4.6L809 -4.9L810 -4.9L811 -4.2L812 -2.3L813 -2.8L814 -2.9L815 -2.9L816 -2.4L817 -2.2L818 -2.8L819 -2.9L820 -2.9L821 -2.3L822 -1.1L823 0ZM827 0L828 -0.4L829 -1.4L830 -2.1L831 -2.4L832 -2.4L833 -2.1L834 -1.3L835 -0.4L836 0ZM877 0L878 -0.3L879 -1.8L880 -3.8L881 -4.8L882 -4.9L883 -4.8L884 -3.7L885 -3.5L886 -3.4L887 -2.6L888 -1.1L889 0ZM889 0L890 -0.5L891 -2.2L892 -4.1L893 -4.9L894 -4.9L895 -5.5L896 -5.9L897 -5.9L898 -5.1L899 -2.8L900 -0.7L901 0ZM902 0L903 -0.8L904 -2.7L905 -4.4L906 -4.9L907 -4.9L908 -4.5L909 -2.8L910 -0.9L911 -2.4L912 -3.6L913 -3.9L914 -3.9L915 -4.8L916 -4.9L917 -4.8L918 -3.7L919 -1.6L920 -0.3L921 -0.6L922 -1.6L923 -2.2L924 -2.4L925 -2.3L926 -2.0L927 -1.0L928 -0.3L929 -1.6L930 -3.7L931 -4.8L932 -4.9L933 -6.9L934 -7.5L935 -7.4L936 -6.6L937 -4.0L938 -4.8L939 -4.9L940 -4.8L941 -3.7L942 -1.6L943 -0.3L944 0Z" fill="#4484c0" stroke="#345f8c" stroke-width="0.7" stroke-linejoin="round"/>
<line x1="109.60" y1="1636.80" x2="1064.30" y2="1636.80" stroke="#333f4c" stroke-width="1.4" />
<line x1="109.60" y1="1601.10" x2="109.60" y2="1637.40" stroke="#000" stroke-width="1.5" />
<line x1="109.60" y1="1613.10" x2="116.60" y2="1613.10" stroke="#000" stroke-width="1.5" />
<text x="98.40" y="1619.80" font-size="18.8" text-anchor="end" fill="#000" >1</text>
<text x="1080.70" y="1626.50" font-size="21" text-anchor="start" fill="#000" >S1</text>
<path transform="translate(109.6,1679.3)" d="M0 0L0 -4.2L1 -5.5L2 -5.7L3 -5.6L4 -4.5L5 -3.5L6 -6.7L7 -7.9L8 -8.0L9 -7.6L10 -7.1L11 -8.0L12 -8.0L13 -7.4L14 -4.8L15 -1.6L16 0ZM18 0L19 -0.9L20 -2.1L21 -2.8L22 -2.9L23 -2.8L24 -2.3L25 -1.1L26 -1.6L27 -2.9L28 -3.4L29 -3.4L30 -3.2L31 -4.3L32 -4.7L33 -6.1L34 -7.8L35 -8.0L36 -7.8L37 -6.2L38 -2.8L39 -4.8L40 -6.4L41 -6.7L42 -6.6L43 -5.4L44 -4.8L45 -9.4L46 -11.3L47 -11.4L48 -16.4L49 -18.9L50 -19.0L51 -17.9L52 -12.3L53 -11.4L54 -10.4L55 -6.8L56 -9.8L57 -10.5L58 -10.4L59 -9.0L60 -9.2L61 -9.5L62 -9.4L63 -7.7L64 -4.4L65 -8.6L66 -10.3L67 -10.5L68 -13.9L69 -16.1L70 -18.9L71 -21.2L72 -21.3L73 -19.7L74 -16.2L75 -15.9L76 -12.8L77 -6.1L78 -1.1L79 0ZM80 0L81 -0.4L82 -2.2L83 -4.5L84 -5.6L85 -5.7L86 -5.5L87 -6.5L88 -7.6L89 -12.0L90 -20.2L91 -22.8L92 -23.3L93 -30.5L94 -31.4L95 -30.8L96 -24.8L97 -20.9L98 -19.8L99 -13.9L100 -5.6L101 -5.8L102 -12.6L103 -15.8L104 -16.2L105 -22.0L106 -23.2L107 -23.0L108 -19.7L109 -17.1L110 -17.0L111 -14.7L112 -9.5L113 -9.5L114 -8.7L115 -7.1L116 -9.6L117 -13.5L118 -14.3L119 -14.2L120 -12.1L121 -8.6L122 -8.1L123 -5.7L124 -7.7L125 -9.4L126 -9.5L127 -10.7L128 -11.4L129 -11.4L130 -11.8L131 -13.3L132 -17.2L133 -19.0L134 -19.0L135 -17.2L136 -10.7L137 -10.2L138 -7.9L139 -3.5L140 -1.9L141 -4.3L142 -5.6L143 -5.7L144 -5.6L145 -4.4L146 -2.0L147 -0.4L148 0ZM151 0L152 -1.1L153 -3.5L154 -5.3L155 -5.7L156 -6.6L157 -9.4L158 -9.9L159 -9.8L160 -8.4L161 -5.7L162 -5.4L163 -3.8L164 -1.4L165 0ZM175 0L176 -1.4L177 -3.7L178 -5.1L179 -5.3L180 -5.3L181 -4.4L182 -2.3L183 -0.5L184 0ZM195 0L196 -1.6L197 -4.2L198 -5.8L199 -6.1L200 -6.0L201 -5.1L202 -2.7L203 -2.7L204 -3.4L205 -3.4L206 -3.3L207 -4.0L208 -4.7L209 -4.8L210 -10.4L211 -17.1L212 -19.0L213 -29.7L214 -35.7L215 -35.7L216 -34.7L217 -35.7L218 -35.7L219 -35.7L220 -35.7L221 -35.1L222 -35.7L223 -35.5L224 -28.5L225 -22.2L226 -18.8L227 -19.0L228 -18.2L229 -17.0L230 -17.1L231 -16.1L232 -11.1L233 -10.5L234 -9.6L235 -10.7L236 -11.4L237 -11.4L238 -10.0L239 -7.6L240 -7.5L241 -6.3L242 -3.3L243 -0.7L244 -0.7L245 -2.9L246 -5.6L247 -6.6L248 -6.7L249 -6.3L250 -4.6L251 -1.7L252 0ZM257 0L258 -0.3L259 -2.1L260 -4.9L261 -6.5L262 -6.7L263 -9.0L264 -11.2L265 -11.4L266 -11.1L267 -9.7L268 -11.3L269 -11.4L270 -10.8L271 -7.6L272 -4.8L273 -4.4L274 -2.9L275 -0.9L276 0ZM280 0L281 -1.0L282 -2.2L283 -2.8L284 -2.9L285 -2.8L286 -2.2L287 -1.0L288 0ZM300 0L301 -0.6L302 -1.8L303 -2.7L304 -2.9L305 -2.8L306 -2.5L307 -1.4L308 -0.4L309 0ZM310 0L311 -0.4L312 -1.3L313 -2.1L314 -2.3L315 -2.8L316 -2.9L317 -2.9L318 -2.5L319 -2.8L320 -2.9L321 -2.9L322 -2.5L323 -3.9L324 -4.3L325 -4.3L326 -3.9L327 -2.5L328 -2.4L329 -2.2L330 -1.5L331 -1.3L332 -2.7L333 -3.5L334 -3.5L335 -3.4L336 -3.1L337 -3.9L338 -3.9L339 -3.8L340 -5.4L341 -5.9L342 -5.9L343 -5.3L344 -3.6L345 -3.9L346 -3.9L347 -3.4L348 -2.5L349 -2.9L350 -2.9L351 -2.8L352 -1.9L353 -0.7L354 0ZM359 0L360 -0.5L361 -1.7L362 -2.7L363 -2.9L364 -2.9L365 -2.6L366 -2.7L367 -4.0L368 -4.3L369 -4.3L370 -3.9L371 -5.6L372 -5.9L373 -5.8L374 -5.0L375 -4.7L376 -4.9L377 -4.9L378 -6.6L379 -6.9L380 -6.8L381 -5.7L382 -5.9L383 -5.8L384 -4.7L385 -2.3L386 -0.5L387 0ZM439 0L440 -0.4L441 -2.1L442 -4.5L443 -5.7L444 -5.9L445 -7.4L446 -9.2L447 -9.4L448 -9.1L449 -7.0L450 -4.9L451 -4.4L452 -2.8L453 -0.8L454 0ZM455 0L456 -0.9L457 -2.1L458 -2.8L459 -2.9L460 -2.9L461 -2.4L462 -1.2L463 -1.5L464 -2.6L465 -2.9L466 -2.9L467 -5.9L468 -7.9L469 -8.3L470 -8.1L471 -6.7L472 -6.9L473 -6.9L474 -6.2L475 -9.1L476 -9.8L477 -9.8L478 -10.8L479 -12.6L480 -12.8L481 -12.1L482 -9.3L483 -9.8L484 -9.7L485 -8.4L486 -6.5L487 -6.9L488 -7.9L489 -8.8L490 -8.8L491 -11.3L492 -11.8L493 -11.6L494 -9.5L495 -5.9L496 -5.5L497 -3.8L498 -2.4L499 -2.3L500 -1.8L501 -0.8L502 0ZM539 0L540 -0.6L541 -1.6L542 -2.2L543 -2.4L544 -2.3L545 -2.8L546 -2.9L547 -2.9L548 -2.4L549 -1.2L550 -0.3L551 0ZM581 0L582 -1.2L583 -2.4L584 -2.9L585 -2.9L586 -2.8L587 -2.1L588 -0.9L589 0ZM624 0L625 -0.7L626 -1.9L627 -2.8L628 -2.9L629 -2.9L630 -2.5L631 -1.4L632 -0.3L633 0ZM655 0L656 -0.6L657 -1.8L658 -2.7L659 -2.9L660 -2.9L661 -2.6L662 -1.5L663 -0.4L664 0ZM683 0L684 -0.9L685 -2.2L686 -2.9L687 -2.9L688 -2.9L689 -2.3L690 -1.1L691 0ZM721 0L722 -0.8L723 -2.1L724 -2.8L725 -2.9L726 -2.9L727 -2.4L728 -1.3L729 -0.3L730 0ZM735 0L736 -0.9L737 -2.1L738 -2.8L739 -2.9L740 -2.9L741 -2.4L742 -1.2L743 0ZM744 0L745 -0.6L746 -1.8L747 -2.7L748 -2.9L749 -2.9L750 -2.6L751 -1.5L752 -2.6L753 -3.7L754 -3.9L755 -4.9L756 -5.8L757 -5.9L758 -5.6L759 -4.1L760 -3.5L761 -3.5L762 -2.9L763 -2.9L764 -2.9L765 -2.9L766 -2.3L767 -1.1L768 0ZM783 0L784 -0.9L785 -2.2L786 -2.9L787 -2.9L788 -2.9L789 -2.3L790 -1.1L791 0ZM804 0L805 -1.0L806 -2.8L807 -4.1L808 -4.3L809 -4.3L810 -6.0L811 -6.8L812 -6.9L813 -6.4L814 -4.3L815 -3.9L816 -3.2L817 -2.2L818 -2.8L819 -2.9L820 -2.9L821 -2.3L822 -1.1L823 0ZM839 0L840 -0.3L841 -1.2L842 -2.1L843 -2.3L844 -2.4L845 -2.2L846 -1.5L847 -0.5L848 0ZM850 0L851 -1.2L852 -2.4L853 -2.9L854 -2.9L855 -2.8L856 -2.1L857 -0.9L858 0ZM896 0L897 -0.4L898 -1.5L899 -2.6L900 -2.9L901 -2.9L902 -2.7L903 -1.8L904 -0.6L905 0ZM923 0L924 -0.8L925 -2.1L926 -2.8L927 -2.9L928 -2.9L929 -2.4L930 -1.2L931 0ZM932 0L933 -1.0L934 -2.3L935 -2.9L936 -2.9L937 -2.9L938 -2.2L939 -1.0L940 0ZM941 0L942 -0.3L943 -1.3L944 -2.4L945 -2.9L946 -2.9L947 -2.8L948 -2.1L949 -0.8L950 0Z" fill="#4484c0" stroke="#345f8c" stroke-width="0.7" stroke-linejoin="round"/>
<line x1="109.60" y1="1679.30" x2="1064.30" y2="1679.30" stroke="#333f4c" stroke-width="1.4" />
<line x1="109.60" y1="1643.60" x2="109.60" y2="1679.90" stroke="#000" stroke-width="1.5" />
<line x1="109.60" y1="1655.60" x2="116.60" y2="1655.60" stroke="#000" stroke-width="1.5" />
<text x="98.40" y="1662.30" font-size="18.8" text-anchor="end" fill="#000" >1</text>
<text x="1080.70" y="1669.00" font-size="21" text-anchor="start" fill="#000" >S2</text>
<path transform="translate(109.6,1722.1)" d="M1 0L2 -1.1L3 -2.3L4 -2.8L5 -2.9L6 -2.8L7 -2.1L8 -3.8L9 -6.7L10 -7.6L11 -9.4L12 -10.4L13 -10.5L14 -9.6L15 -6.1L16 -4.7L17 -4.5L18 -4.8L19 -4.7L20 -4.0L21 -3.6L22 -4.6L23 -4.8L24 -4.7L25 -3.7L26 -1.7L27 -2.3L28 -4.1L29 -4.7L30 -4.8L31 -4.5L32 -3.1L33 -5.8L34 -8.8L35 -9.5L36 -11.5L37 -16.2L38 -17.1L39 -17.0L40 -14.5L41 -11.4L42 -10.8L43 -7.6L44 -5.7L45 -8.6L46 -10.3L47 -10.5L48 -10.0L49 -7.4L50 -6.7L51 -6.3L52 -4.3L53 -1.5L54 0ZM56 0L57 -1.6L58 -4.0L59 -5.5L60 -5.7L61 -5.6L62 -7.0L63 -7.2L64 -7.1L65 -5.6L66 -5.6L67 -5.7L68 -5.5L69 -4.0L70 -4.0L71 -6.5L72 -7.2L73 -7.2L74 -6.6L75 -4.7L76 -6.8L77 -7.2L78 -7.2L79 -6.2L80 -7.8L81 -10.2L82 -10.5L83 -12.3L84 -13.7L85 -13.7L86 -12.5L87 -8.5L88 -8.6L89 -8.2L90 -5.9L91 -2.2L92 -5.6L93 -8.7L94 -9.5L95 -9.5L96 -16.1L97 -19.7L98 -20.0L99 -19.3L100 -14.4L101 -11.4L102 -10.4L103 -9.8L104 -12.1L105 -12.4L106 -12.0L107 -12.6L108 -14.7L109 -14.9L110 -14.0L111 -12.8L112 -14.2L113 -14.3L114 -13.0L115 -11.5L116 -12.4L117 -12.3L118 -10.8L119 -7.3L120 -7.6L121 -7.5L122 -6.2L123 -12.8L124 -15.9L125 -16.2L126 -15.7L127 -18.5L128 -18.7L129 -17.8L130 -13.9L131 -14.3L132 -14.0L133 -11.0L134 -7.6L135 -7.5L136 -6.0L137 -2.9L138 -0.5L139 0ZM139 0L140 -0.5L141 -3.1L142 -6.6L143 -8.4L144 -8.6L145 -8.3L146 -9.9L147 -11.7L148 -11.8L149 -11.2L150 -8.1L151 -6.7L152 -6.2L153 -4.2L154 -4.2L155 -6.2L156 -6.7L157 -6.6L158 -5.8L159 -4.8L160 -4.7L161 -4.0L162 -2.1L163 -0.5L164 0ZM170 0L171 -1.6L172 -5.0L173 -7.8L174 -8.6L175 -8.7L176 -12.5L177 -13.3L178 -13.2L179 -11.5L180 -7.6L181 -7.5L182 -6.2L183 -3.2L184 -2.9L185 -2.8L186 -2.2L187 -1.0L188 0ZM191 0L192 -0.8L193 -2.3L194 -3.5L195 -3.8L196 -4.0L197 -7.8L198 -9.4L199 -9.5L200 -9.1L201 -8.3L202 -8.6L203 -8.4L204 -6.8L205 -6.3L206 -7.5L207 -7.6L208 -8.7L209 -12.3L210 -12.9L211 -12.8L212 -11.0L213 -6.7L214 -6.7L215 -6.0L216 -6.3L217 -6.7L218 -6.6L219 -8.3L220 -11.0L221 -11.4L222 -14.8L223 -18.6L224 -19.0L225 -18.5L226 -21.1L227 -21.3L228 -20.4L229 -15.0L230 -11.4L231 -10.7L232 -12.9L233 -13.3L234 -13.1L235 -10.7L236 -7.6L237 -7.6L238 -6.6L239 -3.8L240 -1.0L241 0ZM245 0L246 -0.3L247 -1.1L248 -2.0L249 -2.3L250 -2.3L251 -2.1L252 -1.5L253 -0.5L254 0ZM258 0L259 -0.3L260 -1.6L261 -3.6L262 -4.6L263 -4.8L264 -4.7L265 -6.3L266 -7.5L267 -7.6L268 -7.3L269 -5.4L270 -3.8L271 -3.8L272 -3.5L273 -2.4L274 -0.8L275 0ZM288 0L289 -0.4L290 -1.3L291 -2.0L292 -2.3L293 -2.3L294 -2.1L295 -1.3L296 -0.4L297 -0.3L298 -2.2L299 -5.2L300 -7.0L301 -7.2L302 -7.1L303 -5.8L304 -2.9L305 -2.8L306 -2.2L307 -1.0L308 0ZM310 0L311 -0.4L312 -1.3L313 -2.1L314 -2.3L315 -2.3L316 -2.0L317 -3.1L318 -3.5L319 -3.5L320 -3.3L321 -2.2L322 -0.8L323 0ZM335 0L336 -0.3L337 -1.7L338 -3.5L339 -4.3L340 -4.8L341 -5.8L342 -5.9L343 -5.6L344 -4.2L345 -2.8L346 -2.0L347 -0.8L348 0ZM365 0L366 -1.1L367 -2.3L368 -2.9L369 -2.9L370 -4.2L371 -4.9L372 -4.9L373 -5.6L374 -5.9L375 -5.8L376 -5.0L377 -3.5L378 -3.5L379 -2.9L380 -1.9L381 -2.0L382 -1.9L383 -1.6L384 -0.8L385 0ZM408 0L409 -0.7L410 -1.7L411 -2.3L412 -2.4L413 -2.3L414 -1.9L415 -1.0L416 -1.5L417 -1.9L418 -2.0L419 -1.9L420 -1.5L421 -1.8L422 -2.0L423 -2.0L424 -1.7L425 -1.0L426 -0.3L427 0ZM434 0L435 -1.5L436 -3.6L437 -4.7L438 -6.1L439 -8.0L440 -8.3L441 -8.1L442 -6.5L443 -3.8L444 -3.1L445 -1.4L446 -1.5L447 -2.2L448 -2.4L449 -2.3L450 -2.0L451 -1.1L452 -0.3L453 0ZM460 0L461 -0.3L462 -1.2L463 -2.1L464 -2.3L465 -2.4L466 -2.2L467 -1.5L468 -1.3L469 -2.1L470 -2.4L471 -2.4L472 -4.6L473 -7.2L474 -7.8L475 -12.0L476 -15.3L477 -15.7L478 -15.3L479 -17.5L480 -17.7L481 -17.0L482 -18.1L483 -17.9L484 -15.5L485 -13.8L486 -13.2L487 -9.8L488 -9.0L489 -12.2L490 -12.8L491 -14.8L492 -15.3L493 -15.1L494 -12.4L495 -11.8L496 -11.6L497 -9.3L498 -4.5L499 -3.5L500 -2.1L501 -2.1L502 -2.4L503 -2.4L504 -2.2L505 -1.4L506 -0.4L507 0ZM508 0L509 -0.4L510 -1.8L511 -3.3L512 -3.9L513 -3.9L514 -5.9L515 -6.8L516 -6.9L517 -7.8L518 -8.2L519 -8.2L520 -7.0L521 -5.5L522 -5.4L523 -4.2L524 -1.9L525 -0.3L526 0ZM531 0L532 -0.5L533 -1.5L534 -2.2L535 -2.4L536 -2.3L537 -2.1L538 -1.2L539 -0.3L540 0ZM555 0L556 -0.9L557 -1.9L558 -2.3L559 -2.4L560 -2.3L561 -1.7L562 -0.7L563 0ZM568 0L569 -0.9L570 -1.7L571 -2.0L572 -2.0L573 -1.8L574 -1.7L575 -2.0L576 -2.0L577 -1.8L578 -1.2L579 -0.4L580 -1.3L581 -2.1L582 -2.4L583 -2.4L584 -2.1L585 -1.3L586 -0.4L587 0ZM588 0L589 -0.7L590 -1.9L591 -2.8L592 -2.9L593 -2.9L594 -3.3L595 -3.5L596 -3.5L597 -3.0L598 -2.0L599 -1.9L600 -1.6L601 -0.9L602 0ZM605 0L606 -0.3L607 -1.7L608 -3.7L609 -4.8L610 -4.9L611 -4.8L612 -3.8L613 -3.5L614 -3.4L615 -2.7L616 -2.0L617 -1.9L618 -1.4L619 -0.6L620 -1.3L621 -2.5L622 -2.9L623 -2.9L624 -2.8L625 -4.7L626 -5.5L627 -5.5L628 -5.2L629 -3.6L630 -3.5L631 -3.5L632 -3.3L633 -2.2L634 -2.4L635 -3.9L636 -4.3L637 -4.3L638 -4.5L639 -4.9L640 -5.2L641 -5.5L642 -5.5L643 -7.5L644 -7.9L645 -7.8L646 -6.6L647 -3.9L648 -4.2L649 -5.7L650 -5.9L651 -7.1L652 -8.2L653 -8.2L654 -7.7L655 -5.3L656 -4.6L657 -3.1L658 -1.1L659 0ZM671 0L672 -0.3L673 -1.2L674 -2.0L675 -2.3L676 -2.4L677 -2.2L678 -1.5L679 -0.5L680 -1.3L681 -2.1L682 -2.3L683 -2.4L684 -2.2L685 -1.4L686 -1.8L687 -2.3L688 -2.4L689 -2.3L690 -1.8L691 -0.9L692 -1.5L693 -2.2L694 -2.4L695 -2.3L696 -2.0L697 -2.4L698 -3.4L699 -3.5L700 -4.1L701 -4.9L702 -4.9L703 -4.7L704 -3.4L705 -2.3L706 -1.9L707 -1.7L708 -2.3L709 -2.4L710 -2.3L711 -1.9L712 -0.9L713 0ZM714 0L715 -0.8L716 -1.6L717 -1.9L718 -2.0L719 -1.9L720 -1.4L721 -0.6L722 0ZM736 0L737 -0.4L738 -1.3L739 -2.1L740 -2.4L741 -2.4L742 -2.1L743 -1.8L744 -2.7L745 -2.9L746 -2.9L747 -2.7L748 -4.0L749 -4.3L750 -4.3L751 -5.9L752 -6.3L753 -6.2L754 -5.4L755 -4.9L756 -4.9L757 -4.1L758 -2.4L759 -2.3L760 -1.9L761 -1.7L762 -2.3L763 -2.4L764 -2.3L765 -1.9L766 -0.9L767 0ZM792 0L793 -0.6L794 -2.0L795 -3.2L796 -3.5L797 -3.5L798 -5.0L799 -5.5L800 -5.5L801 -4.9L802 -4.9L803 -4.9L804 -4.3L805 -2.5L806 -2.3L807 -2.0L808 -3.0L809 -5.1L810 -5.9L811 -7.3L812 -8.2L813 -8.2L814 -7.6L815 -5.1L816 -4.5L817 -2.9L818 -0.9L819 0ZM841 0L842 -0.6L843 -1.6L844 -2.2L845 -2.4L846 -2.3L847 -2.8L848 -3.8L849 -3.9L850 -3.9L851 -3.2L852 -2.4L853 -2.1L854 -1.3L855 -0.4L856 0ZM856 0L857 -0.8L858 -2.2L859 -3.3L860 -4.7L861 -5.5L862 -5.5L863 -5.2L864 -3.6L865 -2.5L866 -1.4L867 -0.3L868 0ZM874 0L875 -1.3L876 -3.0L877 -3.8L878 -4.2L879 -5.4L880 -5.5L881 -5.4L882 -4.2L883 -2.3L884 -1.8L885 -0.8L886 0ZM886 0L887 -0.3L888 -1.5L889 -2.9L890 -3.5L891 -3.5L892 -4.6L893 -5.4L894 -5.5L895 -5.2L896 -3.7L897 -3.5L898 -3.5L899 -3.3L900 -2.3L901 -2.0L902 -2.0L903 -1.8L904 -1.2L905 -0.4L906 -0.5L907 -1.7L908 -2.7L909 -2.9L910 -2.9L911 -3.4L912 -5.1L913 -5.5L914 -5.5L915 -4.8L916 -3.3L917 -3.5L918 -3.5L919 -3.1L920 -1.7L921 -0.4L922 0ZM923 0L924 -0.7L925 -1.7L926 -2.3L927 -2.4L928 -2.3L929 -4.1L930 -5.3L931 -5.5L932 -6.9L933 -7.8L934 -7.9L935 -7.3L936 -5.4L937 -5.5L938 -5.4L939 -4.2L940 -2.9L941 -2.9L942 -2.2L943 -0.9L944 0Z" fill="#4484c0" stroke="#345f8c" stroke-width="0.7" stroke-linejoin="round"/>
<line x1="109.60" y1="1722.10" x2="1064.30" y2="1722.10" stroke="#333f4c" stroke-width="1.4" />
<line x1="109.60" y1="1686.40" x2="109.60" y2="1722.70" stroke="#000" stroke-width="1.5" />
<line x1="109.60" y1="1698.40" x2="116.60" y2="1698.40" stroke="#000" stroke-width="1.5" />
<text x="98.40" y="1705.10" font-size="18.8" text-anchor="end" fill="#000" >1</text>
<text x="1080.70" y="1711.80" font-size="21" text-anchor="start" fill="#000" >S3</text>
<path transform="translate(109.6,1765.0)" d="M0 0L0 -14.7L1 -15.2L2 -15.8L3 -17.1L4 -17.1L5 -15.1L6 -11.4L7 -11.0L8 -8.2L9 -3.8L10 -3.6L11 -2.5L12 -1.7L13 -1.9L14 -1.9L15 -1.7L16 -1.1L17 -0.3L18 0ZM22 0L23 -0.4L24 -2.0L25 -3.9L26 -4.7L27 -4.8L28 -8.2L29 -9.5L30 -9.5L31 -8.9L32 -6.1L33 -7.5L34 -11.4L35 -12.4L36 -12.9L37 -13.7L38 -13.6L39 -11.8L40 -6.6L41 -6.7L42 -6.6L43 -5.4L44 -2.6L45 -0.5L46 -1.0L47 -4.1L48 -7.4L49 -8.5L50 -8.6L51 -11.1L52 -12.3L53 -12.4L54 -11.3L55 -8.4L56 -8.6L57 -8.3L58 -6.5L59 -2.9L60 -0.5L61 0ZM67 0L68 -0.7L69 -2.5L70 -4.2L71 -4.7L72 -4.8L73 -5.8L74 -8.8L75 -9.5L76 -9.5L77 -8.4L78 -6.7L79 -6.6L80 -5.6L81 -3.1L82 -0.7L83 0ZM85 0L86 -0.6L87 -2.3L88 -4.1L89 -4.7L90 -5.2L91 -8.5L92 -9.5L93 -9.9L94 -15.0L95 -16.2L96 -16.1L97 -14.3L98 -11.4L99 -11.3L100 -10.1L101 -10.5L102 -10.3L103 -8.4L104 -6.5L105 -6.7L106 -6.5L107 -7.8L108 -9.1L109 -9.1L110 -8.6L111 -6.1L112 -5.7L113 -5.3L114 -5.0L115 -7.5L116 -8.0L117 -8.0L118 -7.0L119 -4.8L120 -4.7L121 -4.0L122 -2.1L123 -0.5L124 -1.4L125 -2.8L126 -3.4L127 -3.4L128 -3.3L129 -2.5L130 -4.2L131 -4.7L132 -4.8L133 -4.4L134 -2.9L135 -3.2L136 -3.4L137 -3.4L138 -3.0L139 -1.7L140 -1.9L141 -4.3L142 -5.6L143 -5.7L144 -5.6L145 -7.5L146 -9.0L147 -9.1L148 -8.8L149 -6.4L150 -4.8L151 -4.7L152 -3.8L153 -1.8L154 -0.3L155 0ZM166 0L167 -0.3L168 -1.2L169 -2.0L170 -2.3L171 -2.3L172 -2.1L173 -1.4L174 -0.5L175 0ZM175 0L176 -1.1L177 -2.9L178 -4.0L179 -4.2L180 -5.7L181 -6.6L182 -6.7L183 -6.3L184 -4.3L185 -3.4L186 -3.3L187 -2.5L188 -1.1L189 0ZM191 0L192 -0.4L193 -1.2L194 -1.8L195 -1.9L196 -1.9L197 -1.7L198 -4.0L199 -5.5L200 -5.8L201 -10.0L202 -11.4L203 -12.3L204 -13.7L205 -13.7L206 -12.5L207 -8.0L208 -6.4L209 -4.7L210 -1.9L211 -1.3L212 -2.1L213 -2.3L214 -2.3L215 -2.1L216 -1.3L217 -0.7L218 -2.6L219 -4.3L220 -4.7L221 -4.8L222 -4.3L223 -2.8L224 -2.8L225 -5.5L226 -6.6L227 -6.7L228 -7.4L229 -8.5L230 -8.6L231 -10.6L232 -11.8L233 -11.8L234 -10.8L235 -12.2L236 -12.4L237 -11.8L238 -8.5L239 -5.7L240 -4.8L241 -2.6L242 -0.6L243 0ZM249 0L250 -0.3L251 -1.1L252 -1.7L253 -1.9L254 -1.9L255 -1.7L256 -1.1L257 -0.3L258 0ZM263 0L264 -0.8L265 -1.6L266 -1.9L267 -1.9L268 -1.8L269 -1.3L270 -0.5L271 0ZM272 0L273 -0.5L274 -1.4L275 -2.1L276 -2.3L277 -2.3L278 -2.0L279 -1.1L280 -0.3L281 -1.2L282 -2.7L283 -3.4L284 -3.4L285 -4.9L286 -5.3L287 -5.3L288 -4.8L289 -2.9L290 -2.7L291 -1.9L292 -0.7L293 0ZM333 0L334 -0.9L335 -1.9L336 -2.3L337 -2.4L338 -2.4L339 -2.9L340 -2.9L341 -2.8L342 -2.1L343 -1.1L344 -2.0L345 -2.3L346 -2.4L347 -2.2L348 -1.6L349 -0.6L350 0ZM352 0L353 -0.6L354 -2.3L355 -3.8L356 -4.3L357 -4.3L358 -5.3L359 -5.5L360 -5.4L361 -4.4L362 -2.9L363 -2.7L364 -3.0L365 -4.5L366 -4.9L367 -4.9L368 -4.6L369 -4.9L370 -4.9L371 -4.3L372 -3.8L373 -4.3L374 -4.3L375 -4.0L376 -3.4L377 -4.7L378 -4.9L379 -5.6L380 -6.3L381 -6.3L382 -5.7L383 -3.7L384 -2.9L385 -2.3L386 -1.1L387 0ZM398 0L399 -0.5L400 -1.5L401 -2.2L402 -2.4L403 -2.3L404 -2.0L405 -1.2L406 -0.3L407 0ZM434 0L435 -0.4L436 -1.3L437 -2.1L438 -2.4L439 -2.4L440 -2.1L441 -1.3L442 -0.4L443 0ZM456 0L457 -0.3L458 -1.1L459 -2.0L460 -2.3L461 -2.4L462 -2.2L463 -1.5L464 -2.6L465 -2.9L466 -2.9L467 -2.7L468 -2.3L469 -2.4L470 -2.3L471 -1.9L472 -1.0L473 0ZM473 0L474 -0.7L475 -2.2L476 -3.3L477 -3.5L478 -4.1L479 -4.9L480 -4.9L481 -4.7L482 -3.3L483 -2.3L484 -2.0L485 -1.1L486 -2.4L487 -3.4L488 -3.5L489 -4.2L490 -5.7L491 -5.9L492 -6.5L493 -8.5L494 -8.8L495 -9.4L496 -10.7L497 -10.8L498 -10.1L499 -7.8L500 -7.8L501 -6.9L502 -4.1L503 -3.5L504 -3.2L505 -2.1L506 -0.6L507 0ZM518 0L519 -0.5L520 -1.4L521 -1.9L522 -2.0L523 -1.9L524 -1.6L525 -2.1L526 -2.4L527 -2.4L528 -2.1L529 -1.3L530 -0.4L531 0ZM533 0L534 -0.7L535 -1.9L536 -2.8L537 -2.9L538 -2.9L539 -4.3L540 -4.9L541 -4.9L542 -4.6L543 -4.1L544 -4.3L545 -4.3L546 -3.6L547 -3.6L548 -4.7L549 -4.9L550 -4.8L551 -3.9L552 -3.9L553 -3.9L554 -3.5L555 -2.9L556 -2.9L557 -2.9L558 -2.2L559 -1.0L560 0ZM564 0L565 -1.1L566 -2.0L567 -2.3L568 -2.4L569 -2.2L570 -1.6L571 -0.6L572 0ZM578 0L579 -0.7L580 -2.2L581 -3.6L582 -3.9L583 -5.4L584 -5.9L585 -5.9L586 -5.3L587 -3.2L588 -2.3L589 -1.8L590 -1.3L591 -1.8L592 -2.0L593 -2.0L594 -1.7L595 -1.0L596 0ZM615 0L616 -0.5L617 -2.3L618 -4.5L619 -5.4L620 -5.5L621 -7.3L622 -7.9L623 -7.8L624 -6.9L625 -6.9L626 -6.5L627 -4.6L628 -1.7L629 0ZM632 0L633 -0.5L634 -1.6L635 -2.6L636 -2.9L637 -2.9L638 -4.5L639 -4.9L640 -4.9L641 -4.4L642 -3.3L643 -4.7L644 -4.9L645 -4.9L646 -4.1L647 -4.1L648 -4.9L649 -4.9L650 -4.7L651 -3.3L652 -1.2L653 0ZM653 0L654 -0.8L655 -1.8L656 -2.3L657 -2.4L658 -2.3L659 -1.8L660 -0.8L661 0ZM667 0L668 -0.8L669 -2.1L670 -2.8L671 -2.9L672 -2.9L673 -2.4L674 -1.2L675 -0.3L676 0ZM692 0L693 -0.9L694 -1.9L695 -2.3L696 -2.4L697 -2.3L698 -1.7L699 -0.7L700 0ZM706 0L707 -1.0L708 -2.2L709 -2.9L710 -3.7L711 -4.8L712 -4.9L713 -4.8L714 -3.8L715 -2.3L716 -1.8L717 -0.8L718 0ZM731 0L732 -0.5L733 -1.4L734 -1.9L735 -2.0L736 -1.9L737 -1.6L738 -1.1L739 -1.8L740 -2.0L741 -2.0L742 -1.8L743 -1.4L744 -2.2L745 -2.4L746 -2.3L747 -2.1L748 -3.1L749 -4.6L750 -4.9L751 -5.5L752 -6.8L753 -6.9L754 -6.6L755 -5.0L756 -4.3L757 -4.0L758 -2.7L759 -1.7L760 -2.3L761 -2.4L762 -2.3L763 -1.9L764 -1.0L765 0ZM769 0L770 -1.1L771 -2.3L772 -2.9L773 -2.9L774 -2.9L775 -3.2L776 -3.9L777 -3.9L778 -3.8L779 -2.8L780 -1.8L781 -3.3L782 -3.9L783 -3.9L784 -3.7L785 -2.6L786 -4.3L787 -4.9L788 -4.9L789 -4.6L790 -3.1L791 -3.1L792 -3.5L793 -3.5L794 -3.2L795 -2.1L796 -0.7L797 0ZM798 0L799 -0.5L800 -1.4L801 -2.2L802 -2.4L803 -2.3L804 -2.1L805 -1.5L806 -2.2L807 -2.4L808 -2.3L809 -2.0L810 -1.1L811 -0.3L812 0ZM823 0L824 -0.9L825 -1.8L826 -2.3L827 -2.4L828 -2.3L829 -1.8L830 -1.9L831 -2.3L832 -2.4L833 -2.3L834 -1.7L835 -0.7L836 0ZM840 0L841 -0.6L842 -2.2L843 -3.8L844 -4.3L845 -4.4L846 -6.0L847 -6.3L848 -6.2L849 -5.2L850 -4.3L851 -4.2L852 -3.2L853 -1.4L854 0ZM860 0L861 -0.6L862 -1.6L863 -2.2L864 -2.4L865 -2.3L866 -2.2L867 -2.4L868 -2.3L869 -2.0L870 -1.0L871 0ZM888 0L889 -1.0L890 -2.0L891 -2.3L892 -2.4L893 -2.2L894 -1.6L895 -0.7L896 -2.9L897 -5.1L898 -5.9L899 -5.9L900 -7.8L901 -8.8L902 -8.8L903 -8.2L904 -8.1L905 -8.3L906 -8.0L907 -6.2L908 -4.9L909 -4.9L910 -4.4L911 -4.5L912 -4.9L913 -6.3L914 -7.4L915 -7.5L916 -7.1L917 -5.1L918 -4.3L919 -3.7L920 -2.1L921 -0.5L922 0ZM922 0L923 -0.3L924 -2.3L925 -5.6L926 -7.5L927 -7.9L928 -9.8L929 -11.3L930 -11.4L931 -10.7L932 -9.9L933 -10.2L934 -10.0L935 -8.0L936 -7.7L937 -7.9L938 -7.6L939 -7.5L940 -9.3L941 -9.4L942 -9.1L943 -8.4L944 -10.1L945 -10.2L946 -9.8L947 -7.8L948 -7.9L949 -7.5L950 -5.4L951 -2.9L952 -2.8L953 -2.9L954 -2.9L955 -2.8L955 0Z" fill="#4484c0" stroke="#345f8c" stroke-width="0.7" stroke-linejoin="round"/>
<line x1="109.60" y1="1765.00" x2="1064.30" y2="1765.00" stroke="#333f4c" stroke-width="1.4" />
<line x1="109.60" y1="1729.30" x2="109.60" y2="1765.60" stroke="#000" stroke-width="1.5" />
<line x1="109.60" y1="1741.30" x2="116.60" y2="1741.30" stroke="#000" stroke-width="1.5" />
<text x="98.40" y="1748.00" font-size="18.8" text-anchor="end" fill="#000" >1</text>
<text x="1080.70" y="1754.70" font-size="21" text-anchor="start" fill="#000" >S4</text>
<path transform="translate(109.6,1813.2)" d="M0 0L0 -1.9L1 -4.3L2 -5.6L3 -5.7L4 -5.6L5 -4.4L6 -3.4L7 -3.3L8 -2.5L9 -1.8L10 -3.0L11 -3.4L12 -4.2L13 -5.5L14 -5.7L15 -5.6L16 -4.5L17 -2.9L18 -2.7L19 -1.9L20 -2.3L21 -5.1L22 -6.5L23 -6.7L24 -6.5L25 -5.6L26 -5.7L27 -5.5L28 -4.1L29 -3.4L30 -3.4L31 -3.2L32 -2.6L33 -2.9L34 -2.9L35 -2.6L36 -1.6L37 -0.5L38 0ZM40 0L41 -0.5L42 -1.9L43 -3.1L44 -3.4L45 -3.4L46 -3.1L47 -2.0L48 -0.6L49 -0.5L50 -1.9L51 -3.1L52 -3.4L53 -3.4L54 -3.1L55 -2.0L56 -0.6L57 0ZM61 0L62 -1.3L63 -2.7L64 -3.4L65 -3.4L66 -3.3L67 -2.5L68 -1.1L69 0ZM80 0L81 -0.6L82 -1.8L83 -2.7L84 -2.9L85 -2.8L86 -2.5L87 -1.4L88 -0.4L89 0ZM103 0L104 -0.8L105 -3.8L106 -7.2L107 -8.5L108 -12.8L109 -14.8L110 -14.8L111 -13.9L112 -9.6L113 -7.9L114 -5.2L115 -3.1L116 -4.5L117 -4.8L118 -6.4L119 -6.7L120 -6.6L121 -5.6L122 -3.4L123 -3.1L124 -2.8L125 -3.4L126 -3.4L127 -3.3L128 -2.5L129 -2.8L130 -2.9L131 -2.7L132 -1.8L133 -0.6L134 0ZM138 0L139 -0.9L140 -2.1L141 -2.8L142 -2.9L143 -2.8L144 -2.3L145 -1.1L146 0ZM150 0L151 -0.5L152 -1.7L153 -2.6L154 -2.9L155 -2.8L156 -2.6L157 -1.6L158 -0.4L159 0ZM166 0L167 -0.4L168 -1.4L169 -2.5L170 -2.8L171 -2.9L172 -2.7L173 -1.8L174 -2.6L175 -2.9L176 -2.8L177 -2.5L178 -1.5L179 -0.4L180 -1.0L181 -2.2L182 -2.8L183 -2.9L184 -2.8L185 -2.2L186 -1.0L187 0ZM195 0L196 -1.4L197 -3.7L198 -5.1L199 -5.3L200 -5.3L201 -4.6L202 -4.8L203 -4.7L204 -5.6L205 -5.7L206 -5.5L207 -4.2L208 -2.9L209 -2.8L210 -2.5L211 -1.4L212 -0.4L213 0ZM218 0L219 -0.7L220 -1.7L221 -2.2L222 -2.3L223 -2.2L224 -3.1L225 -3.7L226 -3.8L227 -3.7L228 -2.7L229 -3.0L230 -3.4L231 -3.4L232 -5.0L233 -7.8L234 -8.6L235 -8.7L236 -12.5L237 -13.3L238 -13.2L239 -11.5L240 -9.9L241 -9.8L242 -10.2L243 -10.5L244 -10.2L245 -8.1L246 -7.2L247 -7.0L248 -7.9L249 -8.0L250 -7.6L251 -5.3L252 -2.8L253 -2.9L254 -2.6L255 -1.7L256 -0.5L257 0ZM257 0L258 -0.3L259 -1.8L260 -4.2L261 -5.5L262 -5.7L263 -9.8L264 -12.1L265 -12.4L266 -16.7L267 -18.1L268 -18.0L269 -16.0L270 -10.5L271 -9.8L272 -6.8L273 -4.8L274 -4.3L275 -3.2L276 -3.4L277 -3.4L278 -3.0L279 -2.1L280 -2.8L281 -2.9L282 -2.8L283 -2.3L284 -1.1L285 0ZM297 0L298 -0.9L299 -2.1L300 -2.8L301 -2.9L302 -2.8L303 -2.3L304 -2.8L305 -2.9L306 -2.8L307 -2.1L308 -0.9L309 0ZM316 0L317 -0.6L318 -1.6L319 -2.2L320 -2.4L321 -2.3L322 -2.0L323 -1.0L324 -0.9L325 -2.2L326 -2.8L327 -2.9L328 -2.9L329 -2.4L330 -1.1L331 0ZM332 0L333 -0.9L334 -1.9L335 -2.3L336 -2.4L337 -2.3L338 -1.8L339 -0.8L340 0ZM349 0L350 -0.8L351 -2.0L352 -2.8L353 -2.9L354 -2.9L355 -2.5L356 -1.3L357 -1.3L358 -2.1L359 -2.4L360 -2.4L361 -2.1L362 -1.4L363 -0.6L364 -1.8L365 -2.7L366 -2.9L367 -2.9L368 -2.6L369 -1.5L370 -0.4L371 0ZM372 0L373 -0.3L374 -1.3L375 -2.4L376 -2.9L377 -2.9L378 -2.8L379 -2.0L380 -0.8L381 0ZM406 0L407 -1.0L408 -2.2L409 -2.9L410 -2.9L411 -2.9L412 -2.3L413 -1.0L414 0ZM470 0L471 -0.9L472 -2.9L473 -4.5L474 -4.9L475 -5.8L476 -8.7L477 -9.4L478 -9.4L479 -8.3L480 -4.9L481 -4.9L482 -4.3L483 -2.4L484 -0.6L485 0ZM486 0L487 -0.7L488 -1.7L489 -2.3L490 -2.4L491 -2.3L492 -1.9L493 -2.3L494 -2.4L495 -2.3L496 -1.9L497 -0.9L498 0ZM503 0L504 -1.2L505 -2.4L506 -2.9L507 -2.9L508 -2.8L509 -3.1L510 -5.8L511 -6.8L512 -6.9L513 -10.9L514 -12.7L515 -12.8L516 -12.0L517 -8.8L518 -8.8L519 -8.3L520 -5.6L521 -4.9L522 -4.6L523 -3.0L524 -1.5L525 -5.0L526 -8.0L527 -8.8L528 -12.2L529 -13.3L530 -13.3L531 -12.0L532 -7.3L533 -6.7L534 -5.3L535 -3.3L536 -3.5L537 -3.5L538 -3.1L539 -2.2L540 -2.4L541 -2.3L542 -2.0L543 -1.1L544 -0.3L545 0ZM552 0L553 -0.6L554 -3.2L555 -6.9L556 -8.6L557 -10.1L558 -12.5L559 -12.8L560 -12.4L561 -9.4L562 -6.9L563 -7.8L564 -9.3L565 -9.4L566 -9.0L567 -6.6L568 -6.9L569 -6.8L570 -10.1L571 -11.7L572 -11.8L573 -11.1L574 -7.7L575 -6.9L576 -6.4L577 -4.3L578 -1.7L579 -4.2L580 -5.7L581 -5.9L582 -5.8L583 -7.5L584 -8.2L585 -8.2L586 -7.4L587 -4.5L588 -4.3L589 -6.9L590 -8.7L591 -8.8L592 -12.0L593 -12.8L594 -12.7L595 -11.0L596 -6.9L597 -6.4L598 -4.4L599 -4.3L600 -4.3L601 -4.0L602 -5.3L603 -5.5L604 -5.4L605 -4.5L606 -2.2L607 -2.9L608 -2.9L609 -2.9L610 -2.3L611 -1.1L612 0ZM617 0L618 -1.0L619 -1.9L620 -2.3L621 -2.4L622 -2.3L623 -1.6L624 -0.6L625 -1.1L626 -2.0L627 -2.3L628 -2.4L629 -2.2L630 -1.5L631 -0.5L632 0ZM635 0L636 -0.7L637 -2.3L638 -3.6L639 -3.9L640 -4.6L641 -4.9L642 -5.5L643 -6.2L644 -6.3L645 -5.9L646 -4.0L647 -1.3L648 0ZM657 0L658 -0.4L659 -1.9L660 -3.9L661 -4.8L662 -4.9L663 -4.8L664 -5.8L665 -5.9L666 -5.7L667 -4.2L668 -5.6L669 -5.9L670 -5.8L671 -4.9L672 -6.7L673 -7.8L674 -7.9L675 -10.2L676 -10.8L677 -10.7L678 -9.2L679 -5.9L680 -5.8L681 -4.5L682 -2.1L683 -0.4L684 0ZM708 0L709 -1.0L710 -2.2L711 -2.9L712 -2.9L713 -2.9L714 -2.3L715 -2.8L716 -3.5L717 -3.5L718 -3.4L719 -2.6L720 -1.2L721 -2.4L722 -2.9L723 -2.9L724 -2.8L725 -2.1L726 -0.8L727 0ZM727 0L728 -0.5L729 -1.9L730 -3.4L731 -3.9L732 -3.9L733 -3.7L734 -2.9L735 -4.9L736 -5.5L737 -5.5L738 -5.1L739 -3.3L740 -2.9L741 -2.9L742 -2.7L743 -1.7L744 -0.5L745 0ZM749 0L750 -0.7L751 -1.9L752 -2.8L753 -2.9L754 -2.9L755 -2.5L756 -1.4L757 -0.3L758 0ZM759 0L760 -0.9L761 -2.1L762 -2.8L763 -2.9L764 -2.9L765 -2.4L766 -1.1L767 0ZM774 0L775 -0.6L776 -1.8L777 -2.7L778 -2.9L779 -2.9L780 -2.6L781 -3.9L782 -5.3L783 -5.5L784 -5.4L785 -4.5L786 -2.2L787 -0.5L788 -0.4L789 -1.6L790 -2.6L791 -2.9L792 -2.9L793 -2.7L794 -1.8L795 -0.6L796 0ZM796 0L797 -1.0L798 -2.2L799 -2.9L800 -2.9L801 -2.9L802 -2.3L803 -1.1L804 -1.9L805 -2.8L806 -2.9L807 -2.9L808 -2.5L809 -1.4L810 -0.4L811 0ZM820 0L821 -0.6L822 -1.8L823 -2.7L824 -2.9L825 -2.9L826 -2.6L827 -1.5L828 -0.4L829 0ZM849 0L850 -0.5L851 -1.7L852 -2.7L853 -2.9L854 -2.9L855 -4.2L856 -5.4L857 -5.5L858 -5.4L859 -4.2L860 -3.3L861 -3.5L862 -3.5L863 -3.1L864 -1.7L865 -0.4L866 0ZM875 0L876 -1.5L877 -3.3L878 -4.2L879 -4.9L880 -6.1L881 -6.3L882 -6.1L883 -4.8L884 -2.9L885 -2.2L886 -1.0L887 -0.5L888 -2.1L889 -4.1L890 -4.9L891 -4.9L892 -5.8L893 -5.9L894 -5.6L895 -4.0L896 -2.8L897 -2.0L898 -0.7L899 0ZM917 0L918 -0.7L919 -2.0L920 -2.8L921 -2.9L922 -2.9L923 -2.5L924 -2.8L925 -2.9L926 -2.9L927 -2.4L928 -1.3L929 -0.3L930 0ZM930 0L931 -0.6L932 -1.8L933 -2.7L934 -2.9L935 -2.9L936 -2.6L937 -1.6L938 -0.4L939 0ZM941 0L942 -0.4L943 -2.1L944 -4.1L945 -4.9L946 -4.9L947 -6.6L948 -7.8L949 -7.9L950 -7.5L951 -5.3L952 -4.3L953 -4.2L954 -3.5L955 -1.7L955 0Z" fill="#fd6548" stroke="#dd4f33" stroke-width="0.7" stroke-linejoin="round"/>
<line x1="109.60" y1="1813.20" x2="1064.30" y2="1813.20" stroke="#6e2418" stroke-width="1.4" />
<line x1="109.60" y1="1777.50" x2="109.60" y2="1813.80" stroke="#000" stroke-width="1.5" />
<line x1="109.60" y1="1793.20" x2="116.60" y2="1793.20" stroke="#000" stroke-width="1.5" />
<text x="99.60" y="1799.90" font-size="18.8" text-anchor="end" fill="#000" >0.5</text>
<text x="1080.70" y="1802.90" font-size="21" text-anchor="start" fill="#000" >S0</text>
<path transform="translate(109.6,1855.7)" d="M0 0L0 -1.0L1 -2.2L2 -2.8L3 -2.9L4 -2.8L5 -3.9L6 -4.7L7 -4.8L8 -4.6L9 -5.3L10 -6.1L11 -6.1L12 -5.7L13 -5.7L14 -5.7L15 -5.2L16 -3.2L17 -0.9L18 0ZM20 0L21 -1.0L22 -2.2L23 -2.8L24 -2.9L25 -2.8L26 -2.2L27 -1.0L28 -0.8L29 -2.0L30 -2.7L31 -2.9L32 -2.8L33 -2.4L34 -1.2L35 -0.3L36 0ZM36 0L37 -0.6L38 -1.6L39 -2.2L40 -2.3L41 -2.3L42 -1.9L43 -1.0L44 0ZM51 0L52 -0.6L53 -1.7L54 -2.6L55 -2.9L56 -2.8L57 -2.5L58 -3.3L59 -3.4L60 -3.4L61 -2.9L62 -1.5L63 -0.3L64 0ZM80 0L81 -0.4L82 -1.6L83 -2.6L84 -2.8L85 -2.9L86 -2.6L87 -1.7L88 -0.5L89 0ZM100 0L101 -1.0L102 -2.2L103 -2.8L104 -2.9L105 -2.8L106 -2.2L107 -2.4L108 -2.8L109 -2.9L110 -2.7L111 -1.9L112 -0.8L113 -2.3L114 -3.5L115 -3.8L116 -5.3L117 -6.1L118 -6.1L119 -5.7L120 -3.9L121 -3.8L122 -3.1L123 -2.7L124 -3.4L125 -3.4L126 -3.3L127 -5.2L128 -6.0L129 -6.1L130 -5.8L131 -4.2L132 -4.2L133 -3.9L134 -2.5L135 -0.8L136 0ZM138 0L139 -0.9L140 -2.1L141 -2.8L142 -2.9L143 -2.8L144 -2.3L145 -1.1L146 0ZM151 0L152 -0.8L153 -1.7L154 -2.2L155 -2.3L156 -2.2L157 -1.8L158 -0.8L159 -0.9L160 -2.1L161 -2.8L162 -2.9L163 -2.8L164 -2.3L165 -1.1L166 0ZM170 0L171 -0.9L172 -2.8L173 -4.4L174 -4.8L175 -4.7L176 -7.7L177 -9.4L178 -9.5L179 -9.2L180 -8.8L181 -9.1L182 -9.0L183 -7.3L184 -7.6L185 -7.6L186 -6.6L187 -3.8L188 -1.0L189 -1.8L190 -3.0L191 -3.4L192 -3.4L193 -3.5L194 -5.3L195 -5.7L196 -5.7L197 -5.0L198 -6.9L199 -7.2L200 -7.2L201 -6.0L202 -4.7L203 -4.8L204 -4.4L205 -3.0L206 -3.4L207 -5.0L208 -5.3L209 -5.3L210 -4.6L211 -4.2L212 -4.2L213 -3.9L214 -2.5L215 -0.8L216 0ZM229 0L230 -0.6L231 -1.9L232 -3.1L233 -3.4L234 -3.6L235 -5.3L236 -5.7L237 -5.7L238 -5.0L239 -2.9L240 -0.7L241 -2.4L242 -5.2L243 -6.5L244 -7.3L245 -11.3L246 -12.4L247 -12.3L248 -11.1L249 -8.5L250 -8.6L251 -8.0L252 -5.5L253 -4.2L254 -4.2L255 -3.8L256 -3.8L257 -4.7L258 -4.8L259 -4.6L260 -3.4L261 -1.4L262 0ZM262 0L263 -0.4L264 -2.0L265 -3.9L266 -4.7L267 -4.8L268 -8.2L269 -9.5L270 -9.5L271 -8.9L272 -6.1L273 -5.7L274 -5.2L275 -5.7L276 -5.7L277 -5.4L278 -3.9L279 -1.5L280 0ZM282 0L283 -0.3L284 -1.2L285 -2.3L286 -2.8L287 -2.9L288 -2.7L289 -2.0L290 -3.0L291 -3.4L292 -3.4L293 -3.2L294 -3.9L295 -4.2L296 -4.2L297 -3.7L298 -2.2L299 -1.5L300 -3.5L301 -4.6L302 -4.8L303 -4.7L304 -3.8L305 -1.8L306 -1.9L307 -2.3L308 -2.3L309 -2.2L310 -1.6L311 -1.0L312 -3.4L313 -5.2L314 -5.7L315 -5.7L316 -5.5L317 -5.3L318 -4.0L319 -1.7L320 -0.3L321 -0.3L322 -1.7L323 -4.2L324 -5.7L325 -5.9L326 -6.9L327 -9.1L328 -9.4L329 -9.3L330 -7.5L331 -4.9L332 -4.8L333 -3.8L334 -3.5L335 -3.5L336 -4.7L337 -5.8L338 -6.3L339 -8.9L340 -9.4L341 -9.3L342 -8.0L343 -4.3L344 -3.3L345 -1.7L346 -0.4L347 0ZM347 0L348 -0.4L349 -1.5L350 -2.6L351 -2.9L352 -2.9L353 -2.8L354 -1.9L355 -1.6L356 -2.6L357 -2.9L358 -2.9L359 -2.7L360 -1.7L361 -0.5L362 0ZM367 0L368 -0.8L369 -2.3L370 -3.3L371 -3.5L372 -3.5L373 -4.1L374 -4.3L375 -4.3L376 -3.6L377 -2.8L378 -2.9L379 -2.9L380 -2.4L381 -1.2L382 -0.3L383 0ZM389 0L390 -1.1L391 -2.3L392 -2.9L393 -2.9L394 -2.9L395 -2.2L396 -0.9L397 0ZM436 0L437 -0.4L438 -1.4L439 -2.2L440 -2.4L441 -2.4L442 -2.1L443 -1.3L444 -0.4L445 0ZM459 0L460 -0.7L461 -2.0L462 -2.8L463 -2.9L464 -2.9L465 -2.5L466 -1.3L467 -0.3L468 0ZM471 0L472 -1.3L473 -3.0L474 -3.8L475 -3.9L476 -4.6L477 -6.9L478 -7.5L479 -7.4L480 -6.5L481 -5.5L482 -5.5L483 -5.2L484 -3.6L485 -1.3L486 0ZM491 0L492 -0.7L493 -1.7L494 -2.3L495 -2.4L496 -2.3L497 -1.9L498 -0.9L499 -1.1L500 -2.3L501 -2.9L502 -2.9L503 -2.9L504 -2.2L505 -1.0L506 0ZM511 0L512 -0.6L513 -2.3L514 -4.2L515 -4.9L516 -4.9L517 -4.6L518 -3.2L519 -1.1L520 0ZM523 0L524 -0.4L525 -1.3L526 -2.1L527 -2.4L528 -2.4L529 -2.1L530 -1.3L531 -0.4L532 0ZM534 0L535 -0.7L536 -1.9L537 -2.8L538 -2.9L539 -2.9L540 -2.5L541 -1.4L542 -0.3L543 0ZM547 0L548 -1.6L549 -3.6L550 -4.8L551 -4.9L552 -4.8L553 -6.8L554 -8.6L555 -8.8L556 -8.6L557 -6.8L558 -5.9L559 -5.9L560 -5.1L561 -2.9L562 -3.5L563 -3.5L564 -3.4L565 -2.5L566 -1.1L567 -2.0L568 -2.3L569 -2.4L570 -2.2L571 -1.6L572 -1.5L573 -2.6L574 -2.9L575 -2.9L576 -2.7L577 -3.2L578 -5.3L579 -5.9L580 -5.9L581 -8.6L582 -11.4L583 -11.8L584 -11.6L585 -9.4L586 -5.9L587 -5.3L588 -4.3L589 -6.4L590 -6.9L591 -6.8L592 -6.0L593 -4.9L594 -4.9L595 -4.2L596 -2.4L597 -2.0L598 -5.2L599 -7.1L600 -7.5L601 -7.4L602 -7.9L603 -8.3L604 -8.1L605 -6.7L606 -4.2L607 -4.3L608 -4.2L609 -3.4L610 -2.3L611 -2.9L612 -2.9L613 -2.9L614 -2.2L615 -1.0L616 0ZM619 0L620 -1.0L621 -2.0L622 -2.3L623 -2.4L624 -2.2L625 -1.6L626 -0.6L627 -1.2L628 -2.1L629 -2.3L630 -2.4L631 -2.2L632 -1.5L633 -0.5L634 0ZM635 0L636 -0.9L637 -2.5L638 -3.9L639 -4.3L640 -4.3L641 -3.9L642 -2.4L643 -2.8L644 -2.9L645 -2.9L646 -2.5L647 -2.4L648 -3.9L649 -4.3L650 -4.3L651 -5.7L652 -5.9L653 -5.8L654 -4.7L655 -2.3L656 -0.4L657 0ZM663 0L664 -0.3L665 -1.3L666 -2.4L667 -2.9L668 -2.9L669 -2.8L670 -2.9L671 -2.9L672 -2.8L673 -2.0L674 -0.8L675 -3.0L676 -5.1L677 -5.9L678 -5.9L679 -6.8L680 -8.6L681 -8.8L682 -8.6L683 -6.7L684 -7.4L685 -7.4L686 -6.8L687 -4.3L688 -1.3L689 0ZM697 0L698 -1.6L699 -4.3L700 -6.0L701 -6.3L702 -7.4L703 -8.7L704 -8.8L705 -8.4L706 -6.0L707 -5.5L708 -5.4L709 -4.4L710 -2.9L711 -2.9L712 -2.3L713 -1.1L714 0ZM723 0L724 -0.3L725 -1.1L726 -2.0L727 -2.3L728 -2.4L729 -2.2L730 -1.6L731 -1.5L732 -2.6L733 -2.9L734 -2.9L735 -4.9L736 -5.5L737 -5.5L738 -5.1L739 -3.3L740 -2.9L741 -2.9L742 -2.7L743 -1.7L744 -1.8L745 -2.7L746 -2.9L747 -2.9L748 -2.6L749 -1.5L750 -0.4L751 0ZM751 0L752 -0.4L753 -1.5L754 -2.6L755 -2.9L756 -2.9L757 -2.7L758 -1.8L759 -1.2L760 -2.8L761 -3.8L762 -4.3L763 -5.7L764 -5.9L765 -5.8L766 -4.7L767 -2.3L768 -0.4L769 0ZM778 0L779 -0.6L780 -1.9L781 -2.7L782 -2.9L783 -2.9L784 -2.6L785 -1.5L786 -0.4L787 0ZM803 0L804 -0.5L805 -1.5L806 -2.2L807 -2.4L808 -2.3L809 -2.0L810 -3.0L811 -4.1L812 -4.3L813 -4.3L814 -3.6L815 -2.8L816 -5.0L817 -5.8L818 -6.1L819 -8.0L820 -8.3L821 -8.1L822 -6.5L823 -6.3L824 -6.1L825 -4.9L826 -4.6L827 -5.8L828 -5.9L829 -5.7L830 -4.4L831 -3.5L832 -3.4L833 -2.6L834 -1.3L835 -2.5L836 -2.9L837 -2.9L838 -2.8L839 -2.0L840 -0.8L841 0ZM842 0L843 -0.4L844 -1.5L845 -2.6L846 -2.9L847 -2.9L848 -2.7L849 -1.8L850 -2.0L851 -3.2L852 -3.5L853 -4.1L854 -5.3L855 -5.5L856 -5.4L857 -4.3L858 -3.1L859 -4.6L860 -4.9L861 -4.9L862 -4.3L863 -2.5L864 -0.6L865 0ZM867 0L868 -0.7L869 -1.7L870 -2.3L871 -2.4L872 -2.3L873 -1.9L874 -1.0L875 0ZM875 0L876 -1.5L877 -3.3L878 -4.2L879 -4.3L880 -5.5L881 -5.9L882 -5.9L883 -5.2L884 -3.0L885 -2.9L886 -2.7L887 -1.7L888 -0.5L889 0ZM893 0L894 -0.7L895 -2.7L896 -4.7L897 -5.5L898 -5.5L899 -7.5L900 -7.9L901 -7.8L902 -6.6L903 -4.3L904 -4.2L905 -3.3L906 -1.5L907 0ZM911 0L912 -0.8L913 -2.5L914 -3.7L915 -3.9L916 -5.5L917 -5.9L918 -5.9L919 -5.1L920 -2.9L921 -2.5L922 -1.4L923 -0.3L924 0ZM939 0L940 -0.5L941 -1.7L942 -2.7L943 -2.9L944 -2.9L945 -2.6L946 -1.6L947 -0.5L948 0Z" fill="#fd6548" stroke="#dd4f33" stroke-width="0.7" stroke-linejoin="round"/>
<line x1="109.60" y1="1855.70" x2="1064.30" y2="1855.70" stroke="#6e2418" stroke-width="1.4" />
<line x1="109.60" y1="1820.00" x2="109.60" y2="1856.30" stroke="#000" stroke-width="1.5" />
<line x1="109.60" y1="1835.70" x2="116.60" y2="1835.70" stroke="#000" stroke-width="1.5" />
<text x="99.60" y="1842.40" font-size="18.8" text-anchor="end" fill="#000" >0.5</text>
<text x="1080.70" y="1845.40" font-size="21" text-anchor="start" fill="#000" >S1</text>
<path transform="translate(109.6,1898.2)" d="M0 0L0 -5.7L1 -7.4L2 -7.6L3 -8.3L4 -10.3L5 -10.5L6 -10.1L7 -8.0L8 -8.6L9 -8.5L10 -7.5L11 -6.6L12 -6.7L13 -6.1L14 -4.0L15 -2.8L16 -2.6L17 -2.7L18 -2.9L19 -2.8L20 -2.4L21 -1.3L22 -0.3L23 0ZM43 0L44 -0.6L45 -1.6L46 -2.2L47 -2.3L48 -2.3L49 -1.9L50 -1.0L51 -0.5L52 -1.7L53 -2.6L54 -2.9L55 -2.8L56 -2.6L57 -3.3L58 -4.5L59 -4.8L60 -4.7L61 -4.0L62 -3.4L63 -5.0L64 -5.3L65 -5.3L66 -4.6L67 -2.9L68 -3.4L69 -3.4L70 -3.2L71 -2.3L72 -2.1L73 -2.3L74 -2.3L75 -2.1L76 -1.3L77 -0.4L78 0ZM100 0L101 -1.0L102 -2.2L103 -2.8L104 -2.9L105 -2.8L106 -4.8L107 -5.7L108 -5.7L109 -5.4L110 -8.1L111 -9.1L112 -9.1L113 -10.1L114 -11.0L115 -11.0L116 -12.1L117 -12.4L118 -12.0L119 -9.1L120 -7.6L121 -7.5L122 -6.2L123 -3.7L124 -3.8L125 -3.7L126 -2.9L127 -1.3L128 0ZM128 0L129 -0.4L130 -1.6L131 -2.6L132 -2.8L133 -2.9L134 -2.6L135 -1.7L136 -0.5L137 -1.9L138 -4.7L139 -6.4L140 -7.8L141 -10.2L142 -10.5L143 -10.3L144 -8.3L145 -5.7L146 -5.0L147 -2.9L148 -4.1L149 -4.7L150 -5.2L151 -6.5L152 -6.7L153 -6.5L154 -5.0L155 -3.8L156 -3.7L157 -2.9L158 -1.4L159 0ZM170 0L171 -0.9L172 -2.8L173 -4.4L174 -4.8L175 -6.5L176 -7.6L177 -7.6L178 -7.2L179 -5.1L180 -4.1L181 -3.5L182 -3.8L183 -5.7L184 -6.1L185 -6.1L186 -5.3L187 -3.1L188 -0.8L189 -0.7L190 -2.6L191 -4.3L192 -4.7L193 -4.8L194 -4.3L195 -2.8L196 -3.2L197 -3.4L198 -3.4L199 -3.0L200 -4.8L201 -5.3L202 -5.3L203 -4.8L204 -3.0L205 -0.9L206 0ZM206 0L207 -0.6L208 -2.4L209 -4.2L210 -4.7L211 -4.8L212 -4.4L213 -3.0L214 -1.0L215 0ZM216 0L217 -1.1L218 -2.7L219 -3.7L220 -3.8L221 -3.8L222 -4.4L223 -5.6L224 -5.7L225 -5.6L226 -7.2L227 -8.5L228 -8.6L229 -8.2L230 -6.7L231 -7.6L232 -7.6L233 -7.0L234 -5.6L235 -6.6L236 -6.7L237 -6.3L238 -8.2L239 -8.6L240 -11.0L241 -14.4L242 -14.9L243 -14.6L244 -11.7L245 -10.5L246 -10.4L247 -14.2L248 -16.6L249 -16.8L250 -15.8L251 -12.3L252 -12.4L253 -11.4L254 -10.3L255 -10.5L256 -10.0L257 -13.5L258 -14.3L259 -14.2L260 -12.1L261 -9.5L262 -9.4L263 -7.7L264 -3.8L265 -3.8L266 -5.3L267 -9.7L268 -11.3L269 -11.4L270 -10.8L271 -15.7L272 -17.5L273 -17.5L274 -16.0L275 -12.4L276 -12.3L277 -15.3L278 -16.2L279 -16.0L280 -13.7L281 -9.5L282 -9.4L283 -7.7L284 -10.0L285 -12.2L286 -12.4L287 -11.9L288 -8.9L289 -7.6L290 -7.2L291 -5.1L292 -2.9L293 -2.6L294 -1.7L295 -0.6L296 -1.0L297 -2.6L298 -3.6L299 -3.8L300 -3.8L301 -3.2L302 -6.2L303 -7.8L304 -8.0L305 -7.8L306 -6.0L307 -5.7L308 -5.7L309 -5.4L310 -3.9L311 -4.3L312 -4.7L313 -4.8L314 -4.6L315 -4.9L316 -4.9L317 -4.2L318 -2.4L319 -0.6L320 0ZM320 0L321 -1.0L322 -2.5L323 -3.4L324 -3.5L325 -3.5L326 -2.9L327 -1.5L328 -0.3L329 -1.0L330 -2.2L331 -2.9L332 -2.9L333 -2.9L334 -4.6L335 -5.8L336 -5.9L337 -5.7L338 -4.4L339 -4.3L340 -4.3L341 -3.9L342 -2.4L343 -0.7L344 -0.5L345 -2.3L346 -4.2L347 -4.9L348 -5.2L349 -7.4L350 -7.9L351 -7.8L352 -6.7L353 -3.9L354 -3.9L355 -3.3L356 -4.9L357 -5.5L358 -5.5L359 -5.0L360 -3.2L361 -1.0L362 0ZM369 0L370 -0.6L371 -1.6L372 -2.2L373 -2.4L374 -2.3L375 -2.0L376 -1.6L377 -2.3L378 -2.4L379 -2.3L380 -1.9L381 -1.0L382 0ZM412 0L413 -0.4L414 -1.3L415 -2.1L416 -2.4L417 -2.4L418 -2.1L419 -1.3L420 -0.4L421 0ZM434 0L435 -0.5L436 -1.1L437 -1.5L438 -1.6L439 -1.5L440 -1.3L441 -0.6L442 0ZM454 0L455 -0.5L456 -2.0L457 -3.7L458 -4.3L459 -6.8L460 -7.8L461 -7.9L462 -7.4L463 -5.1L464 -3.7L465 -2.5L466 -0.9L467 0ZM471 0L472 -0.4L473 -1.2L474 -1.8L475 -2.0L476 -2.0L477 -1.7L478 -1.1L479 -0.3L480 0ZM485 0L486 -1.0L487 -2.0L488 -2.3L489 -2.4L490 -2.2L491 -1.6L492 -0.6L493 0ZM507 0L508 -0.3L509 -1.3L510 -2.5L511 -2.9L512 -2.9L513 -3.3L514 -5.9L515 -6.8L516 -9.2L517 -13.0L518 -13.7L519 -13.6L520 -11.6L521 -6.9L522 -6.4L523 -4.2L524 -2.2L525 -3.5L526 -3.9L527 -3.9L528 -3.6L529 -2.2L530 -1.8L531 -2.7L532 -2.9L533 -2.9L534 -2.6L535 -1.5L536 -3.6L537 -5.2L538 -5.5L539 -5.5L540 -4.7L541 -2.8L542 -2.9L543 -2.9L544 -2.5L545 -1.3L546 -0.3L547 -0.7L548 -1.7L549 -2.3L550 -2.4L551 -2.3L552 -1.9L553 -0.9L554 -1.1L555 -3.7L556 -6.1L557 -6.9L558 -9.1L559 -11.2L560 -11.4L561 -11.0L562 -8.4L563 -6.9L564 -6.2L565 -3.8L566 -3.0L567 -3.5L568 -3.5L569 -3.4L570 -2.9L571 -5.1L572 -5.9L573 -6.9L574 -9.7L575 -10.2L576 -10.1L577 -8.6L578 -6.9L579 -6.3L580 -4.2L581 -1.3L582 -1.1L583 -1.8L584 -2.0L585 -2.0L586 -1.8L587 -1.1L588 -1.5L589 -2.2L590 -2.4L591 -2.3L592 -2.1L593 -2.6L594 -3.7L595 -3.9L596 -3.9L597 -3.3L598 -1.8L599 -2.1L600 -2.8L601 -2.9L602 -2.9L603 -2.4L604 -1.2L605 -0.3L606 0ZM608 0L609 -0.3L610 -1.6L611 -3.4L612 -4.2L613 -4.3L614 -5.9L615 -6.3L616 -6.2L617 -5.4L618 -3.0L619 -2.8L620 -2.1L621 -0.9L622 0ZM624 0L625 -0.4L626 -1.4L627 -2.5L628 -2.9L629 -2.9L630 -2.8L631 -3.5L632 -3.9L633 -3.9L634 -3.6L635 -2.4L636 -0.8L637 -1.4L638 -2.1L639 -2.4L640 -2.4L641 -2.1L642 -2.4L643 -3.4L644 -3.5L645 -3.5L646 -4.4L647 -6.0L648 -6.3L649 -6.2L650 -5.2L651 -3.8L652 -3.9L653 -5.2L654 -6.7L655 -6.9L656 -6.7L657 -5.4L658 -4.2L659 -4.3L660 -4.2L661 -3.3L662 -1.7L663 -3.5L664 -4.3L665 -4.3L666 -5.7L667 -6.8L668 -6.9L669 -9.5L670 -10.2L671 -10.2L672 -8.9L673 -5.9L674 -5.8L675 -4.8L676 -2.9L677 -2.9L678 -2.9L679 -3.8L680 -4.3L681 -4.3L682 -4.0L683 -2.6L684 -0.8L685 0ZM702 0L703 -0.7L704 -2.4L705 -3.9L706 -4.3L707 -4.3L708 -3.9L709 -2.5L710 -0.7L711 -0.3L712 -1.8L713 -3.8L714 -4.8L715 -6.7L716 -7.4L717 -7.5L718 -6.8L719 -4.4L720 -3.4L721 -1.9L722 -2.1L723 -4.1L724 -4.9L725 -4.9L726 -4.7L727 -5.5L728 -5.5L729 -8.1L730 -9.4L731 -9.4L732 -8.8L733 -6.9L734 -6.4L735 -4.3L736 -6.1L737 -6.9L738 -6.9L739 -6.3L740 -6.3L741 -7.7L742 -7.9L743 -7.6L744 -5.7L745 -4.3L746 -3.9L747 -2.3L748 -0.6L749 0ZM752 0L753 -1.3L754 -3.3L755 -4.7L756 -4.9L757 -4.9L758 -4.1L759 -2.2L760 -1.3L761 -3.2L762 -4.2L763 -4.3L764 -4.2L765 -3.5L766 -1.8L767 -2.3L768 -2.4L769 -2.3L770 -1.8L771 -0.8L772 -0.4L773 -2.2L774 -4.4L775 -5.4L776 -5.5L777 -5.3L778 -4.0L779 -3.9L780 -3.5L781 -2.7L782 -5.0L783 -5.8L784 -5.9L785 -6.8L786 -7.8L787 -7.9L788 -7.4L789 -6.6L790 -7.4L791 -7.5L792 -6.9L793 -4.6L794 -2.9L795 -2.7L796 -1.7L797 -0.5L798 0ZM813 0L814 -1.0L815 -2.5L816 -3.4L817 -3.6L818 -4.7L819 -4.9L820 -4.8L821 -3.9L822 -1.9L823 -0.4L824 0ZM828 0L829 -0.5L830 -2.4L831 -4.8L832 -5.8L833 -8.4L834 -10.1L835 -10.2L836 -9.8L837 -7.1L838 -5.9L839 -5.2L840 -3.0L841 -0.8L842 0ZM844 0L845 -0.4L846 -1.3L847 -2.1L848 -2.3L849 -2.4L850 -2.2L851 -3.2L852 -3.5L853 -3.5L854 -3.2L855 -2.0L856 -2.7L857 -2.9L858 -2.9L859 -2.6L860 -1.5L861 -0.7L862 -1.9L863 -2.8L864 -2.9L865 -2.9L866 -4.7L867 -6.6L868 -7.2L869 -11.9L870 -13.3L871 -13.3L872 -12.3L873 -7.9L874 -6.5L875 -4.6L876 -1.7L877 0ZM878 0L879 -0.5L880 -1.6L881 -2.6L882 -2.9L883 -4.4L884 -4.9L885 -4.9L886 -4.5L887 -2.8L888 -0.8L889 -1.9L890 -3.6L891 -4.3L892 -4.3L893 -6.3L894 -7.4L895 -7.5L896 -7.1L897 -5.9L898 -5.9L899 -7.2L900 -8.2L901 -8.2L902 -7.7L903 -5.1L904 -4.9L905 -4.8L906 -4.0L907 -2.0L908 -0.4L909 0ZM909 0L910 -0.6L911 -1.8L912 -2.7L913 -2.9L914 -2.9L915 -2.6L916 -1.5L917 -0.4L918 0ZM919 0L920 -0.6L921 -1.6L922 -2.2L923 -2.4L924 -2.3L925 -2.0L926 -2.1L927 -2.8L928 -2.9L929 -2.9L930 -2.4L931 -2.0L932 -3.4L933 -3.9L934 -3.9L935 -3.7L936 -2.4L937 -0.8L938 0ZM938 0L939 -0.3L940 -1.6L941 -3.2L942 -3.9L943 -3.9L944 -4.5L945 -5.4L946 -5.5L947 -5.3L948 -4.2L949 -4.9L950 -4.9L951 -4.6L952 -3.3L953 -3.5L954 -3.5L955 -3.0L955 0Z" fill="#fd6548" stroke="#dd4f33" stroke-width="0.7" stroke-linejoin="round"/>
<line x1="109.60" y1="1898.20" x2="1064.30" y2="1898.20" stroke="#6e2418" stroke-width="1.4" />
<line x1="109.60" y1="1862.50" x2="109.60" y2="1898.80" stroke="#000" stroke-width="1.5" />
<line x1="109.60" y1="1878.20" x2="116.60" y2="1878.20" stroke="#000" stroke-width="1.5" />
<text x="99.60" y="1884.90" font-size="18.8" text-anchor="end" fill="#000" >0.5</text>
<text x="1080.70" y="1887.90" font-size="21" text-anchor="start" fill="#000" >S2</text>
<path transform="translate(109.6,1941.0)" d="M0 0L0 -4.3L1 -7.5L2 -8.5L3 -8.6L4 -8.0L5 -5.4L6 -5.3L7 -5.1L8 -5.5L9 -5.7L10 -5.6L11 -4.6L12 -4.7L13 -4.8L14 -4.6L15 -3.5L16 -1.5L17 -1.5L18 -3.8L19 -5.1L20 -5.3L21 -5.3L22 -4.4L23 -2.2L24 -0.5L25 0ZM32 0L33 -0.9L34 -2.6L35 -3.9L36 -4.2L37 -4.2L38 -3.7L39 -2.1L40 -0.5L41 0ZM42 0L43 -1.1L44 -2.3L45 -2.8L46 -3.1L47 -5.7L48 -6.6L49 -7.2L50 -9.3L51 -9.5L52 -9.3L53 -7.4L54 -6.7L55 -6.0L56 -3.8L57 -2.3L58 -2.3L59 -2.0L60 -1.1L61 -0.3L62 0ZM77 0L78 -0.9L79 -2.1L80 -2.8L81 -2.9L82 -3.6L83 -6.0L84 -6.6L85 -6.7L86 -6.1L87 -7.5L88 -8.0L89 -8.0L90 -7.0L91 -5.7L92 -5.7L93 -5.3L94 -3.9L95 -4.2L96 -4.2L97 -3.7L98 -4.5L99 -5.3L100 -5.3L101 -5.1L102 -3.6L103 -3.0L104 -6.1L105 -7.5L106 -8.7L107 -11.9L108 -12.4L109 -12.2L110 -10.1L111 -8.6L112 -8.0L113 -5.4L114 -2.9L115 -2.6L116 -1.6L117 -0.5L118 0ZM122 0L123 -0.5L124 -2.4L125 -4.7L126 -5.6L127 -7.8L128 -9.1L129 -9.1L130 -8.6L131 -6.1L132 -4.7L133 -3.7L134 -1.7L135 -0.3L136 0ZM136 0L137 -0.3L138 -2.0L139 -4.8L140 -6.4L141 -6.7L142 -7.8L143 -8.0L144 -7.8L145 -6.2L146 -3.8L147 -3.7L148 -2.7L149 -2.0L150 -2.3L151 -2.3L152 -2.1L153 -1.4L154 -2.4L155 -3.6L156 -3.8L157 -3.8L158 -6.4L159 -7.2L160 -7.2L161 -6.7L162 -5.2L163 -5.3L164 -5.2L165 -4.1L166 -2.9L167 -2.8L168 -2.1L169 -0.8L170 0ZM170 0L171 -0.4L172 -1.3L173 -2.1L174 -2.3L175 -2.3L176 -2.0L177 -1.2L178 -0.7L179 -1.7L180 -2.2L181 -2.3L182 -2.2L183 -1.8L184 -0.9L185 0ZM185 0L186 -0.3L187 -1.1L188 -2.0L189 -2.3L190 -2.3L191 -2.1L192 -1.5L193 -0.5L194 0ZM195 0L196 -0.6L197 -1.6L198 -2.2L199 -2.3L200 -2.3L201 -1.9L202 -2.2L203 -4.5L204 -5.6L205 -5.7L206 -5.5L207 -4.2L208 -2.4L209 -4.2L210 -4.7L211 -4.8L212 -4.4L213 -3.0L214 -3.9L215 -4.2L216 -4.2L217 -3.7L218 -2.2L219 -2.5L220 -3.3L221 -3.4L222 -3.4L223 -2.8L224 -3.8L225 -5.4L226 -5.7L227 -5.7L228 -4.8L229 -2.8L230 -4.7L231 -5.3L232 -6.7L233 -10.5L234 -11.4L235 -11.4L236 -11.6L237 -12.4L238 -12.3L239 -13.1L240 -13.7L241 -13.5L242 -11.2L243 -9.5L244 -9.3L245 -7.4L246 -5.6L247 -5.7L248 -5.5L249 -4.2L250 -4.7L251 -5.4L252 -8.6L253 -9.5L254 -9.5L255 -8.6L256 -6.7L257 -7.9L258 -10.9L259 -11.4L260 -11.3L261 -9.5L262 -5.7L263 -5.6L264 -4.5L265 -3.9L266 -4.7L267 -4.8L268 -4.6L269 -5.3L270 -6.1L271 -6.1L272 -5.7L273 -4.4L274 -4.8L275 -4.7L276 -4.3L277 -2.6L278 -1.4L279 -3.5L280 -4.6L281 -4.8L282 -4.7L283 -3.8L284 -2.3L285 -2.8L286 -2.9L287 -2.8L288 -2.1L289 -0.8L290 0ZM292 0L293 -1.0L294 -3.0L295 -4.4L296 -4.8L297 -4.7L298 -4.1L299 -2.7L300 -2.9L301 -2.8L302 -2.3L303 -2.3L304 -2.8L305 -2.9L306 -2.8L307 -2.1L308 -3.6L309 -4.2L310 -4.2L311 -3.9L312 -2.7L313 -3.1L314 -3.4L315 -3.4L316 -3.1L317 -1.9L318 -1.3L319 -1.9L320 -2.0L321 -1.9L322 -1.6L323 -0.9L324 0ZM329 0L330 -1.4L331 -3.0L332 -3.8L333 -3.9L334 -3.8L335 -4.4L336 -5.4L337 -5.5L338 -5.3L339 -4.1L340 -2.9L341 -2.8L342 -2.1L343 -0.9L344 -0.9L345 -2.8L346 -4.0L347 -4.3L348 -4.3L349 -5.2L350 -5.5L351 -5.5L352 -4.7L353 -2.6L354 -0.6L355 -0.7L356 -2.4L357 -3.9L358 -4.3L359 -4.3L360 -3.9L361 -2.5L362 -2.4L363 -2.1L364 -1.3L365 -0.4L366 -0.6L367 -1.9L368 -2.8L369 -2.9L370 -4.7L371 -5.5L372 -5.5L373 -5.2L374 -3.6L375 -2.3L376 -2.0L377 -1.1L378 -1.0L379 -3.3L380 -5.3L381 -5.9L382 -6.5L383 -8.6L384 -8.8L385 -8.7L386 -7.0L387 -3.9L388 -3.6L389 -2.4L390 -0.8L391 0ZM403 0L404 -0.3L405 -1.2L406 -2.1L407 -2.3L408 -2.4L409 -2.2L410 -2.1L411 -2.3L412 -2.4L413 -2.2L414 -1.4L415 -0.5L416 0ZM417 0L418 -0.5L419 -1.4L420 -2.2L421 -2.4L422 -2.3L423 -2.1L424 -1.2L425 -0.3L426 0ZM430 0L431 -0.7L432 -1.7L433 -2.3L434 -2.4L435 -2.3L436 -1.9L437 -2.3L438 -2.4L439 -2.3L440 -1.9L441 -0.9L442 0ZM456 0L457 -0.9L458 -1.7L459 -1.9L460 -2.0L461 -1.9L462 -1.3L463 -0.5L464 -0.3L465 -1.1L466 -1.7L467 -2.0L468 -2.0L469 -1.8L470 -1.2L471 -1.1L472 -1.8L473 -2.0L474 -2.0L475 -1.8L476 -1.1L477 -1.2L478 -1.8L479 -2.0L480 -2.0L481 -1.7L482 -1.0L483 -0.3L484 0ZM492 0L493 -0.6L494 -1.5L495 -1.9L496 -2.0L497 -1.9L498 -1.5L499 -1.6L500 -3.4L501 -4.2L502 -4.3L503 -4.2L504 -3.5L505 -3.5L506 -3.4L507 -2.6L508 -1.1L509 -0.4L510 -2.0L511 -3.6L512 -4.3L513 -4.3L514 -4.1L515 -2.9L516 -2.9L517 -2.8L518 -3.4L519 -3.9L520 -6.1L521 -6.8L522 -6.9L523 -6.3L524 -4.2L525 -2.9L526 -2.4L527 -1.2L528 -3.7L529 -5.8L530 -6.3L531 -6.3L532 -6.4L533 -6.9L534 -6.8L535 -6.0L536 -3.5L537 -2.9L538 -2.9L539 -2.5L540 -1.4L541 -0.4L542 0ZM550 0L551 -0.7L552 -1.5L553 -1.9L554 -2.0L555 -1.9L556 -1.5L557 -0.7L558 0ZM558 0L559 -0.5L560 -2.2L561 -4.5L562 -5.4L563 -5.5L564 -8.2L565 -8.8L566 -8.8L567 -7.8L568 -5.5L569 -5.4L570 -4.5L571 -2.3L572 -0.5L573 -0.6L574 -2.2L575 -3.8L576 -4.3L577 -4.3L578 -4.0L579 -4.4L580 -4.9L581 -4.9L582 -4.5L583 -2.9L584 -2.9L585 -2.7L586 -1.6L587 -0.5L588 -1.2L589 -3.5L590 -5.1L591 -5.5L592 -5.5L593 -7.8L594 -8.2L595 -8.2L596 -7.1L597 -5.5L598 -5.4L599 -4.6L600 -2.5L601 -0.6L602 0ZM605 0L606 -0.7L607 -1.5L608 -1.9L609 -2.0L610 -1.9L611 -1.5L612 -2.2L613 -4.7L614 -5.8L615 -5.9L616 -8.8L617 -10.6L618 -10.8L619 -10.4L620 -7.7L621 -6.9L622 -6.6L623 -4.8L624 -1.9L625 -0.3L626 0ZM628 0L629 -0.9L630 -3.3L631 -5.5L632 -6.3L633 -6.3L634 -6.7L635 -7.4L636 -7.5L637 -6.8L638 -6.3L639 -5.5L640 -4.7L641 -3.6L642 -1.5L643 0ZM653 0L654 -0.5L655 -1.4L656 -2.2L657 -2.4L658 -2.3L659 -2.1L660 -1.2L661 -0.3L662 -1.4L663 -2.9L664 -3.5L665 -3.5L666 -3.4L667 -4.1L668 -4.9L669 -5.6L670 -7.5L671 -7.9L672 -7.7L673 -6.4L674 -4.9L675 -4.9L676 -5.1L677 -5.9L678 -5.9L679 -5.5L680 -4.8L681 -4.9L682 -4.8L683 -3.7L684 -1.7L685 -0.3L686 -1.0L687 -1.9L688 -2.3L689 -2.4L690 -2.3L691 -1.7L692 -0.7L693 -0.5L694 -1.5L695 -2.2L696 -2.4L697 -2.3L698 -2.7L699 -3.7L700 -3.9L701 -4.1L702 -5.6L703 -5.9L704 -5.8L705 -4.9L706 -4.7L707 -4.9L708 -4.8L709 -3.9L710 -3.4L711 -3.5L712 -3.5L713 -2.8L714 -1.8L715 -2.3L716 -2.4L717 -2.3L718 -1.8L719 -0.8L720 0ZM727 0L728 -0.6L729 -1.6L730 -2.2L731 -2.4L732 -2.3L733 -2.0L734 -1.1L735 -1.3L736 -2.1L737 -2.3L738 -2.4L739 -2.2L740 -1.4L741 -0.4L742 0ZM742 0L743 -1.1L744 -3.3L745 -5.1L746 -5.5L747 -7.7L748 -8.2L749 -8.2L750 -7.2L751 -4.2L752 -3.8L753 -4.6L754 -4.9L755 -6.5L756 -6.9L757 -6.8L758 -5.8L759 -3.1L760 -0.7L761 0ZM768 0L769 -1.1L770 -2.3L771 -2.9L772 -2.9L773 -2.9L774 -4.8L775 -5.8L776 -5.9L777 -7.2L778 -7.8L779 -7.8L780 -7.0L781 -6.8L782 -6.9L783 -6.5L784 -4.7L785 -4.6L786 -4.9L787 -4.9L788 -4.2L789 -2.9L790 -2.9L791 -2.7L792 -1.8L793 -0.6L794 0ZM797 0L798 -0.5L799 -1.4L800 -2.2L801 -2.4L802 -2.3L803 -2.1L804 -1.2L805 -1.5L806 -2.2L807 -2.4L808 -2.3L809 -2.0L810 -1.1L811 -1.6L812 -2.2L813 -2.4L814 -2.3L815 -2.0L816 -1.0L817 0ZM819 0L820 -0.8L821 -1.8L822 -2.3L823 -2.4L824 -2.3L825 -1.8L826 -1.1L827 -2.3L828 -2.9L829 -2.9L830 -2.9L831 -2.2L832 -1.5L833 -2.9L834 -3.5L835 -3.5L836 -5.1L837 -5.5L838 -5.5L839 -4.8L840 -2.8L841 -2.2L842 -1.6L843 -0.6L844 0ZM846 0L847 -0.3L848 -1.8L849 -4.3L850 -5.7L851 -5.9L852 -7.6L853 -7.9L854 -7.7L855 -6.2L856 -4.3L857 -4.6L858 -5.8L859 -5.9L860 -6.7L861 -7.8L862 -7.9L863 -7.4L864 -5.2L865 -3.3L866 -2.3L867 -0.8L868 -0.8L869 -2.1L870 -2.8L871 -2.9L872 -4.0L873 -5.3L874 -5.5L875 -5.4L876 -4.4L877 -2.4L878 -2.2L879 -1.5L880 -0.5L881 -0.4L882 -1.3L883 -2.1L884 -2.4L885 -2.4L886 -2.1L887 -1.4L888 -2.5L889 -4.9L890 -5.8L891 -7.6L892 -10.4L893 -10.8L894 -11.7L895 -12.2L896 -12.0L897 -9.8L898 -6.9L899 -6.4L900 -4.4L901 -2.1L902 -2.3L903 -2.4L904 -2.2L905 -1.4L906 -0.6L907 -2.1L908 -3.2L909 -3.5L910 -4.5L911 -6.9L912 -7.5L913 -7.4L914 -6.6L915 -4.9L916 -4.7L917 -3.3L918 -1.3L919 0ZM925 0L926 -0.8L927 -3.3L928 -5.9L929 -6.8L930 -8.8L931 -11.4L932 -11.8L933 -14.5L934 -15.7L935 -15.7L936 -13.9L937 -9.8L938 -9.6L939 -7.4L940 -3.3L941 -2.7L942 -2.5L943 -4.8L944 -5.8L945 -5.9L946 -10.7L947 -12.6L948 -12.8L949 -12.1L950 -8.8L951 -8.7L952 -7.2L953 -3.6L954 -2.2L955 -1.5L955 0Z" fill="#fd6548" stroke="#dd4f33" stroke-width="0.7" stroke-linejoin="round"/>
<line x1="109.60" y1="1941.00" x2="1064.30" y2="1941.00" stroke="#6e2418" stroke-width="1.4" />
<line x1="109.60" y1="1905.30" x2="109.60" y2="1941.60" stroke="#000" stroke-width="1.5" />
<line x1="109.60" y1="1921.00" x2="116.60" y2="1921.00" stroke="#000" stroke-width="1.5" />
<text x="99.60" y="1927.70" font-size="18.8" text-anchor="end" fill="#000" >0.5</text>
<text x="1080.70" y="1930.70" font-size="21" text-anchor="start" fill="#000" >S3</text>
<path transform="translate(109.6,1983.6)" d="M0 0L1 -0.3L2 -1.4L3 -3.0L4 -3.7L5 -4.2L6 -5.8L7 -6.1L8 -6.0L9 -5.1L10 -3.7L11 -3.1L12 -1.5L13 -0.3L14 -1.5L15 -4.3L16 -6.3L17 -6.7L18 -8.8L19 -10.4L20 -10.5L21 -11.1L22 -11.4L23 -11.2L24 -9.0L25 -7.6L26 -6.6L27 -3.8L28 -4.2L29 -4.2L30 -4.0L31 -5.1L32 -5.7L33 -5.7L34 -5.2L35 -3.3L36 -1.5L37 -2.2L38 -2.3L39 -2.3L40 -2.8L41 -2.9L42 -2.8L43 -2.3L44 -1.1L45 0ZM47 0L48 -0.4L49 -1.5L50 -2.5L51 -2.8L52 -2.9L53 -2.6L54 -1.8L55 -2.7L56 -2.9L57 -2.8L58 -2.5L59 -1.4L60 -1.0L61 -2.2L62 -2.8L63 -2.9L64 -2.8L65 -2.2L66 -1.0L67 0ZM73 0L74 -1.1L75 -2.3L76 -2.8L77 -2.9L78 -2.8L79 -2.1L80 -0.9L81 0ZM82 0L83 -0.9L84 -1.8L85 -2.2L86 -2.3L87 -2.2L88 -1.6L89 -1.2L90 -2.0L91 -2.3L92 -2.3L93 -2.1L94 -1.4L95 -2.2L96 -3.2L97 -3.4L98 -3.4L99 -4.1L100 -5.5L101 -5.7L102 -5.6L103 -6.8L104 -8.4L105 -8.6L106 -10.8L107 -12.8L108 -13.0L109 -12.3L110 -9.5L111 -9.5L112 -8.9L113 -6.0L114 -2.8L115 -2.3L116 -1.1L117 0ZM122 0L123 -0.3L124 -1.4L125 -2.8L126 -3.4L127 -3.4L128 -3.3L129 -3.7L130 -4.2L131 -4.2L132 -3.9L133 -2.6L134 -2.6L135 -2.9L136 -2.8L137 -2.5L138 -1.5L139 -0.4L140 0ZM157 0L158 -1.1L159 -1.9L160 -2.3L161 -2.3L162 -2.2L163 -1.5L164 -0.6L165 0ZM193 0L194 -1.1L195 -3.1L196 -4.5L197 -5.5L198 -6.6L199 -6.7L200 -6.4L201 -4.7L202 -3.2L203 -2.3L204 -2.8L205 -2.9L206 -2.8L207 -2.1L208 -0.9L209 0ZM216 0L217 -0.8L218 -2.0L219 -2.7L220 -2.9L221 -2.8L222 -3.7L223 -4.2L224 -4.5L225 -6.3L226 -6.7L227 -6.6L228 -5.6L229 -3.1L230 -2.7L231 -3.0L232 -4.8L233 -5.3L234 -5.3L235 -7.1L236 -7.6L237 -7.6L238 -6.6L239 -5.3L240 -5.1L241 -3.7L242 -2.0L243 -4.2L244 -5.2L245 -5.3L246 -5.2L247 -5.2L248 -6.0L249 -6.1L250 -5.8L251 -7.2L252 -8.0L253 -8.0L254 -8.6L255 -10.8L256 -11.0L257 -10.7L258 -8.4L259 -5.7L260 -4.8L261 -2.6L262 -1.1L263 -2.3L264 -2.8L265 -2.9L266 -2.8L267 -2.1L268 -0.9L269 0ZM270 0L271 -0.8L272 -2.5L273 -3.8L274 -4.2L275 -5.3L276 -5.7L277 -5.7L278 -5.0L279 -2.9L280 -2.7L281 -2.0L282 -0.8L283 0ZM283 0L284 -0.4L285 -1.7L286 -3.2L287 -3.8L288 -3.8L289 -5.4L290 -5.7L291 -5.7L292 -4.8L293 -3.4L294 -3.3L295 -2.5L296 -1.1L297 -2.9L298 -4.0L299 -4.2L300 -4.1L301 -5.5L302 -7.0L303 -7.2L304 -7.1L305 -6.6L306 -7.9L307 -8.0L308 -7.7L309 -5.6L310 -2.9L311 -3.1L312 -4.6L313 -4.9L314 -4.9L315 -4.7L316 -4.3L317 -2.6L318 -1.6L319 -2.2L320 -2.4L321 -2.3L322 -3.1L323 -4.1L324 -4.3L325 -4.3L326 -5.7L327 -5.9L328 -5.8L329 -4.7L330 -2.9L331 -2.7L332 -1.9L333 -0.6L334 0ZM334 0L335 -0.9L336 -1.9L337 -2.3L338 -2.4L339 -2.3L340 -1.8L341 -3.6L342 -4.3L343 -4.3L344 -5.3L345 -6.2L346 -6.3L347 -6.0L348 -4.3L349 -2.9L350 -2.8L351 -1.9L352 -0.7L353 0ZM353 0L354 -0.8L355 -2.1L356 -2.8L357 -2.9L358 -2.9L359 -2.4L360 -1.2L361 -0.3L362 0ZM363 0L364 -0.6L365 -1.8L366 -2.7L367 -2.9L368 -2.9L369 -3.2L370 -4.6L371 -4.9L372 -4.9L373 -4.2L374 -3.9L375 -3.9L376 -3.3L377 -1.8L378 -0.4L379 0ZM412 0L413 -0.5L414 -1.7L415 -2.7L416 -2.9L417 -2.9L418 -2.7L419 -2.4L420 -2.3L421 -2.1L422 -1.3L423 -0.4L424 0ZM462 0L463 -0.8L464 -2.9L465 -4.9L466 -5.5L467 -5.5L468 -5.7L469 -5.9L470 -5.8L471 -4.8L472 -3.9L473 -3.9L474 -3.5L475 -2.2L476 -2.4L477 -2.3L478 -2.1L479 -1.2L480 -0.3L481 0ZM495 0L496 -0.8L497 -1.8L498 -2.3L499 -2.4L500 -2.3L501 -1.8L502 -0.8L503 0ZM510 0L511 -0.3L512 -1.4L513 -2.5L514 -2.9L515 -2.9L516 -2.8L517 -2.2L518 -3.8L519 -4.3L520 -4.3L521 -4.0L522 -2.7L523 -2.3L524 -2.4L525 -2.2L526 -2.1L527 -2.4L528 -2.4L529 -2.1L530 -1.3L531 -0.4L532 0ZM533 0L534 -0.5L535 -1.5L536 -2.2L537 -2.4L538 -2.3L539 -2.0L540 -1.1L541 -0.6L542 -1.6L543 -2.3L544 -2.4L545 -2.3L546 -2.0L547 -1.0L548 0ZM552 0L553 -0.8L554 -1.8L555 -2.3L556 -2.4L557 -2.3L558 -1.8L559 -0.8L560 0ZM561 0L562 -0.5L563 -2.4L564 -4.6L565 -5.4L566 -6.7L567 -9.0L568 -9.4L569 -9.3L570 -7.7L571 -4.9L572 -4.6L573 -3.2L574 -1.2L575 0ZM576 0L577 -0.9L578 -3.2L579 -5.3L580 -5.9L581 -8.5L582 -9.4L583 -9.4L584 -8.5L585 -5.3L586 -3.8L587 -3.1L588 -1.5L589 -2.5L590 -4.7L591 -5.5L592 -5.5L593 -5.2L594 -3.7L595 -1.3L596 0ZM597 0L598 -1.7L599 -4.2L600 -5.6L601 -5.9L602 -5.8L603 -5.5L604 -5.5L605 -5.0L606 -3.2L607 -1.0L608 -1.8L609 -2.3L610 -2.4L611 -2.3L612 -1.8L613 -1.1L614 -2.4L615 -2.9L616 -2.9L617 -2.8L618 -2.2L619 -2.1L620 -4.1L621 -4.9L622 -4.9L623 -4.7L624 -3.7L625 -4.3L626 -4.3L627 -4.1L628 -2.9L629 -2.1L630 -2.3L631 -2.4L632 -2.2L633 -1.5L634 -2.7L635 -4.4L636 -4.9L637 -5.4L638 -5.5L639 -5.9L640 -5.9L641 -5.3L642 -3.3L643 -0.9L644 0ZM660 0L661 -0.3L662 -1.4L663 -2.9L664 -3.5L665 -3.5L666 -6.5L667 -7.8L668 -7.9L669 -11.3L670 -12.2L671 -12.1L672 -10.7L673 -7.9L674 -7.7L675 -6.3L676 -5.5L677 -5.5L678 -5.1L679 -3.5L680 -2.4L681 -2.2L682 -1.4L683 -0.5L684 0ZM684 0L685 -0.5L686 -1.7L687 -2.7L688 -2.9L689 -2.9L690 -2.6L691 -1.6L692 -0.4L693 0ZM703 0L704 -0.9L705 -2.1L706 -2.8L707 -2.9L708 -2.9L709 -2.4L710 -1.2L711 -1.0L712 -2.3L713 -2.9L714 -2.9L715 -2.9L716 -2.2L717 -3.9L718 -4.8L719 -5.6L720 -6.8L721 -6.9L722 -6.6L723 -4.9L724 -2.8L725 -2.1L726 -0.8L727 0ZM727 0L728 -0.4L729 -1.4L730 -2.6L731 -2.9L732 -2.9L733 -2.8L734 -1.9L735 -1.9L736 -3.2L737 -3.5L738 -3.5L739 -3.2L740 -2.5L741 -3.9L742 -4.3L743 -4.8L744 -6.1L745 -6.3L746 -6.1L747 -4.9L748 -2.9L749 -2.6L750 -1.5L751 -0.7L752 -2.0L753 -2.8L754 -2.9L755 -2.9L756 -2.5L757 -1.4L758 -1.0L759 -2.5L760 -3.4L761 -3.5L762 -3.5L763 -2.9L764 -1.4L765 -2.7L766 -3.4L767 -3.5L768 -3.5L769 -2.7L770 -1.3L771 0ZM773 0L774 -0.7L775 -2.0L776 -2.8L777 -2.9L778 -2.9L779 -2.5L780 -1.3L781 -0.3L782 0ZM784 0L785 -0.4L786 -1.5L787 -2.6L788 -2.9L789 -2.9L790 -2.7L791 -2.6L792 -2.9L793 -2.9L794 -2.7L795 -1.8L796 -0.6L797 0ZM797 0L798 -0.8L799 -2.6L800 -4.0L801 -4.3L802 -4.6L803 -5.8L804 -5.9L805 -5.7L806 -4.4L807 -3.5L808 -3.5L809 -3.0L810 -1.7L811 -0.4L812 0ZM813 0L814 -0.3L815 -1.4L816 -2.5L817 -2.9L818 -2.9L819 -2.8L820 -1.9L821 -0.7L822 0ZM822 0L823 -0.3L824 -1.6L825 -3.4L826 -4.2L827 -4.3L828 -7.1L829 -8.7L830 -9.6L831 -11.6L832 -11.8L833 -11.3L834 -9.7L835 -9.8L836 -9.4L837 -8.2L838 -8.2L839 -7.8L840 -5.6L841 -4.9L842 -4.9L843 -4.2L844 -2.3L845 -2.6L846 -2.9L847 -2.9L848 -2.7L849 -3.9L850 -4.3L851 -4.3L852 -5.7L853 -5.9L854 -5.8L855 -4.7L856 -2.9L857 -2.6L858 -1.6L859 -0.4L860 0ZM865 0L866 -1.0L867 -2.5L868 -3.4L869 -3.5L870 -4.9L871 -6.6L872 -6.9L873 -8.0L874 -8.3L875 -8.1L876 -6.6L877 -4.9L878 -5.3L879 -6.7L880 -6.9L881 -6.7L882 -5.3L883 -2.9L884 -2.2L885 -1.0L886 0ZM886 0L887 -0.5L888 -2.1L889 -4.1L890 -4.9L891 -7.6L892 -10.4L893 -10.8L894 -14.2L895 -14.7L896 -14.5L897 -11.9L898 -8.8L899 -8.3L900 -5.7L901 -2.4L902 -2.2L903 -1.5L904 -3.3L905 -5.3L906 -5.9L907 -5.9L908 -5.4L909 -3.9L910 -3.9L911 -3.5L912 -3.6L913 -5.5L914 -5.9L915 -5.9L916 -5.2L917 -3.5L918 -3.5L919 -3.1L920 -1.7L921 -0.4L922 0ZM923 0L924 -0.4L925 -1.8L926 -3.3L927 -3.9L928 -3.9L929 -5.8L930 -7.6L931 -7.9L932 -7.7L933 -9.9L934 -10.2L935 -10.0L936 -11.9L937 -12.2L938 -11.8L939 -9.2L940 -4.1L941 -5.6L942 -6.8L943 -6.9L944 -8.9L945 -10.7L946 -10.8L947 -11.2L948 -13.2L949 -13.4L950 -12.7L951 -13.6L952 -13.7L953 -12.9L954 -14.6L955 -14.7L955 0Z" fill="#fd6548" stroke="#dd4f33" stroke-width="0.7" stroke-linejoin="round"/>
<line x1="109.60" y1="1983.60" x2="1064.30" y2="1983.60" stroke="#6e2418" stroke-width="1.4" />
<line x1="109.60" y1="1947.90" x2="109.60" y2="1984.20" stroke="#000" stroke-width="1.5" />
<line x1="109.60" y1="1963.60" x2="116.60" y2="1963.60" stroke="#000" stroke-width="1.5" />
<text x="99.60" y="1970.30" font-size="18.8" text-anchor="end" fill="#000" >0.5</text>
<text x="1080.70" y="1973.30" font-size="21" text-anchor="start" fill="#000" >S4</text>
<path transform="translate(109.6,2031.8)" d="M0 0L0 -2.2L1 -2.3L2 -2.2L3 -1.8L4 -0.9L5 0ZM7 0L8 -1.0L9 -1.7L10 -1.9L11 -1.9L12 -1.8L13 -1.2L14 -0.4L15 -0.5L16 -1.3L17 -1.8L18 -1.9L19 -1.9L20 -1.6L21 -0.9L22 0ZM22 0L23 -0.8L24 -1.5L25 -1.9L26 -1.9L27 -1.8L28 -1.4L29 -0.6L30 -1.3L31 -2.0L32 -2.3L33 -2.3L34 -2.6L35 -3.9L36 -4.2L37 -4.2L38 -3.7L39 -2.7L40 -2.9L41 -2.8L42 -2.3L43 -1.2L44 -0.8L45 -1.6L46 -1.9L47 -1.9L48 -1.8L49 -1.3L50 -0.5L51 0ZM61 0L62 -0.9L63 -1.8L64 -2.2L65 -2.3L66 -2.2L67 -1.7L68 -0.7L69 0ZM73 0L74 -1.0L75 -2.7L76 -3.9L77 -4.2L78 -4.2L79 -3.6L80 -2.0L81 -0.5L82 0ZM83 0L84 -0.8L85 -3.5L86 -6.7L87 -7.9L88 -8.0L89 -7.6L90 -8.5L91 -8.6L92 -8.0L93 -6.7L94 -6.7L95 -6.0L96 -3.8L97 -1.1L98 0ZM99 0L100 -0.4L101 -2.1L102 -4.4L103 -5.6L104 -8.3L105 -11.7L106 -12.4L107 -12.3L108 -11.3L109 -11.4L110 -10.8L111 -7.6L112 -7.0L113 -10.8L114 -11.8L115 -11.8L116 -10.6L117 -7.6L118 -7.4L119 -5.6L120 -2.8L121 -2.9L122 -2.8L123 -2.3L124 -2.8L125 -3.4L126 -3.4L127 -3.3L128 -2.5L129 -1.7L130 -1.9L131 -1.9L132 -1.8L133 -1.2L134 -0.4L135 0ZM140 0L141 -1.2L142 -2.7L143 -3.4L144 -3.4L145 -3.3L146 -4.5L147 -5.3L148 -5.3L149 -5.1L150 -3.6L151 -4.3L152 -4.7L153 -4.8L154 -4.3L155 -2.8L156 -3.2L157 -3.4L158 -3.4L159 -2.9L160 -1.8L161 -1.9L162 -1.9L163 -1.5L164 -0.8L165 0ZM171 0L172 -0.3L173 -0.9L174 -1.4L175 -1.5L176 -1.5L177 -1.3L178 -0.8L179 0ZM181 0L182 -0.7L183 -1.5L184 -1.9L185 -1.9L186 -1.8L187 -1.4L188 -0.6L189 -2.0L190 -3.4L191 -3.8L192 -3.8L193 -3.5L194 -3.9L195 -4.2L196 -4.2L197 -3.7L198 -2.2L199 -1.1L200 -2.5L201 -3.3L202 -3.4L203 -4.8L204 -6.0L205 -6.1L206 -5.9L207 -4.5L208 -3.4L209 -3.4L210 -3.0L211 -1.7L212 -1.9L213 -1.9L214 -1.7L215 -1.1L216 -0.3L217 0ZM217 0L218 -0.6L219 -1.4L220 -1.8L221 -1.9L222 -1.9L223 -1.5L224 -0.8L225 0ZM234 0L235 -1.0L236 -2.8L237 -4.0L238 -4.2L239 -4.2L240 -3.5L241 -1.9L242 -0.4L243 0ZM249 0L250 -0.7L251 -2.4L252 -3.8L253 -4.2L254 -4.2L255 -4.7L256 -6.8L257 -7.2L258 -7.2L259 -6.2L260 -5.7L261 -5.6L262 -4.7L263 -2.7L264 -5.4L265 -6.6L266 -6.7L267 -6.4L268 -5.3L269 -6.1L270 -6.1L271 -5.7L272 -3.9L273 -1.4L274 0ZM274 0L275 -0.8L276 -2.3L277 -3.2L278 -3.4L279 -3.4L280 -2.9L281 -1.6L282 -1.6L283 -3.3L284 -4.1L285 -4.2L286 -5.1L287 -6.0L288 -6.1L289 -5.8L290 -4.2L291 -1.6L292 0ZM292 0L293 -0.6L294 -1.8L295 -2.7L296 -2.9L297 -2.8L298 -2.5L299 -1.7L300 -4.0L301 -5.2L302 -5.3L303 -5.2L304 -4.2L305 -4.7L306 -5.6L307 -5.7L308 -5.5L309 -4.0L310 -4.7L311 -5.3L312 -5.3L313 -4.9L314 -4.3L315 -3.8L316 -5.2L317 -5.5L318 -5.5L319 -4.7L320 -2.6L321 -2.8L322 -2.9L323 -2.9L324 -2.4L325 -3.2L326 -4.2L327 -4.3L328 -5.2L329 -6.7L330 -6.9L331 -6.7L332 -5.4L333 -4.2L334 -4.3L335 -4.2L336 -3.3L337 -4.4L338 -5.4L339 -5.5L340 -5.3L341 -4.0L342 -2.9L343 -2.9L344 -2.8L345 -2.1L346 -3.0L347 -3.5L348 -3.5L349 -3.3L350 -2.3L351 -0.9L352 0ZM352 0L353 -0.6L354 -2.3L355 -3.8L356 -4.3L357 -4.3L358 -4.0L359 -5.3L360 -5.9L361 -5.9L362 -5.3L363 -3.3L364 -2.4L365 -2.3L366 -2.1L367 -2.7L368 -4.0L369 -4.3L370 -4.3L371 -3.8L372 -2.6L373 -3.7L374 -3.9L375 -3.9L376 -3.3L377 -4.1L378 -4.3L379 -4.3L380 -5.0L381 -5.5L382 -5.5L383 -5.0L384 -3.2L385 -2.9L386 -2.9L387 -2.3L388 -1.1L389 0ZM462 0L463 -0.4L464 -1.6L465 -2.6L466 -2.9L467 -2.9L468 -5.4L469 -6.7L470 -6.9L471 -6.7L472 -5.1L473 -3.9L474 -3.5L475 -2.2L476 -2.3L477 -2.4L478 -2.3L479 -1.8L480 -0.8L481 0ZM493 0L494 -1.2L495 -2.7L496 -3.4L497 -3.5L498 -3.5L499 -2.8L500 -2.3L501 -2.9L502 -2.9L503 -2.9L504 -2.2L505 -1.0L506 0ZM506 0L507 -0.6L508 -2.6L509 -4.9L510 -5.8L511 -5.9L512 -9.2L513 -10.7L514 -10.8L515 -12.0L516 -12.8L517 -12.7L518 -10.9L519 -7.9L520 -7.3L521 -5.0L522 -6.1L523 -6.9L524 -6.9L525 -8.9L526 -9.8L527 -9.8L528 -13.5L529 -14.7L530 -14.7L531 -13.2L532 -10.8L533 -10.5L534 -8.3L535 -3.8L536 -1.3L537 -3.6L538 -5.2L539 -5.5L540 -5.5L541 -4.7L542 -2.6L543 -0.6L544 -0.3L545 -2.3L546 -5.7L547 -7.6L548 -7.9L549 -8.0L550 -10.5L551 -10.8L552 -10.6L553 -9.6L554 -9.8L555 -9.6L556 -7.6L557 -7.7L558 -7.9L559 -7.6L560 -7.1L561 -8.7L562 -8.8L563 -8.5L564 -6.4L565 -4.9L566 -4.7L567 -3.4L568 -1.4L569 -0.8L570 -3.3L571 -5.9L572 -6.8L573 -6.9L574 -9.7L575 -10.2L576 -10.1L577 -8.6L578 -5.9L579 -5.4L580 -5.0L581 -8.0L582 -8.8L583 -9.8L584 -10.8L585 -10.8L586 -9.7L587 -6.9L588 -6.8L589 -6.1L590 -8.3L591 -8.8L592 -8.8L593 -7.7L594 -6.9L595 -6.5L596 -4.5L597 -2.0L598 -2.8L599 -2.9L600 -2.9L601 -2.4L602 -4.6L603 -6.1L604 -6.3L605 -6.2L606 -5.1L607 -4.2L608 -4.3L609 -4.2L610 -3.4L611 -1.6L612 -0.3L613 0ZM617 0L618 -0.3L619 -1.5L620 -2.9L621 -3.5L622 -3.5L623 -3.4L624 -2.4L625 -0.9L626 -1.9L627 -3.4L628 -3.9L629 -3.9L630 -3.7L631 -2.5L632 -0.9L633 0ZM634 0L635 -1.2L636 -3.9L637 -6.2L638 -6.9L639 -6.9L640 -6.4L641 -7.4L642 -7.5L643 -7.0L644 -4.8L645 -3.9L646 -3.3L647 -1.8L648 -1.7L649 -2.3L650 -2.4L651 -2.3L652 -1.9L653 -1.8L654 -2.3L655 -2.4L656 -2.3L657 -1.8L658 -0.9L659 0ZM664 0L665 -1.0L666 -1.9L667 -2.3L668 -2.4L669 -2.3L670 -3.0L671 -3.5L672 -3.5L673 -3.3L674 -2.4L675 -2.0L676 -2.3L677 -2.4L678 -2.2L679 -1.5L680 -0.5L681 0ZM683 0L684 -0.4L685 -1.4L686 -2.2L687 -2.4L688 -2.4L689 -2.6L690 -4.0L691 -4.3L692 -4.3L693 -3.8L694 -2.2L695 -2.4L696 -2.3L697 -2.0L698 -1.1L699 -1.3L700 -1.9L701 -2.0L702 -1.9L703 -1.6L704 -0.9L705 0ZM727 0L728 -0.4L729 -1.4L730 -2.6L731 -2.9L732 -4.8L733 -5.5L734 -5.5L735 -5.1L736 -3.5L737 -3.5L738 -3.3L739 -2.1L740 -2.1L741 -2.4L742 -2.4L743 -2.1L744 -1.3L745 -0.4L746 -0.4L747 -1.2L748 -1.8L749 -2.0L750 -2.0L751 -1.7L752 -1.0L753 0ZM753 0L754 -0.5L755 -1.4L756 -1.9L757 -2.0L758 -1.9L759 -1.6L760 -0.9L761 -1.4L762 -1.9L763 -2.0L764 -1.9L765 -1.6L766 -0.8L767 0ZM778 0L779 -0.5L780 -2.0L781 -3.7L782 -4.3L783 -4.5L784 -8.1L785 -9.4L786 -9.4L787 -11.5L788 -12.2L789 -12.1L790 -10.3L791 -7.9L792 -7.3L793 -4.8L794 -3.9L795 -3.9L796 -3.2L797 -2.0L798 -2.0L799 -1.8L800 -1.1L801 -0.3L802 0ZM833 0L834 -0.3L835 -1.3L836 -2.5L837 -2.9L838 -4.3L839 -5.7L840 -5.9L841 -5.8L842 -4.7L843 -2.9L844 -2.8L845 -2.3L846 -3.8L847 -4.3L848 -4.3L849 -4.0L850 -2.6L851 -3.6L852 -3.9L853 -3.9L854 -4.0L855 -4.3L856 -4.3L857 -4.3L858 -5.4L859 -5.5L860 -5.4L861 -4.2L862 -3.5L863 -3.1L864 -1.7L865 -1.3L866 -1.9L867 -2.0L868 -1.9L869 -1.6L870 -0.9L871 -1.4L872 -1.9L873 -2.0L874 -1.9L875 -1.6L876 -0.8L877 -1.2L878 -2.7L879 -3.4L880 -3.5L881 -3.4L882 -3.4L883 -4.2L884 -4.3L885 -4.2L886 -3.5L887 -4.3L888 -4.3L889 -4.2L890 -5.6L891 -5.9L892 -5.8L893 -4.9L894 -3.7L895 -4.3L896 -4.3L897 -4.1L898 -2.8L899 -1.0L900 0ZM900 0L901 -0.3L902 -1.1L903 -1.8L904 -2.0L905 -2.0L906 -1.8L907 -1.2L908 -0.4L909 0ZM910 0L911 -0.4L912 -1.2L913 -1.8L914 -2.0L915 -2.0L916 -1.7L917 -1.0L918 -0.3L919 0ZM924 0L925 -1.3L926 -3.1L927 -4.2L928 -4.3L929 -6.8L930 -7.4L931 -7.4L932 -6.7L933 -4.9L934 -4.8L935 -3.8L936 -1.8L937 -0.3L938 0ZM948 0L949 -0.3L950 -1.1L951 -2.0L952 -2.3L953 -2.4L954 -2.2L955 -1.5L955 0Z" fill="#ffa510" stroke="#e48f0a" stroke-width="0.7" stroke-linejoin="round"/>
<line x1="109.60" y1="2031.80" x2="1064.30" y2="2031.80" stroke="#6b4d0c" stroke-width="1.4" />
<line x1="109.60" y1="1996.10" x2="109.60" y2="2032.40" stroke="#000" stroke-width="1.5" />
<line x1="109.60" y1="2011.80" x2="116.60" y2="2011.80" stroke="#000" stroke-width="1.5" />
<text x="99.60" y="2018.50" font-size="18.8" text-anchor="end" fill="#000" >0.5</text>
<text x="1080.70" y="2021.50" font-size="21" text-anchor="start" fill="#000" >S0</text>
<path transform="translate(109.6,2074.6)" d="M0 0L0 -2.5L1 -3.3L2 -3.4L3 -3.4L4 -4.3L5 -5.2L6 -5.3L7 -5.1L8 -3.8L9 -3.4L10 -3.4L11 -3.2L12 -2.2L13 -1.9L14 -1.9L15 -1.7L16 -1.1L17 -0.3L18 0ZM18 0L19 -0.7L20 -1.7L21 -2.2L22 -2.3L23 -2.2L24 -1.8L25 -0.9L26 -1.3L27 -2.4L28 -2.8L29 -2.9L30 -2.7L31 -1.9L32 -0.9L33 -2.9L34 -4.4L35 -4.8L36 -4.7L37 -5.3L38 -5.3L39 -5.0L40 -3.4L41 -1.2L42 0ZM50 0L51 -0.5L52 -1.7L53 -2.6L54 -2.9L55 -2.8L56 -2.6L57 -1.6L58 -0.4L59 0ZM88 0L89 -0.8L90 -2.9L91 -4.8L92 -5.3L93 -5.3L94 -4.9L95 -3.1L96 -1.0L97 0ZM97 0L98 -0.9L99 -2.1L100 -2.8L101 -2.9L102 -3.7L103 -4.7L104 -4.8L105 -4.6L106 -3.6L107 -1.8L108 -3.3L109 -3.8L110 -3.8L111 -3.6L112 -4.8L113 -5.3L114 -5.3L115 -4.8L116 -3.0L117 -3.2L118 -3.4L119 -3.4L120 -2.9L121 -1.6L122 -0.4L123 0ZM123 0L124 -1.0L125 -1.9L126 -2.3L127 -2.3L128 -2.2L129 -1.6L130 -0.6L131 0ZM131 0L132 -0.5L133 -1.4L134 -2.1L135 -2.3L136 -2.3L137 -2.0L138 -1.2L139 -0.3L140 0ZM141 0L142 -0.9L143 -1.8L144 -2.2L145 -2.3L146 -2.2L147 -1.7L148 -0.7L149 -1.2L150 -2.0L151 -2.3L152 -2.3L153 -2.1L154 -1.4L155 -0.7L156 -1.9L157 -2.7L158 -2.9L159 -2.8L160 -4.0L161 -5.2L162 -5.3L163 -5.2L164 -4.2L165 -2.0L166 -0.4L167 0ZM196 0L197 -0.6L198 -1.6L199 -2.2L200 -2.3L201 -2.3L202 -2.0L203 -4.2L204 -5.2L205 -5.9L206 -7.1L207 -7.2L208 -6.9L209 -5.1L210 -3.4L211 -2.8L212 -4.9L213 -6.5L214 -6.7L215 -9.2L216 -9.9L217 -9.8L218 -8.6L219 -5.7L220 -5.3L221 -5.1L222 -6.5L223 -6.7L224 -8.3L225 -9.1L226 -9.1L227 -8.3L228 -5.3L229 -5.1L230 -3.6L231 -1.4L232 0ZM234 0L235 -0.7L236 -3.2L237 -6.3L238 -7.5L239 -8.9L240 -10.4L241 -10.5L242 -9.9L243 -7.0L244 -5.2L245 -5.2L246 -5.7L247 -6.5L248 -7.6L249 -7.6L250 -7.2L251 -5.1L252 -1.9L253 -2.1L254 -3.2L255 -3.4L256 -3.4L257 -3.0L258 -3.4L259 -4.6L260 -4.8L261 -4.7L262 -4.2L263 -6.2L264 -6.7L265 -6.6L266 -5.8L267 -4.5L268 -5.3L269 -5.3L270 -5.0L271 -3.5L272 -1.3L273 0ZM273 0L274 -0.9L275 -2.5L276 -3.6L277 -3.8L278 -3.8L279 -3.3L280 -5.7L281 -7.4L282 -7.6L283 -7.5L284 -8.9L285 -10.9L286 -11.0L287 -10.6L288 -8.0L289 -9.1L290 -9.1L291 -8.6L292 -7.0L293 -10.8L294 -11.8L295 -11.8L296 -10.6L297 -7.6L298 -8.0L299 -7.9L300 -6.8L301 -6.5L302 -6.7L303 -6.5L304 -5.3L305 -5.2L306 -5.3L307 -5.1L308 -3.8L309 -2.8L310 -2.9L311 -2.7L312 -1.8L313 -2.1L314 -2.3L315 -2.3L316 -2.0L317 -1.2L318 -0.3L319 0ZM322 0L323 -0.3L324 -2.3L325 -5.5L326 -7.2L327 -7.5L328 -7.3L329 -6.0L330 -4.2L331 -3.4L332 -3.3L333 -4.2L334 -4.3L335 -4.2L336 -3.3L337 -2.4L338 -2.9L339 -2.9L340 -2.8L341 -2.1L342 -0.9L343 -3.1L344 -5.8L345 -6.8L346 -6.9L347 -8.1L348 -9.4L349 -9.4L350 -8.9L351 -7.6L352 -7.9L353 -7.7L354 -6.2L355 -9.6L356 -10.8L357 -11.3L358 -15.1L359 -15.7L360 -15.5L361 -12.7L362 -9.8L363 -9.5L364 -7.1L365 -4.3L366 -4.3L367 -3.8L368 -2.3L369 -2.0L370 -1.7L371 -1.0L372 -0.3L373 0ZM387 0L388 -1.1L389 -2.3L390 -2.9L391 -2.9L392 -2.9L393 -2.4L394 -2.9L395 -2.9L396 -2.8L397 -2.1L398 -0.9L399 0ZM408 0L409 -0.4L410 -1.6L411 -2.6L412 -2.9L413 -2.9L414 -2.7L415 -1.7L416 -0.5L417 0ZM417 0L418 -0.6L419 -1.8L420 -2.7L421 -2.9L422 -2.9L423 -2.6L424 -1.5L425 -0.4L426 0ZM440 0L441 -0.6L442 -1.8L443 -2.7L444 -2.9L445 -2.9L446 -2.6L447 -1.5L448 -0.4L449 0ZM475 0L476 -0.9L477 -1.8L478 -2.3L479 -2.4L480 -2.3L481 -1.8L482 -0.8L483 -2.0L484 -2.8L485 -2.9L486 -2.9L487 -2.5L488 -1.3L489 -2.5L490 -3.4L491 -3.5L492 -3.5L493 -2.9L494 -2.9L495 -3.8L496 -3.9L497 -3.8L498 -4.2L499 -5.4L500 -5.5L501 -5.4L502 -4.2L503 -2.9L504 -2.9L505 -2.2L506 -0.9L507 0ZM507 0L508 -0.4L509 -1.9L510 -3.6L511 -4.3L512 -4.3L513 -4.1L514 -2.9L515 -4.7L516 -5.5L517 -5.5L518 -5.2L519 -3.9L520 -6.6L521 -7.4L522 -7.5L523 -6.9L524 -4.5L525 -6.2L526 -6.9L527 -6.9L528 -6.2L529 -5.4L530 -5.9L531 -5.9L532 -8.7L533 -9.4L534 -9.4L535 -8.3L536 -4.9L537 -4.8L538 -3.7L539 -1.6L540 -0.3L541 0ZM545 0L546 -0.9L547 -2.1L548 -2.8L549 -2.9L550 -2.9L551 -2.9L552 -2.9L553 -2.9L554 -2.3L555 -1.1L556 0ZM562 0L563 -1.0L564 -2.0L565 -2.3L566 -2.4L567 -2.3L568 -1.6L569 -0.6L570 -1.4L571 -2.5L572 -2.9L573 -2.9L574 -2.8L575 -3.1L576 -5.2L577 -5.9L578 -5.9L579 -6.7L580 -7.4L581 -7.5L582 -10.7L583 -11.8L584 -11.8L585 -10.6L586 -7.9L587 -7.5L588 -6.4L589 -6.9L590 -7.6L591 -11.0L592 -11.8L593 -11.7L594 -10.2L595 -7.9L596 -7.8L597 -7.3L598 -8.7L599 -8.8L600 -8.4L601 -6.6L602 -6.9L603 -6.8L604 -5.6L605 -4.8L606 -4.9L607 -4.8L608 -3.9L609 -4.8L610 -4.9L611 -4.8L612 -4.1L613 -6.7L614 -7.4L615 -7.5L616 -6.8L617 -4.3L618 -4.3L619 -4.2L620 -3.1L621 -3.0L622 -3.5L623 -3.5L624 -3.4L625 -2.4L626 -3.7L627 -4.3L628 -4.3L629 -4.1L630 -3.1L631 -3.5L632 -3.5L633 -3.3L634 -2.2L635 -0.7L636 -0.7L637 -2.3L638 -3.6L639 -3.9L640 -3.9L641 -3.5L642 -4.3L643 -4.9L644 -4.9L645 -4.6L646 -3.1L647 -2.3L648 -2.0L649 -1.0L650 -0.9L651 -1.7L652 -2.0L653 -2.0L654 -1.8L655 -1.3L656 -0.4L657 0ZM660 0L661 -0.6L662 -2.8L663 -5.6L664 -6.8L665 -9.1L666 -12.7L667 -13.4L668 -13.2L669 -11.7L670 -11.8L671 -11.2L672 -8.1L673 -4.9L674 -4.3L675 -2.4L676 -0.6L677 0ZM678 0L679 -0.6L680 -1.4L681 -1.9L682 -2.0L683 -1.9L684 -1.6L685 -0.8L686 -1.2L687 -1.8L688 -2.0L689 -2.0L690 -1.8L691 -1.1L692 -0.3L693 0ZM697 0L698 -1.5L699 -4.0L700 -5.6L701 -5.9L702 -7.1L703 -7.5L704 -7.4L705 -6.2L706 -3.2L707 -1.9L708 -1.0L709 0ZM714 0L715 -1.1L716 -2.3L717 -2.9L718 -2.9L719 -2.9L720 -3.5L721 -4.3L722 -4.3L723 -4.1L724 -3.1L725 -1.2L726 0ZM727 0L728 -0.4L729 -1.7L730 -3.1L731 -3.5L732 -3.5L733 -3.6L734 -6.1L735 -6.8L736 -6.9L737 -9.7L738 -10.8L739 -10.8L740 -11.0L741 -12.2L742 -12.1L743 -11.0L744 -8.8L745 -8.8L746 -7.9L747 -4.8L748 -3.8L749 -3.0L750 -1.3L751 -3.2L752 -4.6L753 -4.9L754 -4.9L755 -4.2L756 -5.6L757 -5.9L758 -5.8L759 -4.9L760 -3.5L761 -4.7L762 -4.9L763 -4.8L764 -4.0L765 -2.2L766 -2.9L767 -2.9L768 -2.9L769 -2.3L770 -1.1L771 0ZM775 0L776 -0.8L777 -1.6L778 -1.9L779 -2.0L780 -1.9L781 -1.4L782 -0.5L783 0ZM783 0L784 -0.3L785 -1.2L786 -2.0L787 -2.3L788 -2.4L789 -2.2L790 -1.5L791 -0.5L792 0ZM795 0L796 -0.4L797 -1.4L798 -2.2L799 -2.4L800 -2.3L801 -2.1L802 -1.3L803 -1.9L804 -2.8L805 -2.9L806 -2.9L807 -2.6L808 -3.3L809 -4.7L810 -4.9L811 -6.6L812 -7.4L813 -7.5L814 -6.9L815 -4.9L816 -4.9L817 -4.7L818 -3.3L819 -2.4L820 -2.3L821 -1.9L822 -0.9L823 0ZM826 0L827 -0.3L828 -1.4L829 -2.8L830 -3.5L831 -3.5L832 -5.6L833 -6.8L834 -6.9L835 -7.5L836 -7.9L837 -7.8L838 -6.5L839 -4.9L840 -4.9L841 -4.2L842 -2.4L843 -0.6L844 0ZM845 0L846 -0.5L847 -1.9L848 -3.2L849 -3.5L850 -3.9L851 -6.2L852 -6.9L853 -6.9L854 -6.3L855 -6.9L856 -6.9L857 -6.1L858 -4.0L859 -4.3L860 -4.3L861 -3.8L862 -2.8L863 -4.1L864 -4.3L865 -4.3L866 -3.7L867 -4.4L868 -6.0L869 -6.3L870 -6.2L871 -5.2L872 -4.3L873 -4.3L874 -3.5L875 -1.8L876 -0.4L877 0ZM878 0L879 -0.6L880 -2.1L881 -3.5L882 -3.9L883 -3.9L884 -4.4L885 -5.4L886 -5.5L887 -5.3L888 -4.0L889 -3.5L890 -3.5L891 -3.0L892 -1.6L893 -0.4L894 0ZM894 0L895 -0.3L896 -1.2L897 -2.0L898 -2.3L899 -2.4L900 -2.2L901 -1.5L902 -0.5L903 0ZM910 0L911 -0.4L912 -1.8L913 -3.3L914 -3.9L915 -3.9L916 -3.7L917 -2.7L918 -1.0L919 0ZM925 0L926 -1.2L927 -2.8L928 -3.8L929 -3.9L930 -3.9L931 -3.2L932 -4.2L933 -4.3L934 -4.2L935 -3.4L936 -3.8L937 -4.8L938 -4.9L939 -4.8L940 -3.7L941 -4.5L942 -5.4L943 -5.5L944 -5.3L945 -5.7L946 -6.8L947 -6.9L948 -6.6L949 -4.7L950 -1.8L951 -1.1L952 -2.6L953 -3.4L954 -3.5L955 -3.5L955 0Z" fill="#ffa510" stroke="#e48f0a" stroke-width="0.7" stroke-linejoin="round"/>
<line x1="109.60" y1="2074.60" x2="1064.30" y2="2074.60" stroke="#6b4d0c" stroke-width="1.4" />
<line x1="109.60" y1="2038.90" x2="109.60" y2="2075.20" stroke="#000" stroke-width="1.5" />
<line x1="109.60" y1="2054.60" x2="116.60" y2="2054.60" stroke="#000" stroke-width="1.5" />
<text x="99.60" y="2061.30" font-size="18.8" text-anchor="end" fill="#000" >0.5</text>
<text x="1080.70" y="2064.30" font-size="21" text-anchor="start" fill="#000" >S1</text>
<path transform="translate(109.6,2117.1)" d="M0 0L0 -3.2L1 -7.2L2 -9.3L3 -9.5L4 -12.2L5 -12.9L6 -12.9L7 -11.1L8 -9.5L9 -9.1L10 -6.5L11 -4.8L12 -4.4L13 -3.0L14 -1.0L15 0ZM15 0L16 -0.8L17 -2.0L18 -2.7L19 -2.9L20 -2.8L21 -2.4L22 -1.2L23 -0.3L24 0ZM36 0L37 -0.6L38 -1.6L39 -2.2L40 -2.3L41 -2.3L42 -1.9L43 -1.1L44 -2.3L45 -2.8L46 -2.9L47 -2.8L48 -2.1L49 -0.8L50 0ZM63 0L64 -0.3L65 -1.3L66 -2.4L67 -2.8L68 -2.9L69 -2.7L70 -2.0L71 -0.7L72 -1.1L73 -3.2L74 -4.9L75 -5.3L76 -5.3L77 -4.7L78 -4.8L79 -4.7L80 -4.0L81 -2.2L82 -2.8L83 -2.9L84 -2.8L85 -2.2L86 -1.0L87 0ZM88 0L89 -0.4L90 -1.6L91 -2.6L92 -2.8L93 -2.9L94 -2.6L95 -3.5L96 -5.0L97 -5.3L98 -5.3L99 -4.6L100 -4.2L101 -5.5L102 -5.7L103 -5.6L104 -4.5L105 -5.5L106 -6.6L107 -6.7L108 -6.4L109 -4.7L110 -6.7L111 -7.6L112 -7.8L113 -12.2L114 -13.3L115 -13.3L116 -15.7L117 -16.8L118 -16.6L119 -16.8L120 -17.5L121 -17.3L122 -14.3L123 -11.4L124 -10.6L125 -7.1L126 -7.5L127 -7.6L128 -7.3L129 -5.4L130 -5.0L131 -3.5L132 -1.3L133 0ZM137 0L138 -1.6L139 -3.9L140 -5.1L141 -5.3L142 -5.2L143 -6.0L144 -6.1L145 -5.9L146 -4.6L147 -4.7L148 -6.8L149 -7.2L150 -9.4L151 -9.9L152 -9.8L153 -8.2L154 -4.8L155 -4.3L156 -4.5L157 -6.3L158 -6.7L159 -6.6L160 -5.6L161 -4.2L162 -4.1L163 -3.4L164 -1.7L165 -1.6L166 -1.9L167 -1.9L168 -1.8L169 -1.3L170 -0.5L171 -0.9L172 -2.8L173 -4.4L174 -4.8L175 -4.7L176 -4.3L177 -2.6L178 -0.7L179 0ZM180 0L181 -1.4L182 -3.0L183 -3.7L184 -3.8L185 -4.7L186 -5.6L187 -5.7L188 -5.5L189 -4.0L190 -3.6L191 -6.0L192 -6.6L193 -6.7L194 -8.8L195 -9.5L196 -9.5L197 -8.4L198 -5.3L199 -5.3L200 -4.5L201 -2.4L202 -0.6L203 0ZM204 0L205 -0.5L206 -2.2L207 -4.0L208 -4.7L209 -4.8L210 -4.5L211 -3.2L212 -1.2L213 0ZM216 0L217 -0.3L218 -1.7L219 -4.1L220 -5.5L221 -5.7L222 -6.6L223 -8.4L224 -8.6L225 -8.3L226 -7.2L227 -8.5L228 -8.6L229 -8.2L230 -5.9L231 -6.0L232 -6.6L233 -6.7L234 -9.6L235 -14.2L236 -15.2L237 -23.5L238 -28.2L239 -28.6L240 -33.4L241 -34.7L242 -34.1L243 -27.9L244 -22.8L245 -20.2L246 -17.1L247 -16.5L248 -15.1L249 -15.2L250 -14.4L251 -11.9L252 -13.3L253 -13.3L254 -12.2L255 -16.9L256 -18.1L257 -18.0L258 -15.8L259 -11.4L260 -11.3L261 -9.5L262 -8.3L263 -8.6L264 -11.5L265 -16.2L266 -17.1L267 -21.0L268 -24.5L269 -24.8L270 -23.4L271 -17.1L272 -16.9L273 -14.3L274 -7.5L275 -3.4L276 -2.1L277 -3.3L278 -4.5L279 -4.8L280 -4.7L281 -4.0L282 -3.6L283 -7.5L284 -9.3L285 -9.5L286 -9.2L287 -7.0L288 -5.7L289 -5.4L290 -3.9L291 -6.5L292 -10.3L293 -11.4L294 -14.0L295 -17.7L296 -18.1L297 -17.6L298 -13.7L299 -7.5L300 -7.8L301 -10.2L302 -10.5L303 -10.9L304 -13.5L305 -13.7L306 -13.3L307 -10.1L308 -7.6L309 -7.6L310 -7.2L311 -5.1L312 -3.4L313 -3.8L314 -4.9L315 -7.0L316 -7.5L317 -7.4L318 -6.4L319 -3.5L320 -2.9L321 -4.8L322 -6.6L323 -6.9L324 -9.2L325 -10.7L326 -10.8L327 -10.2L328 -7.1L329 -4.8L330 -3.9L331 -1.9L332 -0.4L333 -0.5L334 -2.6L335 -5.4L336 -6.7L337 -6.9L338 -7.9L339 -9.7L340 -9.8L341 -9.5L342 -9.3L343 -9.4L344 -9.1L345 -10.7L346 -10.8L347 -10.3L348 -10.7L349 -10.8L350 -10.2L351 -7.1L352 -4.9L353 -4.2L354 -4.9L355 -5.5L356 -7.9L357 -8.8L358 -8.8L359 -8.1L360 -5.2L361 -4.7L362 -3.6L363 -1.5L364 0ZM364 0L365 -0.4L366 -2.0L367 -4.3L368 -5.4L369 -5.7L370 -8.3L371 -8.8L372 -8.8L373 -7.6L374 -5.5L375 -5.1L376 -3.5L377 -1.2L378 0ZM379 0L380 -0.5L381 -1.7L382 -2.7L383 -2.9L384 -2.9L385 -2.7L386 -1.6L387 -0.5L388 0ZM396 0L397 -0.6L398 -2.6L399 -4.9L400 -5.8L401 -6.8L402 -9.1L403 -9.4L404 -9.3L405 -7.6L406 -4.8L407 -3.9L408 -1.9L409 -1.6L410 -2.6L411 -2.9L412 -2.9L413 -2.7L414 -1.8L415 -0.6L416 0ZM458 0L459 -0.3L460 -1.2L461 -2.0L462 -2.3L463 -2.4L464 -2.2L465 -2.3L466 -2.4L467 -2.2L468 -1.4L469 -0.5L470 0ZM472 0L473 -0.7L474 -2.1L475 -3.3L476 -3.5L477 -3.5L478 -3.1L479 -1.9L480 -2.3L481 -3.3L482 -3.5L483 -3.5L484 -3.0L485 -1.7L486 -0.4L487 0ZM493 0L494 -1.0L495 -2.2L496 -2.9L497 -2.9L498 -2.9L499 -2.3L500 -1.1L501 -1.1L502 -2.3L503 -2.9L504 -2.9L505 -2.9L506 -2.2L507 -0.9L508 0ZM515 0L516 -0.8L517 -3.0L518 -5.2L519 -5.9L520 -7.3L521 -8.2L522 -8.2L523 -7.6L524 -7.9L525 -8.8L526 -10.4L527 -13.7L528 -14.1L529 -13.9L530 -11.8L531 -11.7L532 -10.5L533 -10.6L534 -11.4L535 -11.3L536 -10.0L537 -9.8L538 -9.8L539 -10.2L540 -10.8L541 -10.7L542 -9.2L543 -5.9L544 -5.5L545 -3.6L546 -1.2L547 0ZM549 0L550 -1.3L551 -3.0L552 -3.8L553 -3.9L554 -6.1L555 -7.7L556 -7.9L557 -8.5L558 -10.6L559 -10.8L560 -10.5L561 -8.0L562 -6.9L563 -6.2L564 -3.8L565 -1.1L566 -1.2L567 -3.5L568 -5.1L569 -5.5L570 -7.6L571 -8.8L572 -8.8L573 -8.3L574 -5.9L575 -5.9L576 -5.5L577 -3.7L578 -1.2L579 -2.1L580 -2.8L581 -2.9L582 -2.9L583 -2.9L584 -4.5L585 -4.9L586 -6.0L587 -9.1L588 -9.8L589 -13.1L590 -16.3L591 -16.7L592 -16.2L593 -13.4L594 -13.3L595 -11.5L596 -8.8L597 -8.8L598 -11.6L599 -12.2L600 -12.0L601 -10.1L602 -6.9L603 -6.8L604 -5.6L605 -7.2L606 -7.5L607 -7.3L608 -5.9L609 -3.4L610 -3.5L611 -3.5L612 -3.4L613 -7.0L614 -8.7L615 -9.5L616 -11.6L617 -11.8L618 -11.4L619 -8.5L620 -5.9L621 -5.6L622 -4.1L623 -4.7L624 -5.5L625 -5.5L626 -5.2L627 -3.7L628 -2.6L629 -2.9L630 -2.9L631 -2.7L632 -1.9L633 -0.6L634 -0.7L635 -2.4L636 -3.9L637 -4.3L638 -4.3L639 -4.3L640 -5.5L641 -5.9L642 -5.8L643 -5.0L644 -3.4L645 -4.7L646 -4.9L647 -5.6L648 -7.5L649 -7.9L650 -7.7L651 -6.4L652 -5.7L653 -5.9L654 -5.8L655 -6.7L656 -6.9L657 -6.7L658 -8.1L659 -8.3L660 -8.0L661 -6.2L662 -6.2L663 -6.3L664 -6.1L665 -4.8L666 -5.8L667 -5.9L668 -5.6L669 -5.0L670 -5.8L671 -5.9L672 -5.6L673 -4.0L674 -3.9L675 -3.9L676 -3.7L677 -2.5L678 -0.9L679 0ZM679 0L680 -0.4L681 -1.3L682 -2.1L683 -2.4L684 -2.4L685 -2.1L686 -1.7L687 -2.7L688 -2.9L689 -2.9L690 -2.6L691 -3.7L692 -5.5L693 -5.9L694 -5.9L695 -5.1L696 -3.0L697 -0.8L698 0ZM698 0L699 -1.2L700 -3.0L701 -4.1L702 -4.3L703 -4.5L704 -6.0L705 -6.3L706 -6.2L707 -5.4L708 -5.9L709 -5.9L710 -5.3L711 -3.3L712 -1.0L713 0ZM721 0L722 -0.6L723 -1.6L724 -2.3L725 -2.4L726 -2.3L727 -1.9L728 -1.0L729 0ZM729 0L730 -0.6L731 -2.5L732 -4.3L733 -4.9L734 -7.3L735 -9.2L736 -9.4L737 -9.2L738 -7.4L739 -7.5L740 -6.8L741 -4.4L742 -1.3L743 -0.8L744 -2.4L745 -3.6L746 -3.9L747 -3.9L748 -3.5L749 -2.1L750 -2.8L751 -2.9L752 -2.9L753 -2.5L754 -1.4L755 -0.3L756 0ZM775 0L776 -0.4L777 -1.9L778 -3.6L779 -4.3L780 -4.3L781 -4.1L782 -3.0L783 -1.2L784 0ZM820 0L821 -0.5L822 -1.4L823 -2.2L824 -2.4L825 -2.3L826 -2.1L827 -1.2L828 -0.3L829 0ZM830 0L831 -0.5L832 -2.1L833 -4.1L834 -4.9L835 -7.9L836 -9.3L837 -9.4L838 -10.1L839 -10.2L840 -9.7L841 -6.8L842 -5.5L843 -4.7L844 -2.6L845 -2.6L846 -2.9L847 -2.9L848 -2.7L849 -4.4L850 -4.9L851 -4.9L852 -5.7L853 -6.3L854 -6.3L855 -5.7L856 -3.5L857 -3.5L858 -3.1L859 -1.9L860 -0.5L861 0ZM861 0L862 -0.3L863 -1.2L864 -2.0L865 -2.3L866 -2.4L867 -2.2L868 -1.5L869 -0.5L870 0ZM880 0L881 -0.5L882 -1.6L883 -2.7L884 -2.9L885 -2.9L886 -2.7L887 -1.7L888 -2.9L889 -3.5L890 -3.5L891 -3.4L892 -4.1L893 -4.9L894 -4.9L895 -4.7L896 -5.1L897 -5.9L898 -5.9L899 -5.5L900 -3.8L901 -1.3L902 0ZM902 0L903 -0.7L904 -2.4L905 -3.9L906 -4.3L907 -4.3L908 -5.0L909 -5.5L910 -5.5L911 -5.0L912 -7.6L913 -8.2L914 -8.2L915 -7.3L916 -4.9L917 -4.8L918 -3.7L919 -2.9L920 -2.9L921 -2.5L922 -1.4L923 -1.4L924 -3.5L925 -4.7L926 -4.9L927 -4.8L928 -5.3L929 -5.5L930 -5.4L931 -4.4L932 -2.2L933 -0.4L934 0ZM934 0L935 -0.9L936 -1.8L937 -2.3L938 -2.4L939 -2.3L940 -1.8L941 -0.8L942 -0.4L943 -1.8L944 -3.6L945 -4.3L946 -4.3L947 -5.8L948 -6.8L949 -6.9L950 -6.5L951 -4.6L952 -3.9L953 -3.7L954 -2.6L955 -0.9L955 0Z" fill="#ffa510" stroke="#e48f0a" stroke-width="0.7" stroke-linejoin="round"/>
<line x1="109.60" y1="2117.10" x2="1064.30" y2="2117.10" stroke="#6b4d0c" stroke-width="1.4" />
<line x1="109.60" y1="2081.40" x2="109.60" y2="2117.70" stroke="#000" stroke-width="1.5" />
<line x1="109.60" y1="2097.10" x2="116.60" y2="2097.10" stroke="#000" stroke-width="1.5" />
<text x="99.60" y="2103.80" font-size="18.8" text-anchor="end" fill="#000" >0.5</text>
<text x="1080.70" y="2106.80" font-size="21" text-anchor="start" fill="#000" >S2</text>
<path transform="translate(109.6,2159.6)" d="M0 0L0 -0.4L1 -2.1L2 -4.4L3 -5.6L4 -5.7L5 -5.9L6 -7.1L7 -7.2L8 -6.9L9 -5.1L10 -4.2L11 -6.0L12 -7.5L13 -7.6L14 -7.4L15 -5.6L16 -3.4L17 -3.0L18 -1.8L19 -2.2L20 -2.3L21 -2.3L22 -1.9L23 -1.0L24 0ZM26 0L27 -0.7L28 -2.7L29 -4.7L30 -5.3L31 -5.3L32 -5.0L33 -3.3L34 -1.1L35 0ZM36 0L37 -1.2L38 -3.0L39 -4.0L40 -4.2L41 -4.1L42 -3.4L43 -1.7L44 -0.4L45 0ZM66 0L67 -0.6L68 -2.4L69 -4.2L70 -4.7L71 -4.8L72 -7.2L73 -8.0L74 -8.0L75 -7.2L76 -5.6L77 -5.7L78 -5.5L79 -4.2L80 -2.3L81 -2.3L82 -1.9L83 -1.4L84 -2.8L85 -3.4L86 -3.4L87 -3.3L88 -4.9L89 -5.7L90 -5.7L91 -5.4L92 -3.7L93 -2.9L94 -2.9L95 -2.6L96 -1.6L97 -0.5L98 0ZM107 0L108 -0.5L109 -1.8L110 -3.0L111 -3.4L112 -4.3L113 -5.2L114 -5.3L115 -5.1L116 -3.8L117 -2.3L118 -2.3L119 -2.0L120 -1.1L121 -0.3L122 0ZM125 0L126 -0.5L127 -2.0L128 -3.6L129 -4.2L130 -4.2L131 -6.8L132 -7.6L133 -7.6L134 -7.0L135 -4.8L136 -4.7L137 -4.2L138 -2.5L139 -1.3L140 -3.1L141 -4.1L142 -4.2L143 -4.2L144 -5.2L145 -5.3L146 -5.2L147 -3.9L148 -2.8L149 -2.9L150 -2.7L151 -1.9L152 -0.7L153 -0.8L154 -2.4L155 -3.6L156 -3.8L157 -3.8L158 -5.4L159 -6.1L160 -6.1L161 -5.6L162 -3.7L163 -2.8L164 -2.3L165 -1.1L166 0ZM174 0L175 -0.7L176 -1.9L177 -2.7L178 -2.9L179 -2.8L180 -2.4L181 -4.0L182 -5.2L183 -5.3L184 -5.8L185 -7.1L186 -7.2L187 -7.0L188 -5.2L189 -4.8L190 -4.7L191 -4.1L192 -2.3L193 -0.6L194 0ZM194 0L195 -1.0L196 -2.8L197 -4.0L198 -4.2L199 -4.3L200 -6.9L201 -7.6L202 -7.6L203 -6.9L204 -4.3L205 -4.2L206 -3.8L207 -2.4L208 -0.8L209 0ZM211 0L212 -0.4L213 -1.2L214 -1.8L215 -1.9L216 -1.9L217 -1.7L218 -1.0L219 -0.3L220 -1.2L221 -2.6L222 -3.3L223 -3.4L224 -3.3L225 -2.6L226 -4.0L227 -4.7L228 -4.8L229 -4.5L230 -3.3L231 -4.3L232 -6.9L233 -7.6L234 -7.8L235 -11.5L236 -12.4L237 -14.4L238 -15.2L239 -15.1L240 -12.9L241 -10.5L242 -10.3L243 -8.4L244 -4.1L245 -6.6L246 -7.9L247 -8.0L248 -7.7L249 -9.2L250 -10.4L251 -10.5L252 -9.7L253 -10.1L254 -11.0L255 -11.0L256 -9.9L257 -11.2L258 -11.8L259 -11.7L260 -10.0L261 -9.5L262 -13.0L263 -16.4L264 -16.8L265 -16.3L266 -13.2L267 -13.3L268 -12.8L269 -9.4L270 -7.6L271 -7.1L272 -4.9L273 -2.9L274 -2.6L275 -1.7L276 -2.8L277 -4.0L278 -5.4L279 -7.3L280 -7.6L281 -7.5L282 -6.2L283 -3.4L284 -3.2L285 -2.1L286 -1.9L287 -3.6L288 -4.2L289 -4.2L290 -4.0L291 -2.8L292 -1.0L293 -2.1L294 -3.2L295 -3.4L296 -3.4L297 -3.0L298 -4.0L299 -5.5L300 -5.7L301 -5.6L302 -4.7L303 -4.2L304 -5.2L305 -5.3L306 -5.2L307 -3.9L308 -1.7L309 -0.3L310 0ZM311 0L312 -0.7L313 -1.9L314 -2.8L315 -2.9L316 -2.9L317 -3.3L318 -4.7L319 -4.9L320 -4.9L321 -4.1L322 -3.0L323 -4.9L324 -5.5L325 -5.5L326 -5.0L327 -3.2L328 -2.9L329 -2.9L330 -2.3L331 -4.0L332 -6.6L333 -7.4L334 -9.0L335 -11.2L336 -11.4L337 -11.0L338 -8.7L339 -8.8L340 -8.9L341 -10.7L342 -10.8L343 -10.4L344 -10.1L345 -10.2L346 -12.5L347 -13.4L348 -13.3L349 -11.6L350 -10.8L351 -10.1L352 -7.0L353 -5.9L354 -6.8L355 -8.6L356 -8.8L357 -9.2L358 -10.2L359 -10.2L360 -9.3L361 -5.9L362 -4.8L363 -3.9L364 -1.9L365 -2.2L366 -3.3L367 -3.5L368 -3.5L369 -3.1L370 -3.2L371 -4.6L372 -4.9L373 -4.9L374 -4.2L375 -3.4L376 -4.7L377 -4.9L378 -5.3L379 -7.2L380 -7.5L381 -7.4L382 -6.1L383 -4.9L384 -4.6L385 -3.2L386 -1.1L387 0ZM484 0L485 -1.3L486 -3.4L487 -4.7L488 -4.9L489 -6.3L490 -7.4L491 -7.5L492 -7.1L493 -5.5L494 -7.2L495 -7.5L496 -7.3L497 -5.9L498 -3.9L499 -3.8L500 -3.0L501 -1.9L502 -2.0L503 -1.9L504 -1.5L505 -0.6L506 -1.0L507 -1.9L508 -2.3L509 -2.4L510 -2.3L511 -1.7L512 -0.7L513 -1.1L514 -2.0L515 -2.3L516 -2.4L517 -2.2L518 -1.5L519 -2.6L520 -4.3L521 -4.9L522 -4.9L523 -4.5L524 -5.3L525 -5.9L526 -5.9L527 -5.4L528 -6.3L529 -6.9L530 -6.9L531 -6.2L532 -3.8L533 -3.5L534 -3.2L535 -5.8L536 -6.8L537 -8.8L538 -10.1L539 -10.2L540 -9.6L541 -6.6L542 -4.6L543 -3.1L544 -5.8L545 -6.8L546 -9.2L547 -10.7L548 -10.8L549 -10.2L550 -7.2L551 -4.6L552 -3.2L553 -1.1L554 -2.3L555 -2.9L556 -2.9L557 -2.9L558 -2.2L559 -3.9L560 -4.8L561 -4.9L562 -4.7L563 -3.6L564 -3.6L565 -4.3L566 -4.3L567 -4.1L568 -3.0L569 -2.8L570 -5.1L571 -5.9L572 -5.9L573 -6.0L574 -6.8L575 -6.9L576 -6.4L577 -4.3L578 -3.5L579 -3.3L580 -2.8L581 -4.4L582 -4.9L583 -5.6L584 -7.2L585 -7.5L586 -7.3L587 -5.9L588 -3.5L589 -3.2L590 -5.8L591 -6.8L592 -6.9L593 -6.5L594 -4.6L595 -5.6L596 -6.8L597 -6.9L598 -6.6L599 -4.9L600 -3.5L601 -3.3L602 -2.1L603 -0.7L604 -1.3L605 -2.9L606 -3.8L607 -3.9L608 -3.8L609 -3.1L610 -3.8L611 -4.8L612 -4.9L613 -4.8L614 -3.7L615 -4.7L616 -5.8L617 -5.9L618 -5.7L619 -4.3L620 -6.5L621 -7.8L622 -7.9L623 -9.5L624 -10.2L625 -10.2L626 -8.9L627 -5.1L628 -4.6L629 -3.2L630 -2.0L631 -3.5L632 -3.9L633 -3.9L634 -3.6L635 -3.1L636 -5.0L637 -5.5L638 -5.5L639 -5.0L640 -4.6L641 -4.9L642 -4.9L643 -4.2L644 -2.3L645 -0.7L646 -1.7L647 -2.3L648 -2.4L649 -2.3L650 -1.9L651 -1.0L652 -1.8L653 -2.3L654 -2.4L655 -2.3L656 -1.9L657 -0.9L658 0ZM662 0L663 -0.3L664 -1.2L665 -2.4L666 -2.9L667 -2.9L668 -4.6L669 -5.4L670 -5.5L671 -7.0L672 -7.5L673 -7.4L674 -6.5L675 -3.7L676 -2.8L677 -1.9L678 -0.7L679 -0.7L680 -1.7L681 -2.3L682 -2.4L683 -2.3L684 -1.9L685 -1.0L686 0ZM686 0L687 -1.3L688 -4.2L689 -6.3L690 -6.9L691 -9.1L692 -10.7L693 -10.8L694 -10.3L695 -7.3L696 -5.9L697 -5.1L698 -2.9L699 -0.8L700 -2.0L701 -2.8L702 -2.9L703 -2.9L704 -2.4L705 -5.4L706 -7.2L707 -7.5L708 -7.3L709 -9.1L710 -9.4L711 -9.2L712 -10.0L713 -10.2L714 -10.0L715 -10.6L716 -11.4L717 -11.3L718 -9.9L719 -5.9L720 -5.7L721 -4.3L722 -2.4L723 -2.9L724 -2.9L725 -2.8L726 -2.0L727 -1.9L728 -2.0L729 -1.9L730 -1.3L731 -0.5L732 0ZM747 0L748 -0.7L749 -1.9L750 -2.8L751 -2.9L752 -2.9L753 -4.1L754 -4.3L755 -4.3L756 -3.7L757 -3.5L758 -4.7L759 -4.9L760 -4.8L761 -5.7L762 -5.9L763 -5.8L764 -4.7L765 -2.4L766 -2.3L767 -1.9L768 -0.9L769 -1.8L770 -2.3L771 -2.4L772 -2.3L773 -1.8L774 -0.8L775 0ZM777 0L778 -1.0L779 -2.0L780 -2.3L781 -2.4L782 -2.2L783 -1.6L784 -0.6L785 0ZM788 0L789 -0.3L790 -1.1L791 -1.7L792 -2.0L793 -2.0L794 -1.8L795 -1.2L796 -1.8L797 -2.0L798 -2.0L799 -1.8L800 -1.1L801 -0.3L802 0ZM815 0L816 -0.6L817 -1.4L818 -1.9L819 -2.0L820 -1.9L821 -1.6L822 -2.3L823 -2.9L824 -2.9L825 -2.9L826 -2.3L827 -4.7L828 -5.8L829 -5.9L830 -7.2L831 -8.7L832 -8.8L833 -8.5L834 -8.1L835 -8.3L836 -9.1L837 -10.7L838 -10.8L839 -10.2L840 -7.3L841 -6.9L842 -6.5L843 -6.0L844 -6.8L845 -6.9L846 -7.9L847 -8.3L848 -8.1L849 -6.8L850 -3.5L851 -2.9L852 -2.2L853 -2.6L854 -4.0L855 -4.3L856 -4.3L857 -4.6L858 -5.8L859 -5.9L860 -5.7L861 -4.5L862 -3.5L863 -3.5L864 -3.0L865 -1.7L866 -0.4L867 -0.7L868 -1.7L869 -2.3L870 -2.4L871 -2.3L872 -1.9L873 -1.0L874 0ZM888 0L889 -0.5L890 -2.2L891 -4.1L892 -5.0L893 -9.2L894 -10.7L895 -11.0L896 -12.7L897 -12.8L898 -12.0L899 -8.3L900 -7.7L901 -6.2L902 -2.9L903 -1.5L904 -1.0L905 -0.3L906 0ZM906 0L907 -0.4L908 -1.4L909 -2.2L910 -2.4L911 -2.3L912 -2.1L913 -1.3L914 -0.5L915 -1.5L916 -2.2L917 -2.4L918 -2.3L919 -2.0L920 -1.2L921 -0.3L922 0ZM922 0L923 -0.7L924 -1.7L925 -2.3L926 -2.4L927 -2.3L928 -1.9L929 -1.0L930 0ZM930 0L931 -1.2L932 -2.7L933 -3.4L934 -3.5L935 -3.5L936 -3.8L937 -4.8L938 -4.9L939 -4.8L940 -5.4L941 -5.5L942 -5.3L943 -5.6L944 -6.8L945 -6.9L946 -6.6L947 -4.9L948 -4.9L949 -8.4L950 -9.7L951 -9.8L952 -12.6L953 -13.4L954 -14.5L955 -15.3L955 0Z" fill="#ffa510" stroke="#e48f0a" stroke-width="0.7" stroke-linejoin="round"/>
<line x1="109.60" y1="2159.60" x2="1064.30" y2="2159.60" stroke="#6b4d0c" stroke-width="1.4" />
<line x1="109.60" y1="2123.90" x2="109.60" y2="2160.20" stroke="#000" stroke-width="1.5" />
<line x1="109.60" y1="2139.60" x2="116.60" y2="2139.60" stroke="#000" stroke-width="1.5" />
<text x="99.60" y="2146.30" font-size="18.8" text-anchor="end" fill="#000" >0.5</text>
<text x="1080.70" y="2149.30" font-size="21" text-anchor="start" fill="#000" >S3</text>
<path transform="translate(109.6,2202.5)" d="M0 0L1 -1.0L2 -2.2L3 -2.8L4 -2.9L5 -2.9L6 -4.0L7 -4.2L8 -4.9L9 -5.7L10 -5.7L11 -5.4L12 -3.7L13 -1.3L14 0ZM29 0L30 -0.9L31 -3.0L32 -4.8L33 -5.3L34 -5.3L35 -4.8L36 -3.0L37 -0.9L38 0ZM49 0L50 -0.5L51 -1.6L52 -2.6L53 -2.9L54 -2.9L55 -2.6L56 -1.6L57 -0.5L58 0ZM78 0L79 -0.9L80 -2.1L81 -2.8L82 -3.1L83 -5.1L84 -5.7L85 -5.7L86 -5.2L87 -3.3L88 -2.7L89 -2.5L90 -4.2L91 -4.7L92 -5.7L93 -7.4L94 -7.6L95 -8.5L96 -9.1L97 -9.1L98 -8.0L99 -4.8L100 -4.7L101 -4.0L102 -2.1L103 -0.5L104 0ZM104 0L105 -0.3L106 -1.3L107 -2.4L108 -2.8L109 -2.9L110 -2.7L111 -1.9L112 -2.0L113 -3.1L114 -3.4L115 -3.4L116 -3.1L117 -2.0L118 -2.7L119 -2.9L120 -2.8L121 -2.4L122 -1.2L123 -0.3L124 0ZM124 0L125 -1.2L126 -3.6L127 -5.3L128 -5.7L129 -8.1L130 -8.6L131 -8.5L132 -7.3L133 -4.7L134 -3.9L135 -2.0L136 -0.4L137 0ZM170 0L171 -0.4L172 -1.3L173 -2.1L174 -2.3L175 -2.3L176 -2.0L177 -1.2L178 -0.3L179 -0.4L180 -2.6L181 -5.8L182 -7.4L183 -9.8L184 -12.1L185 -12.4L186 -14.1L187 -14.3L188 -13.7L189 -10.0L190 -8.6L191 -8.0L192 -5.5L193 -4.8L194 -4.3L195 -2.8L196 -1.9L197 -1.5L198 -0.7L199 0ZM229 0L230 -0.5L231 -1.6L232 -2.6L233 -2.9L234 -2.9L235 -2.6L236 -1.6L237 -0.5L238 0ZM238 0L239 -0.3L240 -1.9L241 -4.3L242 -5.6L243 -5.7L244 -6.9L245 -8.4L246 -8.6L247 -11.5L248 -12.4L249 -12.3L250 -10.8L251 -7.6L252 -7.4L253 -7.3L254 -8.0L255 -8.0L256 -7.1L257 -9.9L258 -10.5L259 -14.2L260 -14.9L261 -14.7L262 -12.2L263 -10.4L264 -9.4L265 -7.5L266 -7.6L267 -7.3L268 -10.7L269 -12.3L270 -13.6L271 -17.1L272 -17.5L273 -17.0L274 -13.3L275 -13.3L276 -11.9L277 -9.5L278 -9.5L279 -8.2L280 -4.6L281 -2.8L282 -2.3L283 -1.2L284 -2.3L285 -2.8L286 -2.9L287 -2.8L288 -3.8L289 -6.7L290 -7.6L291 -8.7L292 -10.8L293 -11.0L294 -10.7L295 -8.2L296 -6.6L297 -5.9L298 -3.5L299 -0.9L300 0ZM301 0L302 -0.9L303 -1.8L304 -2.2L305 -2.3L306 -2.2L307 -1.7L308 -0.7L309 0ZM310 0L311 -0.5L312 -1.7L313 -2.6L314 -2.9L315 -2.9L316 -2.9L317 -2.5L318 -1.4L319 -0.3L320 -1.0L321 -2.5L322 -3.4L323 -3.5L324 -7.1L325 -9.5L326 -9.8L327 -13.9L328 -15.3L329 -15.3L330 -13.8L331 -8.5L332 -7.7L333 -6.1L334 -2.8L335 -2.3L336 -2.7L337 -5.5L338 -6.8L339 -6.9L340 -8.9L341 -10.7L342 -10.8L343 -10.4L344 -7.8L345 -7.9L346 -7.5L347 -7.6L348 -8.8L349 -8.8L350 -8.3L351 -7.2L352 -8.2L353 -8.2L354 -7.7L355 -7.3L356 -8.2L357 -8.2L358 -8.5L359 -9.4L360 -9.4L361 -8.6L362 -5.7L363 -5.9L364 -5.8L365 -4.6L366 -2.2L367 -2.0L368 -1.7L369 -1.3L370 -3.6L371 -5.2L372 -5.5L373 -6.7L374 -8.1L375 -8.3L376 -7.9L377 -5.8L378 -4.9L379 -4.8L380 -4.4L381 -4.9L382 -4.9L383 -4.5L384 -4.3L385 -4.3L386 -4.0L387 -2.7L388 -0.9L389 0ZM398 0L399 -0.6L400 -1.9L401 -2.7L402 -2.9L403 -2.9L404 -2.6L405 -1.5L406 -0.4L407 0ZM444 0L445 -1.1L446 -2.3L447 -2.9L448 -2.9L449 -2.9L450 -2.2L451 -0.9L452 0ZM472 0L473 -0.5L474 -1.4L475 -2.2L476 -2.4L477 -2.3L478 -2.1L479 -1.2L480 -0.8L481 -2.3L482 -3.3L483 -3.5L484 -3.5L485 -3.0L486 -3.0L487 -4.1L488 -4.3L489 -4.3L490 -5.7L491 -5.9L492 -5.8L493 -4.8L494 -5.5L495 -5.5L496 -5.2L497 -3.5L498 -2.0L499 -1.9L500 -1.5L501 -0.7L502 0ZM509 0L510 -0.7L511 -3.2L512 -5.8L513 -6.8L514 -9.0L515 -12.9L516 -13.7L517 -13.6L518 -11.8L519 -6.9L520 -6.4L521 -4.3L522 -2.4L523 -2.2L524 -2.8L525 -4.4L526 -4.9L527 -4.9L528 -4.5L529 -2.8L530 -4.0L531 -4.3L532 -4.3L533 -4.7L534 -7.0L535 -7.5L536 -7.4L537 -6.5L538 -4.1L539 -4.3L540 -4.3L541 -4.1L542 -5.6L543 -5.9L544 -5.8L545 -4.9L546 -2.6L547 -3.4L548 -3.5L549 -3.5L550 -2.9L551 -1.4L552 -0.3L553 0ZM555 0L556 -0.5L557 -1.6L558 -2.7L559 -2.9L560 -2.9L561 -2.7L562 -1.7L563 -0.5L564 -0.4L565 -1.9L566 -3.6L567 -4.3L568 -4.3L569 -4.1L570 -5.9L571 -6.8L572 -6.9L573 -6.5L574 -5.2L575 -5.9L576 -5.9L577 -5.5L578 -6.9L579 -8.7L580 -8.8L581 -10.1L582 -13.3L583 -13.8L584 -13.5L585 -11.0L586 -6.9L587 -6.6L588 -4.9L589 -1.9L590 -2.8L591 -4.0L592 -4.3L593 -4.3L594 -3.7L595 -3.7L596 -5.2L597 -5.5L598 -5.4L599 -4.8L600 -6.6L601 -6.9L602 -6.8L603 -7.6L604 -7.9L605 -7.7L606 -6.3L607 -4.3L608 -4.2L609 -3.4L610 -4.6L611 -5.8L612 -5.9L613 -5.7L614 -4.5L615 -2.9L616 -2.9L617 -2.2L618 -4.1L619 -6.3L620 -6.9L621 -8.2L622 -9.7L623 -9.8L624 -9.3L625 -6.8L626 -6.9L627 -6.5L628 -4.5L629 -2.0L630 -2.0L631 -1.8L632 -1.2L633 -0.7L634 -2.4L635 -3.9L636 -4.3L637 -4.3L638 -4.5L639 -4.9L640 -7.0L641 -7.5L642 -7.4L643 -6.4L644 -4.3L645 -4.0L646 -2.7L647 -2.8L648 -2.9L649 -5.0L650 -6.6L651 -6.9L652 -9.8L653 -10.8L654 -10.8L655 -9.7L656 -6.0L657 -5.8L658 -4.6L659 -2.9L660 -2.9L661 -2.9L662 -2.2L663 -1.0L664 -0.5L665 -2.5L666 -4.9L667 -5.8L668 -5.9L669 -8.8L670 -9.4L671 -9.4L672 -10.7L673 -10.8L674 -10.2L675 -8.2L676 -8.2L677 -7.7L678 -5.3L679 -4.3L680 -6.1L681 -6.9L682 -6.9L683 -8.5L684 -8.8L685 -8.7L686 -7.1L687 -6.9L688 -6.6L689 -5.0L690 -2.3L691 -2.1L692 -1.3L693 -1.5L694 -2.2L695 -2.4L696 -2.3L697 -2.0L698 -2.4L699 -3.4L700 -3.5L701 -3.5L702 -3.0L703 -2.5L704 -3.4L705 -3.5L706 -3.5L707 -2.9L708 -2.6L709 -3.4L710 -3.5L711 -3.5L712 -2.8L713 -3.4L714 -4.2L715 -4.3L716 -5.0L717 -6.2L718 -6.3L719 -6.1L720 -4.6L721 -3.9L722 -3.3L723 -1.8L724 -0.5L725 -1.5L726 -2.2L727 -2.4L728 -2.3L729 -2.0L730 -1.2L731 -1.2L732 -2.1L733 -2.3L734 -2.4L735 -2.2L736 -1.9L737 -3.2L738 -3.5L739 -3.5L740 -3.2L741 -3.2L742 -4.2L743 -4.3L744 -4.2L745 -3.4L746 -4.1L747 -4.9L748 -4.9L749 -4.7L750 -3.4L751 -1.7L752 -4.6L753 -6.5L754 -6.9L755 -7.8L756 -9.3L757 -9.4L758 -9.0L759 -6.9L760 -6.8L761 -5.6L762 -2.9L763 -3.8L764 -3.9L765 -4.8L766 -5.5L767 -5.5L768 -5.1L769 -3.4L770 -2.9L771 -2.9L772 -2.2L773 -1.0L774 0ZM779 0L780 -0.6L781 -2.7L782 -5.0L783 -5.8L784 -5.9L785 -8.3L786 -8.8L787 -8.8L788 -7.5L789 -5.9L790 -5.8L791 -4.6L792 -2.9L793 -2.9L794 -2.7L795 -1.8L796 -0.6L797 0ZM797 0L798 -0.3L799 -1.5L800 -3.3L801 -4.2L802 -4.3L803 -5.9L804 -6.3L805 -6.3L806 -5.5L807 -4.3L808 -4.3L809 -3.7L810 -2.1L811 -0.5L812 0ZM813 0L814 -1.0L815 -2.5L816 -3.4L817 -3.5L818 -5.1L819 -6.7L820 -6.9L821 -6.7L822 -6.7L823 -6.9L824 -6.7L825 -5.3L826 -4.8L827 -4.9L828 -9.1L829 -11.2L830 -11.4L831 -12.0L832 -14.5L833 -14.7L834 -14.1L835 -15.1L836 -15.3L837 -14.6L838 -13.6L839 -13.7L840 -13.0L841 -9.2L842 -5.8L843 -5.0L844 -2.8L845 -1.6L846 -2.6L847 -2.9L848 -2.9L849 -2.7L850 -1.8L851 -0.6L852 0ZM860 0L861 -1.4L862 -3.9L863 -5.6L864 -6.0L865 -8.4L866 -8.8L867 -8.8L868 -7.5L869 -4.3L870 -5.7L871 -6.0L872 -7.9L873 -8.3L874 -8.1L875 -6.7L876 -3.5L877 -2.8L878 -1.4L879 -0.3L880 -1.1L881 -2.3L882 -2.9L883 -2.9L884 -2.9L885 -2.2L886 -1.0L887 0ZM887 0L888 -0.3L889 -1.3L890 -2.5L891 -2.9L892 -2.9L893 -2.8L894 -3.7L895 -4.3L896 -4.3L897 -4.1L898 -2.8L899 -2.4L900 -2.2L901 -1.5L902 -0.5L903 0ZM903 0L904 -0.7L905 -2.2L906 -3.6L907 -3.9L908 -3.9L909 -4.4L910 -6.9L911 -7.5L912 -7.4L913 -6.6L914 -5.9L915 -5.9L916 -5.2L917 -4.1L918 -4.3L919 -4.3L920 -3.7L921 -2.1L922 -0.6L923 -2.6L924 -4.9L925 -5.8L926 -7.8L927 -10.4L928 -10.8L929 -12.8L930 -14.1L931 -14.1L932 -12.8L933 -9.8L934 -9.6L935 -7.7L936 -3.6L937 -3.3L938 -5.0L939 -6.2L940 -7.1L941 -8.7L942 -8.8L943 -10.0L944 -12.0L945 -12.7L946 -15.1L947 -15.3L948 -14.6L949 -10.6L950 -9.8L951 -8.8L952 -12.2L953 -14.1L954 -14.9L955 -15.7L955 0Z" fill="#ffa510" stroke="#e48f0a" stroke-width="0.7" stroke-linejoin="round"/>
<line x1="109.60" y1="2202.50" x2="1064.30" y2="2202.50" stroke="#6b4d0c" stroke-width="1.4" />
<line x1="109.60" y1="2166.80" x2="109.60" y2="2203.10" stroke="#000" stroke-width="1.5" />
<line x1="109.60" y1="2182.50" x2="116.60" y2="2182.50" stroke="#000" stroke-width="1.5" />
<text x="99.60" y="2189.20" font-size="18.8" text-anchor="end" fill="#000" >0.5</text>
<text x="1080.70" y="2192.20" font-size="21" text-anchor="start" fill="#000" >S4</text>
<text x="0" y="0" transform="translate(1133.40,1441.50) rotate(90)" font-size="21" text-anchor="middle" fill="#60b1fa" >H3K9me3 WT</text>
<text x="0" y="0" transform="translate(1133.40,1660.30) rotate(90)" font-size="21" text-anchor="middle" fill="#4484c0" >H3K9me3 KO</text>
<text x="0" y="0" transform="translate(1133.40,1879.05) rotate(90)" font-size="21" text-anchor="middle" fill="#fd6548" >H3K27ac WT</text>
<text x="0" y="0" transform="translate(1133.40,2097.80) rotate(90)" font-size="21" text-anchor="middle" fill="#ffa510" >H3K27ac KO</text>
<text x="0" y="0" transform="translate(36.40,1771.00) rotate(-90)" font-size="25.5" text-anchor="middle" fill="#000" >RPM</text>
<text x="467.90" y="2230.00" font-size="18.4" text-anchor="middle" fill="#000" >MER11</text>
<text x="601.50" y="2230.00" font-size="18.4" text-anchor="middle" fill="#000" >MER11</text>
<line x1="693.57" y1="2236.40" x2="999.64" y2="2236.40" stroke="#000" stroke-width="1.3" />
<rect x="692.99" y="2228.10" width="2.60" height="16.60" fill="#000" />
<rect x="698.70" y="2228.10" width="2.60" height="16.60" fill="#000" />
<rect x="717.99" y="2228.10" width="2.60" height="16.60" fill="#000" />
<rect x="766.46" y="2228.10" width="2.80" height="16.60" fill="#000" />
<rect x="788.60" y="2228.10" width="2.80" height="16.60" fill="#000" />
<rect x="809.13" y="2228.10" width="4.60" height="16.60" fill="#000" />
<rect x="835.74" y="2228.10" width="2.80" height="16.60" fill="#000" />
<rect x="887.79" y="2228.10" width="3.00" height="16.60" fill="#000" />
<rect x="914.77" y="2228.10" width="2.60" height="16.60" fill="#000" />
<rect x="943.70" y="2228.10" width="2.60" height="16.60" fill="#000" />
<rect x="956.46" y="2228.10" width="2.80" height="16.60" fill="#000" />
<rect x="988.93" y="2227.60" width="10.71" height="17.60" fill="#000" />
<path d="M719.2 2236.4L711.0 2233.1L711.0 2239.7000000000003Z" fill="#000"/>
<path d="M742.4 2236.4L734.2 2233.1L734.2 2239.7000000000003Z" fill="#000"/>
<path d="M764.9 2236.4L756.7 2233.1L756.7 2239.7000000000003Z" fill="#000"/>
<path d="M786.3 2236.4L778.1 2233.1L778.1 2239.7000000000003Z" fill="#000"/>
<path d="M808.5 2236.4L800.3 2233.1L800.3 2239.7000000000003Z" fill="#000"/>
<path d="M829.9 2236.4L821.7 2233.1L821.7 2239.7000000000003Z" fill="#000"/>
<path d="M851.3 2236.4L843.1 2233.1L843.1 2239.7000000000003Z" fill="#000"/>
<path d="M873.5 2236.4L865.3 2233.1L865.3 2239.7000000000003Z" fill="#000"/>
<path d="M896.0 2236.4L887.8 2233.1L887.8 2239.7000000000003Z" fill="#000"/>
<path d="M917.4 2236.4L909.2 2233.1L909.2 2239.7000000000003Z" fill="#000"/>
<path d="M938.8 2236.4L930.6 2233.1L930.6 2239.7000000000003Z" fill="#000"/>
<path d="M960.3 2236.4L952.1 2233.1L952.1 2239.7000000000003Z" fill="#000"/>
<path d="M982.8 2236.4L974.6 2233.1L974.6 2239.7000000000003Z" fill="#000"/>
<text x="846.40" y="2266.40" font-size="13.8" text-anchor="middle" fill="#000" >TDO2</text>
<line x1="109.60" y1="2281.00" x2="1064.60" y2="2281.00" stroke="#333" stroke-width="1.5" />
<text x="586.90" y="2313.60" font-size="19.1" text-anchor="middle" fill="#000" >chr4:156792868-156845136</text>
</svg>
</body></html>
